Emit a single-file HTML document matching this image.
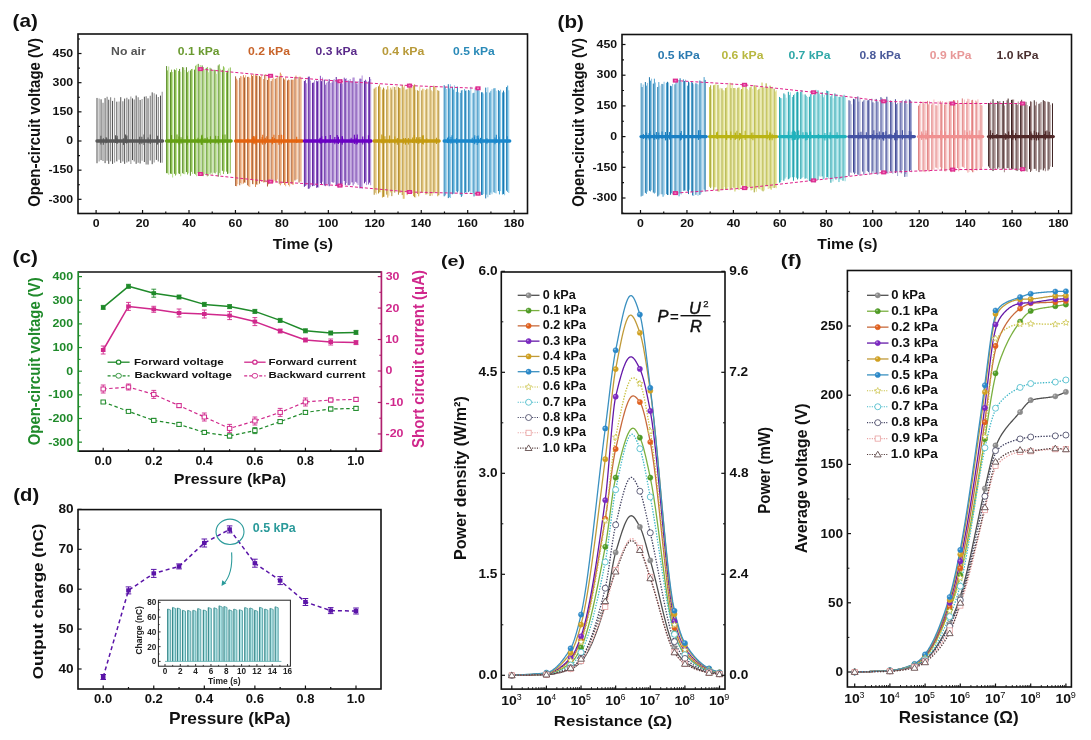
<!DOCTYPE html>
<html><head><meta charset="utf-8"><title>Figure</title>
<style>
html,body{margin:0;padding:0;background:#fff;width:1091px;height:740px;overflow:hidden}
svg{display:block;will-change:transform}
svg text{font-family:"Liberation Sans", Arial, sans-serif}
</style></head><body>
<svg width="1091" height="740" viewBox="0 0 1091 740">
<rect width="1091" height="740" fill="#fff"/>
<line x1="97" y1="97.94" x2="97" y2="163.24" stroke="#505050" stroke-width="1"/>
<line x1="99.13" y1="98.59" x2="99.13" y2="161.51" stroke="#a4a4a4" stroke-width="1.2"/>
<line x1="101.07" y1="99.29" x2="101.07" y2="160.11" stroke="#505050" stroke-width="1"/>
<line x1="103.01" y1="102.7" x2="103.01" y2="161.04" stroke="#8c8c8c" stroke-width="1.2"/>
<line x1="105.09" y1="98.12" x2="105.09" y2="163.13" stroke="#505050" stroke-width="1"/>
<line x1="107.11" y1="96.79" x2="107.11" y2="160.74" stroke="#8c8c8c" stroke-width="1.2"/>
<line x1="108.73" y1="99.72" x2="108.73" y2="163.87" stroke="#505050" stroke-width="1"/>
<line x1="110.59" y1="97.27" x2="110.59" y2="161.32" stroke="#8c8c8c" stroke-width="1.2"/>
<line x1="112.56" y1="100.92" x2="112.56" y2="163.93" stroke="#505050" stroke-width="1"/>
<line x1="114.55" y1="97.81" x2="114.55" y2="162.65" stroke="#a4a4a4" stroke-width="1.2"/>
<line x1="116.82" y1="101.67" x2="116.82" y2="161.38" stroke="#505050" stroke-width="1"/>
<line x1="119.06" y1="101.44" x2="119.06" y2="159.84" stroke="#a4a4a4" stroke-width="1.2"/>
<line x1="120.74" y1="97.16" x2="120.74" y2="162.97" stroke="#505050" stroke-width="1"/>
<line x1="122.84" y1="101.19" x2="122.84" y2="161.5" stroke="#8c8c8c" stroke-width="1.2"/>
<line x1="124.65" y1="98.58" x2="124.65" y2="163.83" stroke="#505050" stroke-width="1"/>
<line x1="126.84" y1="97.81" x2="126.84" y2="162.4" stroke="#8c8c8c" stroke-width="1.2"/>
<line x1="128.78" y1="99.3" x2="128.78" y2="161.51" stroke="#505050" stroke-width="1"/>
<line x1="130.85" y1="96.47" x2="130.85" y2="163.93" stroke="#a4a4a4" stroke-width="1.2"/>
<line x1="132.51" y1="98.4" x2="132.51" y2="160.08" stroke="#505050" stroke-width="1"/>
<line x1="134.22" y1="99.48" x2="134.22" y2="161.42" stroke="#8c8c8c" stroke-width="1.2"/>
<line x1="136.15" y1="95.58" x2="136.15" y2="163.84" stroke="#505050" stroke-width="1"/>
<line x1="138.18" y1="97.28" x2="138.18" y2="162.86" stroke="#8c8c8c" stroke-width="1.2"/>
<line x1="140.13" y1="99.93" x2="140.13" y2="163.51" stroke="#505050" stroke-width="1"/>
<line x1="142.11" y1="98.9" x2="142.11" y2="160.85" stroke="#a4a4a4" stroke-width="1.2"/>
<line x1="144.38" y1="96.71" x2="144.38" y2="162.02" stroke="#505050" stroke-width="1"/>
<line x1="146.16" y1="96.34" x2="146.16" y2="164.54" stroke="#8c8c8c" stroke-width="1.2"/>
<line x1="148.03" y1="98.33" x2="148.03" y2="164.55" stroke="#505050" stroke-width="1"/>
<line x1="150.29" y1="95.71" x2="150.29" y2="160.46" stroke="#8c8c8c" stroke-width="1.2"/>
<line x1="152.19" y1="92.35" x2="152.19" y2="164.19" stroke="#505050" stroke-width="1"/>
<line x1="154.19" y1="93.17" x2="154.19" y2="162.4" stroke="#a4a4a4" stroke-width="1.2"/>
<line x1="156.36" y1="94.47" x2="156.36" y2="159.91" stroke="#505050" stroke-width="1"/>
<line x1="158.33" y1="96.9" x2="158.33" y2="161.59" stroke="#8c8c8c" stroke-width="1.2"/>
<line x1="160.5" y1="95.64" x2="160.5" y2="162.72" stroke="#505050" stroke-width="1"/>
<line x1="162.22" y1="91.68" x2="162.22" y2="162.75" stroke="#a4a4a4" stroke-width="1.2"/>
<line x1="97" y1="141" x2="162.6" y2="141" stroke="#585858" stroke-width="3.4" stroke-linecap="round"/>
<line x1="157.12" y1="138.22" x2="157.12" y2="144.67" stroke="#585858" stroke-width="1.1"/>
<line x1="126.9" y1="135.48" x2="126.9" y2="143.2" stroke="#585858" stroke-width="1.1"/>
<line x1="115.55" y1="135.31" x2="115.55" y2="142.96" stroke="#585858" stroke-width="1.1"/>
<line x1="116.88" y1="137.83" x2="116.88" y2="143.14" stroke="#585858" stroke-width="1.1"/>
<line x1="157.64" y1="135.87" x2="157.64" y2="144.12" stroke="#585858" stroke-width="1.1"/>
<line x1="117.14" y1="135.69" x2="117.14" y2="143.74" stroke="#585858" stroke-width="1.1"/>
<line x1="106.03" y1="137.25" x2="106.03" y2="143.36" stroke="#585858" stroke-width="1.1"/>
<line x1="148.05" y1="137.47" x2="148.05" y2="143.13" stroke="#585858" stroke-width="1.1"/>
<line x1="143.98" y1="134.59" x2="143.98" y2="144.91" stroke="#585858" stroke-width="1.1"/>
<line x1="125.59" y1="134.6" x2="125.59" y2="143.06" stroke="#585858" stroke-width="1.1"/>
<line x1="123.47" y1="138.36" x2="123.47" y2="144.9" stroke="#585858" stroke-width="1.1"/>
<line x1="126.45" y1="136.47" x2="126.45" y2="143.57" stroke="#585858" stroke-width="1.1"/>
<line x1="150.27" y1="134.59" x2="150.27" y2="144.08" stroke="#585858" stroke-width="1.1"/>
<line x1="141.82" y1="136.7" x2="141.82" y2="143.81" stroke="#585858" stroke-width="1.1"/>
<line x1="100.89" y1="135.8" x2="100.89" y2="144.51" stroke="#585858" stroke-width="1.1"/>
<line x1="139.65" y1="136.79" x2="139.65" y2="144.34" stroke="#585858" stroke-width="1.1"/>
<line x1="106.74" y1="137.65" x2="106.74" y2="142.62" stroke="#585858" stroke-width="1.1"/>
<line x1="103.36" y1="138.19" x2="103.36" y2="144.79" stroke="#585858" stroke-width="1.1"/>
<line x1="166.6" y1="66.07" x2="166.6" y2="173.16" stroke="#5a8c28" stroke-width="1"/>
<line x1="167.65" y1="70.39" x2="167.65" y2="173.29" stroke="#88bc4c" stroke-width="1"/>
<line x1="168.7" y1="66.59" x2="168.7" y2="174.69" stroke="#bce294" stroke-width="1.1"/>
<line x1="170.48" y1="72.21" x2="170.48" y2="173.65" stroke="#5a8c28" stroke-width="1"/>
<line x1="171.53" y1="69.67" x2="171.53" y2="173.93" stroke="#88bc4c" stroke-width="1"/>
<line x1="172.58" y1="71.91" x2="172.58" y2="177.51" stroke="#bce294" stroke-width="1.1"/>
<line x1="174.43" y1="69.48" x2="174.43" y2="173.83" stroke="#5a8c28" stroke-width="1"/>
<line x1="175.48" y1="70.13" x2="175.48" y2="175.56" stroke="#88bc4c" stroke-width="1"/>
<line x1="176.53" y1="68.14" x2="176.53" y2="174.46" stroke="#bce294" stroke-width="1.1"/>
<line x1="178.55" y1="70.94" x2="178.55" y2="173.45" stroke="#88bc4c" stroke-width="1"/>
<line x1="179.6" y1="68.95" x2="179.6" y2="173.96" stroke="#5a8c28" stroke-width="1"/>
<line x1="180.65" y1="71.65" x2="180.65" y2="176.37" stroke="#bce294" stroke-width="1.1"/>
<line x1="182.65" y1="67.1" x2="182.65" y2="173.25" stroke="#5a8c28" stroke-width="1"/>
<line x1="183.7" y1="67.5" x2="183.7" y2="173.82" stroke="#88bc4c" stroke-width="1"/>
<line x1="184.75" y1="69.94" x2="184.75" y2="174.28" stroke="#bce294" stroke-width="1.1"/>
<line x1="186.45" y1="67.22" x2="186.45" y2="172.08" stroke="#5a8c28" stroke-width="1"/>
<line x1="187.5" y1="72.2" x2="187.5" y2="174.53" stroke="#88bc4c" stroke-width="1"/>
<line x1="188.55" y1="70.83" x2="188.55" y2="173.22" stroke="#bce294" stroke-width="1.1"/>
<line x1="190.4" y1="70.4" x2="190.4" y2="175.74" stroke="#5a8c28" stroke-width="1"/>
<line x1="191.45" y1="69.01" x2="191.45" y2="171.85" stroke="#88bc4c" stroke-width="1"/>
<line x1="192.5" y1="68.81" x2="192.5" y2="173.93" stroke="#bce294" stroke-width="1.1"/>
<line x1="194.55" y1="69.67" x2="194.55" y2="173.84" stroke="#5a8c28" stroke-width="1"/>
<line x1="195.6" y1="65.73" x2="195.6" y2="174.61" stroke="#88bc4c" stroke-width="1"/>
<line x1="196.65" y1="64.65" x2="196.65" y2="176.24" stroke="#bce294" stroke-width="1.1"/>
<line x1="198.22" y1="63.86" x2="198.22" y2="173.04" stroke="#5a8c28" stroke-width="1"/>
<line x1="199.27" y1="68.73" x2="199.27" y2="174.74" stroke="#88bc4c" stroke-width="1"/>
<line x1="200.32" y1="64.9" x2="200.32" y2="174.72" stroke="#bce294" stroke-width="1.1"/>
<line x1="202.17" y1="65.43" x2="202.17" y2="175.61" stroke="#5a8c28" stroke-width="1"/>
<line x1="203.22" y1="67.08" x2="203.22" y2="176.14" stroke="#88bc4c" stroke-width="1"/>
<line x1="204.27" y1="69.31" x2="204.27" y2="174.25" stroke="#bce294" stroke-width="1.1"/>
<line x1="206.26" y1="68.05" x2="206.26" y2="174.27" stroke="#5a8c28" stroke-width="1"/>
<line x1="207.31" y1="66.96" x2="207.31" y2="176.39" stroke="#88bc4c" stroke-width="1"/>
<line x1="208.36" y1="72.35" x2="208.36" y2="176.12" stroke="#bce294" stroke-width="1.1"/>
<line x1="210.05" y1="67.75" x2="210.05" y2="174.3" stroke="#88bc4c" stroke-width="1"/>
<line x1="211.1" y1="68.58" x2="211.1" y2="172.72" stroke="#5a8c28" stroke-width="1"/>
<line x1="212.15" y1="70.56" x2="212.15" y2="175.09" stroke="#bce294" stroke-width="1.1"/>
<line x1="214.19" y1="69.81" x2="214.19" y2="172.81" stroke="#5a8c28" stroke-width="1"/>
<line x1="215.24" y1="69.9" x2="215.24" y2="173.5" stroke="#88bc4c" stroke-width="1"/>
<line x1="216.29" y1="73.63" x2="216.29" y2="172.28" stroke="#bce294" stroke-width="1.1"/>
<line x1="218.24" y1="65.41" x2="218.24" y2="176.65" stroke="#5a8c28" stroke-width="1"/>
<line x1="219.29" y1="64.29" x2="219.29" y2="173.14" stroke="#88bc4c" stroke-width="1"/>
<line x1="220.34" y1="68.8" x2="220.34" y2="174.9" stroke="#bce294" stroke-width="1.1"/>
<line x1="222.39" y1="69.82" x2="222.39" y2="170.82" stroke="#5a8c28" stroke-width="1"/>
<line x1="223.44" y1="66.3" x2="223.44" y2="174.04" stroke="#88bc4c" stroke-width="1"/>
<line x1="224.49" y1="67.39" x2="224.49" y2="171.61" stroke="#bce294" stroke-width="1.1"/>
<line x1="226.51" y1="72.38" x2="226.51" y2="171.7" stroke="#88bc4c" stroke-width="1"/>
<line x1="227.56" y1="70.69" x2="227.56" y2="173.95" stroke="#5a8c28" stroke-width="1"/>
<line x1="228.61" y1="68.48" x2="228.61" y2="173.59" stroke="#bce294" stroke-width="1.1"/>
<line x1="230.31" y1="67.45" x2="230.31" y2="173.3" stroke="#88bc4c" stroke-width="1"/>
<line x1="166.6" y1="141" x2="231.1" y2="141" stroke="#64a014" stroke-width="3.4" stroke-linecap="round"/>
<line x1="187.09" y1="135.66" x2="187.09" y2="144.59" stroke="#64a014" stroke-width="1.1"/>
<line x1="205.01" y1="137.99" x2="205.01" y2="143.02" stroke="#64a014" stroke-width="1.1"/>
<line x1="201.6" y1="135.61" x2="201.6" y2="144.45" stroke="#64a014" stroke-width="1.1"/>
<line x1="218.27" y1="136.01" x2="218.27" y2="144.18" stroke="#64a014" stroke-width="1.1"/>
<line x1="202.05" y1="134.73" x2="202.05" y2="144.97" stroke="#64a014" stroke-width="1.1"/>
<line x1="181.03" y1="137.3" x2="181.03" y2="143.84" stroke="#64a014" stroke-width="1.1"/>
<line x1="171.54" y1="135.05" x2="171.54" y2="143.12" stroke="#64a014" stroke-width="1.1"/>
<line x1="215.66" y1="135.77" x2="215.66" y2="143.62" stroke="#64a014" stroke-width="1.1"/>
<line x1="194.63" y1="137.5" x2="194.63" y2="143.6" stroke="#64a014" stroke-width="1.1"/>
<line x1="201.15" y1="138.46" x2="201.15" y2="144.59" stroke="#64a014" stroke-width="1.1"/>
<line x1="178.98" y1="136.56" x2="178.98" y2="144.48" stroke="#64a014" stroke-width="1.1"/>
<line x1="225.02" y1="134.59" x2="225.02" y2="142.55" stroke="#64a014" stroke-width="1.1"/>
<line x1="210.45" y1="136.18" x2="210.45" y2="143.98" stroke="#64a014" stroke-width="1.1"/>
<line x1="176.98" y1="134.57" x2="176.98" y2="143.19" stroke="#64a014" stroke-width="1.1"/>
<line x1="202.73" y1="137.81" x2="202.73" y2="142.72" stroke="#64a014" stroke-width="1.1"/>
<line x1="198" y1="137.79" x2="198" y2="143.29" stroke="#64a014" stroke-width="1.1"/>
<line x1="222.63" y1="134.82" x2="222.63" y2="144.83" stroke="#64a014" stroke-width="1.1"/>
<line x1="207.27" y1="137.6" x2="207.27" y2="143.28" stroke="#64a014" stroke-width="1.1"/>
<line x1="235.6" y1="76.33" x2="235.6" y2="186.03" stroke="#a8643a" stroke-width="1"/>
<line x1="236.65" y1="78.68" x2="236.65" y2="186.22" stroke="#e08a50" stroke-width="1"/>
<line x1="237.7" y1="80.14" x2="237.7" y2="184.27" stroke="#f2bc90" stroke-width="1.1"/>
<line x1="239.75" y1="77.91" x2="239.75" y2="185.29" stroke="#a8643a" stroke-width="1"/>
<line x1="240.8" y1="76.07" x2="240.8" y2="183.07" stroke="#e08a50" stroke-width="1"/>
<line x1="241.85" y1="76.64" x2="241.85" y2="184.21" stroke="#f2bc90" stroke-width="1.1"/>
<line x1="243.45" y1="75.15" x2="243.45" y2="183.55" stroke="#e08a50" stroke-width="1"/>
<line x1="244.5" y1="77.49" x2="244.5" y2="182.52" stroke="#a8643a" stroke-width="1"/>
<line x1="245.55" y1="75.34" x2="245.55" y2="182.74" stroke="#f2bc90" stroke-width="1.1"/>
<line x1="247.62" y1="76.9" x2="247.62" y2="185.28" stroke="#a8643a" stroke-width="1"/>
<line x1="248.67" y1="76.84" x2="248.67" y2="186.22" stroke="#e08a50" stroke-width="1"/>
<line x1="249.72" y1="77.8" x2="249.72" y2="186.89" stroke="#f2bc90" stroke-width="1.1"/>
<line x1="251.53" y1="74.55" x2="251.53" y2="180.15" stroke="#e08a50" stroke-width="1"/>
<line x1="252.58" y1="75.98" x2="252.58" y2="184.14" stroke="#a8643a" stroke-width="1"/>
<line x1="253.63" y1="73.83" x2="253.63" y2="184.13" stroke="#f2bc90" stroke-width="1.1"/>
<line x1="255.54" y1="75.18" x2="255.54" y2="186.98" stroke="#e08a50" stroke-width="1"/>
<line x1="256.59" y1="75.49" x2="256.59" y2="184.54" stroke="#a8643a" stroke-width="1"/>
<line x1="257.64" y1="75.53" x2="257.64" y2="184.73" stroke="#f2bc90" stroke-width="1.1"/>
<line x1="259.52" y1="76.12" x2="259.52" y2="183.65" stroke="#a8643a" stroke-width="1"/>
<line x1="260.57" y1="76.88" x2="260.57" y2="180.81" stroke="#e08a50" stroke-width="1"/>
<line x1="261.62" y1="75.19" x2="261.62" y2="182.08" stroke="#f2bc90" stroke-width="1.1"/>
<line x1="263.69" y1="79.04" x2="263.69" y2="182.49" stroke="#e08a50" stroke-width="1"/>
<line x1="264.74" y1="74.76" x2="264.74" y2="182.17" stroke="#a8643a" stroke-width="1"/>
<line x1="265.79" y1="74.09" x2="265.79" y2="182.3" stroke="#f2bc90" stroke-width="1.1"/>
<line x1="267.48" y1="79.97" x2="267.48" y2="186.51" stroke="#a8643a" stroke-width="1"/>
<line x1="268.53" y1="75.81" x2="268.53" y2="184.27" stroke="#e08a50" stroke-width="1"/>
<line x1="269.58" y1="77.32" x2="269.58" y2="183.21" stroke="#f2bc90" stroke-width="1.1"/>
<line x1="271.2" y1="81.08" x2="271.2" y2="179.63" stroke="#a8643a" stroke-width="1"/>
<line x1="272.25" y1="79.07" x2="272.25" y2="179.58" stroke="#e08a50" stroke-width="1"/>
<line x1="273.3" y1="77.43" x2="273.3" y2="182.56" stroke="#f2bc90" stroke-width="1.1"/>
<line x1="275.24" y1="78.88" x2="275.24" y2="180.84" stroke="#a8643a" stroke-width="1"/>
<line x1="276.29" y1="78.11" x2="276.29" y2="182.29" stroke="#e08a50" stroke-width="1"/>
<line x1="277.34" y1="75.99" x2="277.34" y2="179.43" stroke="#f2bc90" stroke-width="1.1"/>
<line x1="279.27" y1="76.34" x2="279.27" y2="183.77" stroke="#a8643a" stroke-width="1"/>
<line x1="280.32" y1="72.63" x2="280.32" y2="185.33" stroke="#e08a50" stroke-width="1"/>
<line x1="281.37" y1="74.25" x2="281.37" y2="183.7" stroke="#f2bc90" stroke-width="1.1"/>
<line x1="283.47" y1="78.32" x2="283.47" y2="183.01" stroke="#a8643a" stroke-width="1"/>
<line x1="284.52" y1="79.49" x2="284.52" y2="184.82" stroke="#e08a50" stroke-width="1"/>
<line x1="285.57" y1="77.05" x2="285.57" y2="186.33" stroke="#f2bc90" stroke-width="1.1"/>
<line x1="287.49" y1="80.43" x2="287.49" y2="182.9" stroke="#a8643a" stroke-width="1"/>
<line x1="288.54" y1="79.57" x2="288.54" y2="185.07" stroke="#e08a50" stroke-width="1"/>
<line x1="289.59" y1="79.89" x2="289.59" y2="186.38" stroke="#f2bc90" stroke-width="1.1"/>
<line x1="291.3" y1="79.66" x2="291.3" y2="183.68" stroke="#a8643a" stroke-width="1"/>
<line x1="292.35" y1="79.78" x2="292.35" y2="184.49" stroke="#e08a50" stroke-width="1"/>
<line x1="293.4" y1="79.65" x2="293.4" y2="184.68" stroke="#f2bc90" stroke-width="1.1"/>
<line x1="294.91" y1="76.93" x2="294.91" y2="180.5" stroke="#a8643a" stroke-width="1"/>
<line x1="295.96" y1="75.62" x2="295.96" y2="179.61" stroke="#e08a50" stroke-width="1"/>
<line x1="297.01" y1="79.21" x2="297.01" y2="179.33" stroke="#f2bc90" stroke-width="1.1"/>
<line x1="299.06" y1="76.91" x2="299.06" y2="182.64" stroke="#a8643a" stroke-width="1"/>
<line x1="300.11" y1="76.64" x2="300.11" y2="181.32" stroke="#e08a50" stroke-width="1"/>
<line x1="301.16" y1="78.15" x2="301.16" y2="181.77" stroke="#f2bc90" stroke-width="1.1"/>
<line x1="235.6" y1="141" x2="302.1" y2="141" stroke="#e46410" stroke-width="3.4" stroke-linecap="round"/>
<line x1="274.51" y1="138.22" x2="274.51" y2="142.67" stroke="#e46410" stroke-width="1.1"/>
<line x1="265.26" y1="137.84" x2="265.26" y2="144.28" stroke="#e46410" stroke-width="1.1"/>
<line x1="247.7" y1="138.13" x2="247.7" y2="144.09" stroke="#e46410" stroke-width="1.1"/>
<line x1="254.84" y1="137.28" x2="254.84" y2="143.82" stroke="#e46410" stroke-width="1.1"/>
<line x1="252.43" y1="137.16" x2="252.43" y2="142.67" stroke="#e46410" stroke-width="1.1"/>
<line x1="281.3" y1="134.86" x2="281.3" y2="144.15" stroke="#e46410" stroke-width="1.1"/>
<line x1="266.85" y1="136.27" x2="266.85" y2="142.62" stroke="#e46410" stroke-width="1.1"/>
<line x1="256.15" y1="135.56" x2="256.15" y2="144.99" stroke="#e46410" stroke-width="1.1"/>
<line x1="272.37" y1="137.08" x2="272.37" y2="144.35" stroke="#e46410" stroke-width="1.1"/>
<line x1="262.13" y1="136.9" x2="262.13" y2="143.71" stroke="#e46410" stroke-width="1.1"/>
<line x1="253.82" y1="136.06" x2="253.82" y2="144.29" stroke="#e46410" stroke-width="1.1"/>
<line x1="253.77" y1="136.06" x2="253.77" y2="143.11" stroke="#e46410" stroke-width="1.1"/>
<line x1="278.9" y1="135.09" x2="278.9" y2="144.67" stroke="#e46410" stroke-width="1.1"/>
<line x1="262.76" y1="134.79" x2="262.76" y2="144.83" stroke="#e46410" stroke-width="1.1"/>
<line x1="253.13" y1="137.42" x2="253.13" y2="142.68" stroke="#e46410" stroke-width="1.1"/>
<line x1="283.37" y1="135.02" x2="283.37" y2="143.95" stroke="#e46410" stroke-width="1.1"/>
<line x1="273.94" y1="134.77" x2="273.94" y2="142.87" stroke="#e46410" stroke-width="1.1"/>
<line x1="296.69" y1="136.66" x2="296.69" y2="142.91" stroke="#e46410" stroke-width="1.1"/>
<line x1="304.4" y1="81.03" x2="304.4" y2="186.77" stroke="#5a1c9c" stroke-width="1"/>
<line x1="305.45" y1="79.87" x2="305.45" y2="185.9" stroke="#8450bc" stroke-width="1"/>
<line x1="306.5" y1="83.26" x2="306.5" y2="185.28" stroke="#b898dc" stroke-width="1.1"/>
<line x1="308.34" y1="76.7" x2="308.34" y2="188.79" stroke="#5a1c9c" stroke-width="1"/>
<line x1="309.39" y1="76.57" x2="309.39" y2="188.53" stroke="#8450bc" stroke-width="1"/>
<line x1="310.44" y1="80.53" x2="310.44" y2="187.37" stroke="#b898dc" stroke-width="1.1"/>
<line x1="312.45" y1="82.82" x2="312.45" y2="186.17" stroke="#5a1c9c" stroke-width="1"/>
<line x1="313.5" y1="82.52" x2="313.5" y2="185.71" stroke="#8450bc" stroke-width="1"/>
<line x1="314.55" y1="80.18" x2="314.55" y2="185.99" stroke="#b898dc" stroke-width="1.1"/>
<line x1="316.52" y1="80.71" x2="316.52" y2="187.83" stroke="#8450bc" stroke-width="1"/>
<line x1="317.57" y1="81.34" x2="317.57" y2="187.4" stroke="#5a1c9c" stroke-width="1"/>
<line x1="318.62" y1="80.55" x2="318.62" y2="187.6" stroke="#b898dc" stroke-width="1.1"/>
<line x1="320.39" y1="75.81" x2="320.39" y2="183.06" stroke="#8450bc" stroke-width="1"/>
<line x1="321.44" y1="81.12" x2="321.44" y2="184.71" stroke="#5a1c9c" stroke-width="1"/>
<line x1="322.49" y1="77.51" x2="322.49" y2="181.78" stroke="#b898dc" stroke-width="1.1"/>
<line x1="324.29" y1="79.63" x2="324.29" y2="185.47" stroke="#5a1c9c" stroke-width="1"/>
<line x1="325.34" y1="84.7" x2="325.34" y2="186.17" stroke="#8450bc" stroke-width="1"/>
<line x1="326.39" y1="82.83" x2="326.39" y2="184.87" stroke="#b898dc" stroke-width="1.1"/>
<line x1="328.13" y1="81.63" x2="328.13" y2="184.38" stroke="#8450bc" stroke-width="1"/>
<line x1="329.18" y1="79.19" x2="329.18" y2="186.22" stroke="#5a1c9c" stroke-width="1"/>
<line x1="330.23" y1="83.1" x2="330.23" y2="183.96" stroke="#b898dc" stroke-width="1.1"/>
<line x1="332.05" y1="82.4" x2="332.05" y2="182.02" stroke="#8450bc" stroke-width="1"/>
<line x1="333.1" y1="80.18" x2="333.1" y2="182.64" stroke="#5a1c9c" stroke-width="1"/>
<line x1="334.15" y1="79.11" x2="334.15" y2="182.32" stroke="#b898dc" stroke-width="1.1"/>
<line x1="336.23" y1="77.02" x2="336.23" y2="185.37" stroke="#5a1c9c" stroke-width="1"/>
<line x1="337.28" y1="80.16" x2="337.28" y2="186.31" stroke="#8450bc" stroke-width="1"/>
<line x1="338.33" y1="81.79" x2="338.33" y2="187.51" stroke="#b898dc" stroke-width="1.1"/>
<line x1="340.36" y1="83.25" x2="340.36" y2="184.37" stroke="#5a1c9c" stroke-width="1"/>
<line x1="341.41" y1="79.33" x2="341.41" y2="186.81" stroke="#8450bc" stroke-width="1"/>
<line x1="342.46" y1="83.56" x2="342.46" y2="184.38" stroke="#b898dc" stroke-width="1.1"/>
<line x1="344.26" y1="77.65" x2="344.26" y2="181" stroke="#8450bc" stroke-width="1"/>
<line x1="345.31" y1="78.9" x2="345.31" y2="184.9" stroke="#5a1c9c" stroke-width="1"/>
<line x1="346.36" y1="78.16" x2="346.36" y2="183.05" stroke="#b898dc" stroke-width="1.1"/>
<line x1="348.12" y1="80.36" x2="348.12" y2="185.16" stroke="#8450bc" stroke-width="1"/>
<line x1="349.17" y1="80.96" x2="349.17" y2="185.18" stroke="#5a1c9c" stroke-width="1"/>
<line x1="350.22" y1="79.05" x2="350.22" y2="184.45" stroke="#b898dc" stroke-width="1.1"/>
<line x1="352.09" y1="81.16" x2="352.09" y2="182.39" stroke="#5a1c9c" stroke-width="1"/>
<line x1="353.14" y1="77.57" x2="353.14" y2="185.44" stroke="#8450bc" stroke-width="1"/>
<line x1="354.19" y1="77.56" x2="354.19" y2="183.84" stroke="#b898dc" stroke-width="1.1"/>
<line x1="355.96" y1="81.58" x2="355.96" y2="181.89" stroke="#5a1c9c" stroke-width="1"/>
<line x1="357.01" y1="84.1" x2="357.01" y2="183.26" stroke="#8450bc" stroke-width="1"/>
<line x1="358.06" y1="80.91" x2="358.06" y2="185" stroke="#b898dc" stroke-width="1.1"/>
<line x1="360.04" y1="78.63" x2="360.04" y2="188.37" stroke="#5a1c9c" stroke-width="1"/>
<line x1="361.09" y1="78.77" x2="361.09" y2="186.91" stroke="#8450bc" stroke-width="1"/>
<line x1="362.14" y1="75.46" x2="362.14" y2="188.98" stroke="#b898dc" stroke-width="1.1"/>
<line x1="364.44" y1="80.9" x2="364.44" y2="183.34" stroke="#5a1c9c" stroke-width="1"/>
<line x1="365.49" y1="79.72" x2="365.49" y2="181.79" stroke="#8450bc" stroke-width="1"/>
<line x1="366.54" y1="80.76" x2="366.54" y2="185.1" stroke="#b898dc" stroke-width="1.1"/>
<line x1="368.56" y1="81.5" x2="368.56" y2="184.43" stroke="#8450bc" stroke-width="1"/>
<line x1="369.61" y1="77.06" x2="369.61" y2="182.64" stroke="#5a1c9c" stroke-width="1"/>
<line x1="370.66" y1="78.91" x2="370.66" y2="185.36" stroke="#b898dc" stroke-width="1.1"/>
<line x1="304.4" y1="141" x2="371" y2="141" stroke="#6a00c4" stroke-width="3.4" stroke-linecap="round"/>
<line x1="342.28" y1="136.69" x2="342.28" y2="143.2" stroke="#6a00c4" stroke-width="1.1"/>
<line x1="334.83" y1="137.04" x2="334.83" y2="144.35" stroke="#6a00c4" stroke-width="1.1"/>
<line x1="330.22" y1="134.94" x2="330.22" y2="142.7" stroke="#6a00c4" stroke-width="1.1"/>
<line x1="342.64" y1="138.28" x2="342.64" y2="142.62" stroke="#6a00c4" stroke-width="1.1"/>
<line x1="337.21" y1="135.09" x2="337.21" y2="143.13" stroke="#6a00c4" stroke-width="1.1"/>
<line x1="321.76" y1="136.2" x2="321.76" y2="143.35" stroke="#6a00c4" stroke-width="1.1"/>
<line x1="368.41" y1="135.31" x2="368.41" y2="143.43" stroke="#6a00c4" stroke-width="1.1"/>
<line x1="325.64" y1="136.11" x2="325.64" y2="143.35" stroke="#6a00c4" stroke-width="1.1"/>
<line x1="338.17" y1="138.38" x2="338.17" y2="143.13" stroke="#6a00c4" stroke-width="1.1"/>
<line x1="320.24" y1="137.97" x2="320.24" y2="142.78" stroke="#6a00c4" stroke-width="1.1"/>
<line x1="354.37" y1="134.74" x2="354.37" y2="144.05" stroke="#6a00c4" stroke-width="1.1"/>
<line x1="357.21" y1="134.59" x2="357.21" y2="144.2" stroke="#6a00c4" stroke-width="1.1"/>
<line x1="351.14" y1="137.68" x2="351.14" y2="142.67" stroke="#6a00c4" stroke-width="1.1"/>
<line x1="342.16" y1="135.94" x2="342.16" y2="144.64" stroke="#6a00c4" stroke-width="1.1"/>
<line x1="356.12" y1="137.63" x2="356.12" y2="144.6" stroke="#6a00c4" stroke-width="1.1"/>
<line x1="338.42" y1="136.77" x2="338.42" y2="143.98" stroke="#6a00c4" stroke-width="1.1"/>
<line x1="362.74" y1="136.55" x2="362.74" y2="144.52" stroke="#6a00c4" stroke-width="1.1"/>
<line x1="320.17" y1="137.7" x2="320.17" y2="143.73" stroke="#6a00c4" stroke-width="1.1"/>
<line x1="374.2" y1="88.7" x2="374.2" y2="194.78" stroke="#b08c30" stroke-width="1"/>
<line x1="375.25" y1="87.63" x2="375.25" y2="192.85" stroke="#d4ac4c" stroke-width="1"/>
<line x1="376.3" y1="86.93" x2="376.3" y2="194.46" stroke="#ecd494" stroke-width="1.1"/>
<line x1="378.49" y1="86.32" x2="378.49" y2="193.48" stroke="#b08c30" stroke-width="1"/>
<line x1="379.54" y1="84.5" x2="379.54" y2="192.31" stroke="#d4ac4c" stroke-width="1"/>
<line x1="380.59" y1="87.1" x2="380.59" y2="192.14" stroke="#ecd494" stroke-width="1.1"/>
<line x1="382.44" y1="89.52" x2="382.44" y2="197.57" stroke="#d4ac4c" stroke-width="1"/>
<line x1="383.49" y1="87.61" x2="383.49" y2="196.87" stroke="#b08c30" stroke-width="1"/>
<line x1="384.54" y1="88.69" x2="384.54" y2="196.75" stroke="#ecd494" stroke-width="1.1"/>
<line x1="386.74" y1="89.54" x2="386.74" y2="194.65" stroke="#b08c30" stroke-width="1"/>
<line x1="387.79" y1="86.05" x2="387.79" y2="197.61" stroke="#d4ac4c" stroke-width="1"/>
<line x1="388.84" y1="89.14" x2="388.84" y2="195.71" stroke="#ecd494" stroke-width="1.1"/>
<line x1="390.8" y1="87.57" x2="390.8" y2="192.39" stroke="#d4ac4c" stroke-width="1"/>
<line x1="391.85" y1="89.54" x2="391.85" y2="196.15" stroke="#b08c30" stroke-width="1"/>
<line x1="392.9" y1="86.42" x2="392.9" y2="191.81" stroke="#ecd494" stroke-width="1.1"/>
<line x1="394.75" y1="87" x2="394.75" y2="192.65" stroke="#b08c30" stroke-width="1"/>
<line x1="395.8" y1="89.81" x2="395.8" y2="189.76" stroke="#d4ac4c" stroke-width="1"/>
<line x1="396.85" y1="85.85" x2="396.85" y2="190.09" stroke="#ecd494" stroke-width="1.1"/>
<line x1="398.46" y1="87.16" x2="398.46" y2="194.69" stroke="#b08c30" stroke-width="1"/>
<line x1="399.51" y1="87.96" x2="399.51" y2="192.61" stroke="#d4ac4c" stroke-width="1"/>
<line x1="400.56" y1="88.17" x2="400.56" y2="193.04" stroke="#ecd494" stroke-width="1.1"/>
<line x1="402.24" y1="84.95" x2="402.24" y2="195.05" stroke="#b08c30" stroke-width="1"/>
<line x1="403.29" y1="87.46" x2="403.29" y2="198.75" stroke="#d4ac4c" stroke-width="1"/>
<line x1="404.34" y1="85.22" x2="404.34" y2="198.7" stroke="#ecd494" stroke-width="1.1"/>
<line x1="406.12" y1="89.59" x2="406.12" y2="191.84" stroke="#b08c30" stroke-width="1"/>
<line x1="407.17" y1="89.08" x2="407.17" y2="195.14" stroke="#d4ac4c" stroke-width="1"/>
<line x1="408.22" y1="86.52" x2="408.22" y2="192.78" stroke="#ecd494" stroke-width="1.1"/>
<line x1="409.85" y1="83.65" x2="409.85" y2="190.95" stroke="#b08c30" stroke-width="1"/>
<line x1="410.9" y1="87.68" x2="410.9" y2="190.69" stroke="#d4ac4c" stroke-width="1"/>
<line x1="411.95" y1="86.93" x2="411.95" y2="191.09" stroke="#ecd494" stroke-width="1.1"/>
<line x1="413.56" y1="85.45" x2="413.56" y2="196.17" stroke="#d4ac4c" stroke-width="1"/>
<line x1="414.61" y1="84.42" x2="414.61" y2="197.21" stroke="#b08c30" stroke-width="1"/>
<line x1="415.66" y1="89.69" x2="415.66" y2="197.58" stroke="#ecd494" stroke-width="1.1"/>
<line x1="417.66" y1="90.28" x2="417.66" y2="194.01" stroke="#b08c30" stroke-width="1"/>
<line x1="418.71" y1="91.01" x2="418.71" y2="196.37" stroke="#d4ac4c" stroke-width="1"/>
<line x1="419.76" y1="86.46" x2="419.76" y2="194.17" stroke="#ecd494" stroke-width="1.1"/>
<line x1="421.75" y1="90.42" x2="421.75" y2="192.36" stroke="#b08c30" stroke-width="1"/>
<line x1="422.8" y1="88.69" x2="422.8" y2="192.85" stroke="#d4ac4c" stroke-width="1"/>
<line x1="423.85" y1="89.21" x2="423.85" y2="190.79" stroke="#ecd494" stroke-width="1.1"/>
<line x1="425.82" y1="89.97" x2="425.82" y2="194.54" stroke="#d4ac4c" stroke-width="1"/>
<line x1="426.87" y1="88.73" x2="426.87" y2="194.25" stroke="#b08c30" stroke-width="1"/>
<line x1="427.92" y1="89.31" x2="427.92" y2="193.98" stroke="#ecd494" stroke-width="1.1"/>
<line x1="430.07" y1="86.56" x2="430.07" y2="196.03" stroke="#b08c30" stroke-width="1"/>
<line x1="431.12" y1="90.32" x2="431.12" y2="194.18" stroke="#d4ac4c" stroke-width="1"/>
<line x1="432.17" y1="91.25" x2="432.17" y2="195.81" stroke="#ecd494" stroke-width="1.1"/>
<line x1="433.8" y1="85.73" x2="433.8" y2="193.29" stroke="#b08c30" stroke-width="1"/>
<line x1="434.85" y1="86.75" x2="434.85" y2="192.11" stroke="#d4ac4c" stroke-width="1"/>
<line x1="435.9" y1="86.02" x2="435.9" y2="192.15" stroke="#ecd494" stroke-width="1.1"/>
<line x1="437.74" y1="90.16" x2="437.74" y2="196.31" stroke="#d4ac4c" stroke-width="1"/>
<line x1="438.79" y1="90.83" x2="438.79" y2="195.23" stroke="#b08c30" stroke-width="1"/>
<line x1="374.2" y1="141" x2="439.1" y2="141" stroke="#c49a10" stroke-width="3.4" stroke-linecap="round"/>
<line x1="394.82" y1="136.53" x2="394.82" y2="143.75" stroke="#c49a10" stroke-width="1.1"/>
<line x1="412.68" y1="137.53" x2="412.68" y2="142.94" stroke="#c49a10" stroke-width="1.1"/>
<line x1="422.42" y1="135.54" x2="422.42" y2="143.95" stroke="#c49a10" stroke-width="1.1"/>
<line x1="403.67" y1="137.9" x2="403.67" y2="143.76" stroke="#c49a10" stroke-width="1.1"/>
<line x1="408.38" y1="137.96" x2="408.38" y2="144.4" stroke="#c49a10" stroke-width="1.1"/>
<line x1="436.42" y1="137.65" x2="436.42" y2="144.06" stroke="#c49a10" stroke-width="1.1"/>
<line x1="405.46" y1="138.03" x2="405.46" y2="144.72" stroke="#c49a10" stroke-width="1.1"/>
<line x1="418.73" y1="137.6" x2="418.73" y2="144.09" stroke="#c49a10" stroke-width="1.1"/>
<line x1="426.69" y1="138.3" x2="426.69" y2="142.93" stroke="#c49a10" stroke-width="1.1"/>
<line x1="383.27" y1="136.25" x2="383.27" y2="143.76" stroke="#c49a10" stroke-width="1.1"/>
<line x1="416.39" y1="137.27" x2="416.39" y2="143.32" stroke="#c49a10" stroke-width="1.1"/>
<line x1="423.32" y1="135.21" x2="423.32" y2="144.56" stroke="#c49a10" stroke-width="1.1"/>
<line x1="389.61" y1="135.53" x2="389.61" y2="143.2" stroke="#c49a10" stroke-width="1.1"/>
<line x1="414.3" y1="135.06" x2="414.3" y2="143.17" stroke="#c49a10" stroke-width="1.1"/>
<line x1="419.97" y1="136.98" x2="419.97" y2="142.8" stroke="#c49a10" stroke-width="1.1"/>
<line x1="397.33" y1="138.05" x2="397.33" y2="144.75" stroke="#c49a10" stroke-width="1.1"/>
<line x1="384.93" y1="136.2" x2="384.93" y2="143.37" stroke="#c49a10" stroke-width="1.1"/>
<line x1="381.79" y1="134.5" x2="381.79" y2="143.25" stroke="#c49a10" stroke-width="1.1"/>
<line x1="444.2" y1="85.21" x2="444.2" y2="196.31" stroke="#1c78b0" stroke-width="1"/>
<line x1="445.25" y1="86.98" x2="445.25" y2="195.39" stroke="#44a4d4" stroke-width="1"/>
<line x1="446.3" y1="88.89" x2="446.3" y2="192.57" stroke="#94cce8" stroke-width="1.1"/>
<line x1="448.3" y1="84.21" x2="448.3" y2="198.1" stroke="#1c78b0" stroke-width="1"/>
<line x1="449.35" y1="88.29" x2="449.35" y2="197.2" stroke="#44a4d4" stroke-width="1"/>
<line x1="450.4" y1="84.3" x2="450.4" y2="198.11" stroke="#94cce8" stroke-width="1.1"/>
<line x1="452.36" y1="86.81" x2="452.36" y2="194.27" stroke="#1c78b0" stroke-width="1"/>
<line x1="453.41" y1="89.56" x2="453.41" y2="193.74" stroke="#44a4d4" stroke-width="1"/>
<line x1="454.46" y1="85.27" x2="454.46" y2="193.75" stroke="#94cce8" stroke-width="1.1"/>
<line x1="456.34" y1="91.88" x2="456.34" y2="191.28" stroke="#44a4d4" stroke-width="1"/>
<line x1="457.39" y1="86.62" x2="457.39" y2="192.47" stroke="#1c78b0" stroke-width="1"/>
<line x1="458.44" y1="92.17" x2="458.44" y2="191.23" stroke="#94cce8" stroke-width="1.1"/>
<line x1="460.32" y1="92.91" x2="460.32" y2="194.86" stroke="#44a4d4" stroke-width="1"/>
<line x1="461.37" y1="90.38" x2="461.37" y2="196.84" stroke="#1c78b0" stroke-width="1"/>
<line x1="462.42" y1="90.09" x2="462.42" y2="195.84" stroke="#94cce8" stroke-width="1.1"/>
<line x1="464.59" y1="89.2" x2="464.59" y2="193.21" stroke="#44a4d4" stroke-width="1"/>
<line x1="465.64" y1="90.69" x2="465.64" y2="192.34" stroke="#1c78b0" stroke-width="1"/>
<line x1="466.69" y1="90.53" x2="466.69" y2="193.61" stroke="#94cce8" stroke-width="1.1"/>
<line x1="468.71" y1="89.96" x2="468.71" y2="192.1" stroke="#1c78b0" stroke-width="1"/>
<line x1="469.76" y1="90.82" x2="469.76" y2="190.93" stroke="#44a4d4" stroke-width="1"/>
<line x1="470.81" y1="86.73" x2="470.81" y2="193.37" stroke="#94cce8" stroke-width="1.1"/>
<line x1="472.99" y1="93.16" x2="472.99" y2="192.78" stroke="#44a4d4" stroke-width="1"/>
<line x1="474.04" y1="92.75" x2="474.04" y2="196.43" stroke="#1c78b0" stroke-width="1"/>
<line x1="475.09" y1="88.87" x2="475.09" y2="192.32" stroke="#94cce8" stroke-width="1.1"/>
<line x1="477.15" y1="89.33" x2="477.15" y2="192.96" stroke="#1c78b0" stroke-width="1"/>
<line x1="478.2" y1="87.49" x2="478.2" y2="194.39" stroke="#44a4d4" stroke-width="1"/>
<line x1="479.25" y1="90.77" x2="479.25" y2="194.02" stroke="#94cce8" stroke-width="1.1"/>
<line x1="481.54" y1="92.24" x2="481.54" y2="194.92" stroke="#1c78b0" stroke-width="1"/>
<line x1="482.59" y1="92.36" x2="482.59" y2="194.99" stroke="#44a4d4" stroke-width="1"/>
<line x1="483.64" y1="93.47" x2="483.64" y2="194.04" stroke="#94cce8" stroke-width="1.1"/>
<line x1="485.72" y1="87.62" x2="485.72" y2="198.42" stroke="#1c78b0" stroke-width="1"/>
<line x1="486.77" y1="92.22" x2="486.77" y2="194.66" stroke="#44a4d4" stroke-width="1"/>
<line x1="487.82" y1="87.23" x2="487.82" y2="197.31" stroke="#94cce8" stroke-width="1.1"/>
<line x1="489.87" y1="92.53" x2="489.87" y2="194.89" stroke="#1c78b0" stroke-width="1"/>
<line x1="490.92" y1="90.84" x2="490.92" y2="192.63" stroke="#44a4d4" stroke-width="1"/>
<line x1="491.97" y1="89.29" x2="491.97" y2="194.16" stroke="#94cce8" stroke-width="1.1"/>
<line x1="493.98" y1="88.36" x2="493.98" y2="192.23" stroke="#1c78b0" stroke-width="1"/>
<line x1="495.03" y1="88.17" x2="495.03" y2="193" stroke="#44a4d4" stroke-width="1"/>
<line x1="496.08" y1="90.75" x2="496.08" y2="193.51" stroke="#94cce8" stroke-width="1.1"/>
<line x1="498.41" y1="90.17" x2="498.41" y2="191.05" stroke="#1c78b0" stroke-width="1"/>
<line x1="499.46" y1="91.08" x2="499.46" y2="194.4" stroke="#44a4d4" stroke-width="1"/>
<line x1="500.51" y1="89.67" x2="500.51" y2="191.13" stroke="#94cce8" stroke-width="1.1"/>
<line x1="502.46" y1="92.44" x2="502.46" y2="194.49" stroke="#44a4d4" stroke-width="1"/>
<line x1="503.51" y1="90.59" x2="503.51" y2="194.08" stroke="#1c78b0" stroke-width="1"/>
<line x1="504.56" y1="92.35" x2="504.56" y2="195.36" stroke="#94cce8" stroke-width="1.1"/>
<line x1="506.62" y1="87.09" x2="506.62" y2="190.67" stroke="#1c78b0" stroke-width="1"/>
<line x1="507.67" y1="85.57" x2="507.67" y2="191.97" stroke="#44a4d4" stroke-width="1"/>
<line x1="508.72" y1="90.29" x2="508.72" y2="193.04" stroke="#94cce8" stroke-width="1.1"/>
<line x1="444.2" y1="141" x2="509.7" y2="141" stroke="#1a88cc" stroke-width="3.4" stroke-linecap="round"/>
<line x1="474.42" y1="136.99" x2="474.42" y2="143.76" stroke="#1a88cc" stroke-width="1.1"/>
<line x1="496.32" y1="134.83" x2="496.32" y2="142.89" stroke="#1a88cc" stroke-width="1.1"/>
<line x1="478.46" y1="138.08" x2="478.46" y2="143.14" stroke="#1a88cc" stroke-width="1.1"/>
<line x1="474.76" y1="135.26" x2="474.76" y2="144.26" stroke="#1a88cc" stroke-width="1.1"/>
<line x1="494.97" y1="137.59" x2="494.97" y2="144.24" stroke="#1a88cc" stroke-width="1.1"/>
<line x1="507.19" y1="136.32" x2="507.19" y2="143.12" stroke="#1a88cc" stroke-width="1.1"/>
<line x1="472.21" y1="137.86" x2="472.21" y2="142.95" stroke="#1a88cc" stroke-width="1.1"/>
<line x1="486.94" y1="138.2" x2="486.94" y2="143.84" stroke="#1a88cc" stroke-width="1.1"/>
<line x1="480.51" y1="137.86" x2="480.51" y2="143.44" stroke="#1a88cc" stroke-width="1.1"/>
<line x1="447.53" y1="137.63" x2="447.53" y2="143.09" stroke="#1a88cc" stroke-width="1.1"/>
<line x1="448.69" y1="136.44" x2="448.69" y2="142.98" stroke="#1a88cc" stroke-width="1.1"/>
<line x1="477.2" y1="136.05" x2="477.2" y2="145" stroke="#1a88cc" stroke-width="1.1"/>
<line x1="450.95" y1="136.91" x2="450.95" y2="143.66" stroke="#1a88cc" stroke-width="1.1"/>
<line x1="481.07" y1="138.31" x2="481.07" y2="142.72" stroke="#1a88cc" stroke-width="1.1"/>
<line x1="452.02" y1="135.24" x2="452.02" y2="142.61" stroke="#1a88cc" stroke-width="1.1"/>
<line x1="478.09" y1="135.39" x2="478.09" y2="142.55" stroke="#1a88cc" stroke-width="1.1"/>
<line x1="499.05" y1="136.63" x2="499.05" y2="144.31" stroke="#1a88cc" stroke-width="1.1"/>
<line x1="456.45" y1="137.97" x2="456.45" y2="143.9" stroke="#1a88cc" stroke-width="1.1"/>
<polyline points="200.5,69.1 270.5,75.8 339.9,81.2 409.5,85.6 478,88.3" fill="none" stroke="#e0208a" stroke-width="1" stroke-dasharray="3,2" stroke-linejoin="round"/>
<polyline points="200.5,174 270.5,181.6 339.9,185.6 409.5,192 478,193.7" fill="none" stroke="#e0208a" stroke-width="1" stroke-dasharray="3,2" stroke-linejoin="round"/>
<rect x="197.9" y="67.1" width="5.2" height="4" fill="#dc2a8e" stroke="none" stroke-width="1"/>
<rect x="199.5" y="68.3" width="2" height="1.6" fill="#f07ac0" stroke="none" stroke-width="1"/>
<rect x="197.9" y="172" width="5.2" height="4" fill="#dc2a8e" stroke="none" stroke-width="1"/>
<rect x="199.5" y="173.2" width="2" height="1.6" fill="#f07ac0" stroke="none" stroke-width="1"/>
<rect x="267.9" y="73.8" width="5.2" height="4" fill="#dc2a8e" stroke="none" stroke-width="1"/>
<rect x="269.5" y="75" width="2" height="1.6" fill="#f07ac0" stroke="none" stroke-width="1"/>
<rect x="267.9" y="179.6" width="5.2" height="4" fill="#dc2a8e" stroke="none" stroke-width="1"/>
<rect x="269.5" y="180.8" width="2" height="1.6" fill="#f07ac0" stroke="none" stroke-width="1"/>
<rect x="337.3" y="79.2" width="5.2" height="4" fill="#dc2a8e" stroke="none" stroke-width="1"/>
<rect x="338.9" y="80.4" width="2" height="1.6" fill="#f07ac0" stroke="none" stroke-width="1"/>
<rect x="337.3" y="183.6" width="5.2" height="4" fill="#dc2a8e" stroke="none" stroke-width="1"/>
<rect x="338.9" y="184.8" width="2" height="1.6" fill="#f07ac0" stroke="none" stroke-width="1"/>
<rect x="406.9" y="83.6" width="5.2" height="4" fill="#dc2a8e" stroke="none" stroke-width="1"/>
<rect x="408.5" y="84.8" width="2" height="1.6" fill="#f07ac0" stroke="none" stroke-width="1"/>
<rect x="406.9" y="190" width="5.2" height="4" fill="#dc2a8e" stroke="none" stroke-width="1"/>
<rect x="408.5" y="191.2" width="2" height="1.6" fill="#f07ac0" stroke="none" stroke-width="1"/>
<rect x="475.4" y="86.3" width="5.2" height="4" fill="#dc2a8e" stroke="none" stroke-width="1"/>
<rect x="477" y="87.5" width="2" height="1.6" fill="#f07ac0" stroke="none" stroke-width="1"/>
<rect x="475.4" y="191.7" width="5.2" height="4" fill="#dc2a8e" stroke="none" stroke-width="1"/>
<rect x="477" y="192.9" width="2" height="1.6" fill="#f07ac0" stroke="none" stroke-width="1"/>
<text x="111.08" y="55.4" font-size="11.78" fill="#555555" text-anchor="start" font-weight="bold" textLength="34.6" lengthAdjust="spacingAndGlyphs">No air</text>
<text x="177.82" y="55.4" font-size="11.78" fill="#6a9a30" text-anchor="start" font-weight="bold" textLength="41.62" lengthAdjust="spacingAndGlyphs">0.1 kPa</text>
<text x="248.01" y="55.4" font-size="11.78" fill="#c8642a" text-anchor="start" font-weight="bold" textLength="42.03" lengthAdjust="spacingAndGlyphs">0.2 kPa</text>
<text x="315.62" y="55.4" font-size="11.78" fill="#5a2a8a" text-anchor="start" font-weight="bold" textLength="41.62" lengthAdjust="spacingAndGlyphs">0.3 kPa</text>
<text x="382.01" y="55.4" font-size="11.78" fill="#b89a3a" text-anchor="start" font-weight="bold" textLength="42.43" lengthAdjust="spacingAndGlyphs">0.4 kPa</text>
<text x="453.12" y="55.4" font-size="11.78" fill="#2a8ab8" text-anchor="start" font-weight="bold" textLength="41.52" lengthAdjust="spacingAndGlyphs">0.5 kPa</text>
<rect x="78" y="34" width="449.5" height="179.5" fill="none" stroke="#111" stroke-width="1.6"/>
<line x1="78" y1="53.52" x2="81.5" y2="53.52" stroke="#111" stroke-width="1.2"/>
<text x="52.57" y="56.78" font-size="11.5" fill="#111" text-anchor="start" font-weight="bold" textLength="20.53" lengthAdjust="spacingAndGlyphs">450</text>
<line x1="78" y1="82.68" x2="81.5" y2="82.68" stroke="#111" stroke-width="1.2"/>
<text x="52.57" y="85.94" font-size="11.5" fill="#111" text-anchor="start" font-weight="bold" textLength="20.53" lengthAdjust="spacingAndGlyphs">300</text>
<line x1="78" y1="111.84" x2="81.5" y2="111.84" stroke="#111" stroke-width="1.2"/>
<text x="52.57" y="115.1" font-size="11.5" fill="#111" text-anchor="start" font-weight="bold" textLength="20.53" lengthAdjust="spacingAndGlyphs">150</text>
<line x1="78" y1="141" x2="81.5" y2="141" stroke="#111" stroke-width="1.2"/>
<text x="66.26" y="144.26" font-size="11.5" fill="#111" text-anchor="start" font-weight="bold" textLength="6.84" lengthAdjust="spacingAndGlyphs">0</text>
<line x1="78" y1="170.16" x2="81.5" y2="170.16" stroke="#111" stroke-width="1.2"/>
<text x="48.48" y="173.42" font-size="11.5" fill="#111" text-anchor="start" font-weight="bold" textLength="24.63" lengthAdjust="spacingAndGlyphs">-150</text>
<line x1="78" y1="199.32" x2="81.5" y2="199.32" stroke="#111" stroke-width="1.2"/>
<text x="48.48" y="202.58" font-size="11.5" fill="#111" text-anchor="start" font-weight="bold" textLength="24.63" lengthAdjust="spacingAndGlyphs">-300</text>
<line x1="78" y1="38.94" x2="80" y2="38.94" stroke="#111" stroke-width="1.1"/>
<line x1="78" y1="68.1" x2="80" y2="68.1" stroke="#111" stroke-width="1.1"/>
<line x1="78" y1="97.26" x2="80" y2="97.26" stroke="#111" stroke-width="1.1"/>
<line x1="78" y1="126.42" x2="80" y2="126.42" stroke="#111" stroke-width="1.1"/>
<line x1="78" y1="155.58" x2="80" y2="155.58" stroke="#111" stroke-width="1.1"/>
<line x1="78" y1="184.74" x2="80" y2="184.74" stroke="#111" stroke-width="1.1"/>
<line x1="96.1" y1="213.5" x2="96.1" y2="210" stroke="#111" stroke-width="1.2"/>
<text x="92.68" y="226.92" font-size="11.4" fill="#111" text-anchor="start" font-weight="bold" textLength="6.85" lengthAdjust="spacingAndGlyphs">0</text>
<line x1="119.32" y1="213.5" x2="119.32" y2="211.5" stroke="#111" stroke-width="1.2"/>
<line x1="142.55" y1="213.5" x2="142.55" y2="210" stroke="#111" stroke-width="1.2"/>
<text x="135.75" y="226.92" font-size="11.4" fill="#111" text-anchor="start" font-weight="bold" textLength="13.7" lengthAdjust="spacingAndGlyphs">20</text>
<line x1="165.77" y1="213.5" x2="165.77" y2="211.5" stroke="#111" stroke-width="1.2"/>
<line x1="189" y1="213.5" x2="189" y2="210" stroke="#111" stroke-width="1.2"/>
<text x="182.32" y="226.92" font-size="11.4" fill="#111" text-anchor="start" font-weight="bold" textLength="13.7" lengthAdjust="spacingAndGlyphs">40</text>
<line x1="212.22" y1="213.5" x2="212.22" y2="211.5" stroke="#111" stroke-width="1.2"/>
<line x1="235.45" y1="213.5" x2="235.45" y2="210" stroke="#111" stroke-width="1.2"/>
<text x="228.63" y="226.92" font-size="11.4" fill="#111" text-anchor="start" font-weight="bold" textLength="13.7" lengthAdjust="spacingAndGlyphs">60</text>
<line x1="258.67" y1="213.5" x2="258.67" y2="211.5" stroke="#111" stroke-width="1.2"/>
<line x1="281.9" y1="213.5" x2="281.9" y2="210" stroke="#111" stroke-width="1.2"/>
<text x="275.11" y="226.92" font-size="11.4" fill="#111" text-anchor="start" font-weight="bold" textLength="13.7" lengthAdjust="spacingAndGlyphs">80</text>
<line x1="305.12" y1="213.5" x2="305.12" y2="211.5" stroke="#111" stroke-width="1.2"/>
<line x1="328.35" y1="213.5" x2="328.35" y2="210" stroke="#111" stroke-width="1.2"/>
<text x="317.95" y="226.92" font-size="11.4" fill="#111" text-anchor="start" font-weight="bold" textLength="20.54" lengthAdjust="spacingAndGlyphs">100</text>
<line x1="351.57" y1="213.5" x2="351.57" y2="211.5" stroke="#111" stroke-width="1.2"/>
<line x1="374.8" y1="213.5" x2="374.8" y2="210" stroke="#111" stroke-width="1.2"/>
<text x="364.4" y="226.92" font-size="11.4" fill="#111" text-anchor="start" font-weight="bold" textLength="20.54" lengthAdjust="spacingAndGlyphs">120</text>
<line x1="398.02" y1="213.5" x2="398.02" y2="211.5" stroke="#111" stroke-width="1.2"/>
<line x1="421.25" y1="213.5" x2="421.25" y2="210" stroke="#111" stroke-width="1.2"/>
<text x="410.85" y="226.92" font-size="11.4" fill="#111" text-anchor="start" font-weight="bold" textLength="20.54" lengthAdjust="spacingAndGlyphs">140</text>
<line x1="444.47" y1="213.5" x2="444.47" y2="211.5" stroke="#111" stroke-width="1.2"/>
<line x1="467.7" y1="213.5" x2="467.7" y2="210" stroke="#111" stroke-width="1.2"/>
<text x="457.3" y="226.92" font-size="11.4" fill="#111" text-anchor="start" font-weight="bold" textLength="20.54" lengthAdjust="spacingAndGlyphs">160</text>
<line x1="490.92" y1="213.5" x2="490.92" y2="211.5" stroke="#111" stroke-width="1.2"/>
<line x1="514.15" y1="213.5" x2="514.15" y2="210" stroke="#111" stroke-width="1.2"/>
<text x="503.75" y="226.92" font-size="11.4" fill="#111" text-anchor="start" font-weight="bold" textLength="20.54" lengthAdjust="spacingAndGlyphs">180</text>
<text x="272.74" y="248.91" font-size="14.91" fill="#111" text-anchor="start" font-weight="bold" textLength="60.26" lengthAdjust="spacingAndGlyphs">Time (s)</text>
<text transform="translate(39.62 206.8) rotate(-90)" x="0" y="0" font-size="15.89" fill="#111" font-weight="bold" textLength="168.74" lengthAdjust="spacingAndGlyphs">Open-circuit voltage (V)</text>
<text x="12.57" y="27.35" font-size="17.59" fill="#111" text-anchor="start" font-weight="bold" textLength="25.26" lengthAdjust="spacingAndGlyphs">(a)</text>
<line x1="641.1" y1="83.16" x2="641.1" y2="196.55" stroke="#489ecc" stroke-width="1"/>
<line x1="642.15" y1="87.06" x2="642.15" y2="195.81" stroke="#1c74a8" stroke-width="1"/>
<line x1="643.2" y1="84.5" x2="643.2" y2="195.52" stroke="#94c8e6" stroke-width="1.1"/>
<line x1="645.36" y1="82.01" x2="645.36" y2="192.89" stroke="#1c74a8" stroke-width="1"/>
<line x1="646.41" y1="85.62" x2="646.41" y2="193.91" stroke="#489ecc" stroke-width="1"/>
<line x1="647.46" y1="82.91" x2="647.46" y2="191.64" stroke="#94c8e6" stroke-width="1.1"/>
<line x1="649.43" y1="77.2" x2="649.43" y2="190.82" stroke="#1c74a8" stroke-width="1"/>
<line x1="650.48" y1="80.64" x2="650.48" y2="191.48" stroke="#489ecc" stroke-width="1"/>
<line x1="651.53" y1="78.65" x2="651.53" y2="190.17" stroke="#94c8e6" stroke-width="1.1"/>
<line x1="653.34" y1="83.59" x2="653.34" y2="192.58" stroke="#1c74a8" stroke-width="1"/>
<line x1="654.39" y1="78.69" x2="654.39" y2="193.57" stroke="#489ecc" stroke-width="1"/>
<line x1="655.44" y1="82.38" x2="655.44" y2="192.85" stroke="#94c8e6" stroke-width="1.1"/>
<line x1="657.78" y1="86.99" x2="657.78" y2="196.49" stroke="#1c74a8" stroke-width="1"/>
<line x1="658.83" y1="82.07" x2="658.83" y2="195.55" stroke="#489ecc" stroke-width="1"/>
<line x1="659.88" y1="85.39" x2="659.88" y2="194.24" stroke="#94c8e6" stroke-width="1.1"/>
<line x1="662" y1="83.91" x2="662" y2="194.29" stroke="#1c74a8" stroke-width="1"/>
<line x1="663.05" y1="84.22" x2="663.05" y2="196.75" stroke="#489ecc" stroke-width="1"/>
<line x1="664.1" y1="81.69" x2="664.1" y2="195.25" stroke="#94c8e6" stroke-width="1.1"/>
<line x1="666.45" y1="82.74" x2="666.45" y2="194.09" stroke="#489ecc" stroke-width="1"/>
<line x1="667.5" y1="81.79" x2="667.5" y2="195.03" stroke="#1c74a8" stroke-width="1"/>
<line x1="668.55" y1="82.4" x2="668.55" y2="195.05" stroke="#94c8e6" stroke-width="1.1"/>
<line x1="670.54" y1="85.77" x2="670.54" y2="194.76" stroke="#1c74a8" stroke-width="1"/>
<line x1="671.59" y1="86.19" x2="671.59" y2="193.23" stroke="#489ecc" stroke-width="1"/>
<line x1="672.64" y1="83.91" x2="672.64" y2="194.13" stroke="#94c8e6" stroke-width="1.1"/>
<line x1="675" y1="84.34" x2="675" y2="193.39" stroke="#1c74a8" stroke-width="1"/>
<line x1="676.05" y1="81.13" x2="676.05" y2="192.65" stroke="#489ecc" stroke-width="1"/>
<line x1="677.1" y1="80.34" x2="677.1" y2="192.24" stroke="#94c8e6" stroke-width="1.1"/>
<line x1="679.06" y1="79.95" x2="679.06" y2="196.34" stroke="#489ecc" stroke-width="1"/>
<line x1="680.11" y1="78.28" x2="680.11" y2="193.45" stroke="#1c74a8" stroke-width="1"/>
<line x1="681.16" y1="82.1" x2="681.16" y2="194.41" stroke="#94c8e6" stroke-width="1.1"/>
<line x1="683.39" y1="79.29" x2="683.39" y2="190.82" stroke="#489ecc" stroke-width="1"/>
<line x1="684.44" y1="80.98" x2="684.44" y2="190.56" stroke="#1c74a8" stroke-width="1"/>
<line x1="685.49" y1="79.63" x2="685.49" y2="190.54" stroke="#94c8e6" stroke-width="1.1"/>
<line x1="687.45" y1="85.66" x2="687.45" y2="191.36" stroke="#489ecc" stroke-width="1"/>
<line x1="688.5" y1="81.77" x2="688.5" y2="194.08" stroke="#1c74a8" stroke-width="1"/>
<line x1="689.55" y1="82.42" x2="689.55" y2="189.79" stroke="#94c8e6" stroke-width="1.1"/>
<line x1="691.55" y1="81.95" x2="691.55" y2="192.11" stroke="#489ecc" stroke-width="1"/>
<line x1="692.6" y1="82.61" x2="692.6" y2="195.42" stroke="#1c74a8" stroke-width="1"/>
<line x1="693.65" y1="84.36" x2="693.65" y2="196.03" stroke="#94c8e6" stroke-width="1.1"/>
<line x1="695.91" y1="83.25" x2="695.91" y2="194.8" stroke="#1c74a8" stroke-width="1"/>
<line x1="696.96" y1="83.8" x2="696.96" y2="192.28" stroke="#489ecc" stroke-width="1"/>
<line x1="698.01" y1="84.59" x2="698.01" y2="195.76" stroke="#94c8e6" stroke-width="1.1"/>
<line x1="699.88" y1="80.54" x2="699.88" y2="194.89" stroke="#1c74a8" stroke-width="1"/>
<line x1="700.93" y1="81.23" x2="700.93" y2="193.3" stroke="#489ecc" stroke-width="1"/>
<line x1="701.98" y1="82.2" x2="701.98" y2="190.65" stroke="#94c8e6" stroke-width="1.1"/>
<line x1="704.12" y1="77.09" x2="704.12" y2="189.66" stroke="#489ecc" stroke-width="1"/>
<line x1="705.17" y1="79.94" x2="705.17" y2="191.51" stroke="#1c74a8" stroke-width="1"/>
<line x1="641.1" y1="136.6" x2="706.2" y2="136.6" stroke="#1a80c4" stroke-width="3.4" stroke-linecap="round"/>
<line x1="700.18" y1="130.12" x2="700.18" y2="138.68" stroke="#1a80c4" stroke-width="1.1"/>
<line x1="670.27" y1="133.1" x2="670.27" y2="139.58" stroke="#1a80c4" stroke-width="1.1"/>
<line x1="681.24" y1="130.9" x2="681.24" y2="139.87" stroke="#1a80c4" stroke-width="1.1"/>
<line x1="658.78" y1="132.41" x2="658.78" y2="139.42" stroke="#1a80c4" stroke-width="1.1"/>
<line x1="643.39" y1="133.96" x2="643.39" y2="139.12" stroke="#1a80c4" stroke-width="1.1"/>
<line x1="649.89" y1="131.2" x2="649.89" y2="138.7" stroke="#1a80c4" stroke-width="1.1"/>
<line x1="649.2" y1="133.37" x2="649.2" y2="138.68" stroke="#1a80c4" stroke-width="1.1"/>
<line x1="656.38" y1="132.02" x2="656.38" y2="139.26" stroke="#1a80c4" stroke-width="1.1"/>
<line x1="662.02" y1="131.53" x2="662.02" y2="138.63" stroke="#1a80c4" stroke-width="1.1"/>
<line x1="698.49" y1="130.25" x2="698.49" y2="139.92" stroke="#1a80c4" stroke-width="1.1"/>
<line x1="669.6" y1="132.05" x2="669.6" y2="139.55" stroke="#1a80c4" stroke-width="1.1"/>
<line x1="646.23" y1="132.43" x2="646.23" y2="139.41" stroke="#1a80c4" stroke-width="1.1"/>
<line x1="654.17" y1="133.72" x2="654.17" y2="140.11" stroke="#1a80c4" stroke-width="1.1"/>
<line x1="665.47" y1="132.02" x2="665.47" y2="140.4" stroke="#1a80c4" stroke-width="1.1"/>
<line x1="680.4" y1="132.94" x2="680.4" y2="140.56" stroke="#1a80c4" stroke-width="1.1"/>
<line x1="665.84" y1="134.02" x2="665.84" y2="139.81" stroke="#1a80c4" stroke-width="1.1"/>
<line x1="649.28" y1="132.88" x2="649.28" y2="140.2" stroke="#1a80c4" stroke-width="1.1"/>
<line x1="684.19" y1="134.04" x2="684.19" y2="139.23" stroke="#1a80c4" stroke-width="1.1"/>
<line x1="709.6" y1="87.09" x2="709.6" y2="186.78" stroke="#c8c84c" stroke-width="1"/>
<line x1="710.65" y1="85.26" x2="710.65" y2="188.12" stroke="#a4a428" stroke-width="1"/>
<line x1="711.7" y1="89.16" x2="711.7" y2="186.79" stroke="#e4e494" stroke-width="1.1"/>
<line x1="713.75" y1="85.24" x2="713.75" y2="190.18" stroke="#a4a428" stroke-width="1"/>
<line x1="714.8" y1="84.83" x2="714.8" y2="187.33" stroke="#c8c84c" stroke-width="1"/>
<line x1="715.85" y1="83.19" x2="715.85" y2="187.15" stroke="#e4e494" stroke-width="1.1"/>
<line x1="717.96" y1="84.85" x2="717.96" y2="191.3" stroke="#a4a428" stroke-width="1"/>
<line x1="719.01" y1="89.37" x2="719.01" y2="191.59" stroke="#c8c84c" stroke-width="1"/>
<line x1="720.06" y1="87.69" x2="720.06" y2="189.95" stroke="#e4e494" stroke-width="1.1"/>
<line x1="721.94" y1="88.36" x2="721.94" y2="189.87" stroke="#a4a428" stroke-width="1"/>
<line x1="722.99" y1="90.32" x2="722.99" y2="189.77" stroke="#c8c84c" stroke-width="1"/>
<line x1="724.04" y1="90.51" x2="724.04" y2="186.91" stroke="#e4e494" stroke-width="1.1"/>
<line x1="725.78" y1="88.02" x2="725.78" y2="189.67" stroke="#a4a428" stroke-width="1"/>
<line x1="726.83" y1="87.46" x2="726.83" y2="189.22" stroke="#c8c84c" stroke-width="1"/>
<line x1="727.88" y1="84.52" x2="727.88" y2="187.14" stroke="#e4e494" stroke-width="1.1"/>
<line x1="730.07" y1="82.75" x2="730.07" y2="190.2" stroke="#c8c84c" stroke-width="1"/>
<line x1="731.12" y1="88.16" x2="731.12" y2="189.08" stroke="#a4a428" stroke-width="1"/>
<line x1="732.17" y1="83" x2="732.17" y2="187.5" stroke="#e4e494" stroke-width="1.1"/>
<line x1="733.91" y1="88" x2="733.91" y2="187.73" stroke="#a4a428" stroke-width="1"/>
<line x1="734.96" y1="88.1" x2="734.96" y2="191.5" stroke="#c8c84c" stroke-width="1"/>
<line x1="736.01" y1="89.39" x2="736.01" y2="187.66" stroke="#e4e494" stroke-width="1.1"/>
<line x1="737.92" y1="87.84" x2="737.92" y2="188.69" stroke="#a4a428" stroke-width="1"/>
<line x1="738.97" y1="87.5" x2="738.97" y2="190.01" stroke="#c8c84c" stroke-width="1"/>
<line x1="740.02" y1="89.77" x2="740.02" y2="188.11" stroke="#e4e494" stroke-width="1.1"/>
<line x1="741.71" y1="89" x2="741.71" y2="185.43" stroke="#a4a428" stroke-width="1"/>
<line x1="742.76" y1="86.77" x2="742.76" y2="186.79" stroke="#c8c84c" stroke-width="1"/>
<line x1="743.81" y1="86.14" x2="743.81" y2="187.81" stroke="#e4e494" stroke-width="1.1"/>
<line x1="745.97" y1="87.01" x2="745.97" y2="189.75" stroke="#a4a428" stroke-width="1"/>
<line x1="747.02" y1="88.98" x2="747.02" y2="189.82" stroke="#c8c84c" stroke-width="1"/>
<line x1="748.07" y1="90.14" x2="748.07" y2="187.4" stroke="#e4e494" stroke-width="1.1"/>
<line x1="750.05" y1="87.32" x2="750.05" y2="187.22" stroke="#a4a428" stroke-width="1"/>
<line x1="751.1" y1="86.3" x2="751.1" y2="190.37" stroke="#c8c84c" stroke-width="1"/>
<line x1="752.15" y1="88.81" x2="752.15" y2="190.09" stroke="#e4e494" stroke-width="1.1"/>
<line x1="754.24" y1="85.22" x2="754.24" y2="192.35" stroke="#a4a428" stroke-width="1"/>
<line x1="755.29" y1="86.89" x2="755.29" y2="188.72" stroke="#c8c84c" stroke-width="1"/>
<line x1="756.34" y1="86.48" x2="756.34" y2="191.72" stroke="#e4e494" stroke-width="1.1"/>
<line x1="758.05" y1="90.05" x2="758.05" y2="187.47" stroke="#c8c84c" stroke-width="1"/>
<line x1="759.1" y1="88.9" x2="759.1" y2="188.8" stroke="#a4a428" stroke-width="1"/>
<line x1="760.15" y1="86.74" x2="760.15" y2="189.39" stroke="#e4e494" stroke-width="1.1"/>
<line x1="762.04" y1="82.54" x2="762.04" y2="190.55" stroke="#c8c84c" stroke-width="1"/>
<line x1="763.09" y1="87.55" x2="763.09" y2="191.33" stroke="#a4a428" stroke-width="1"/>
<line x1="764.14" y1="87.05" x2="764.14" y2="190.55" stroke="#e4e494" stroke-width="1.1"/>
<line x1="766.14" y1="83.34" x2="766.14" y2="185.93" stroke="#a4a428" stroke-width="1"/>
<line x1="767.19" y1="87.7" x2="767.19" y2="186.35" stroke="#c8c84c" stroke-width="1"/>
<line x1="768.24" y1="87.68" x2="768.24" y2="189.1" stroke="#e4e494" stroke-width="1.1"/>
<line x1="770.08" y1="85.68" x2="770.08" y2="188.38" stroke="#a4a428" stroke-width="1"/>
<line x1="771.13" y1="87.16" x2="771.13" y2="189.74" stroke="#c8c84c" stroke-width="1"/>
<line x1="772.18" y1="86.64" x2="772.18" y2="187.7" stroke="#e4e494" stroke-width="1.1"/>
<line x1="774.12" y1="88.63" x2="774.12" y2="187.96" stroke="#a4a428" stroke-width="1"/>
<line x1="775.17" y1="91.56" x2="775.17" y2="187.35" stroke="#c8c84c" stroke-width="1"/>
<line x1="776.22" y1="90.23" x2="776.22" y2="188.14" stroke="#e4e494" stroke-width="1.1"/>
<line x1="709.6" y1="136.6" x2="776.8" y2="136.6" stroke="#bab414" stroke-width="3.4" stroke-linecap="round"/>
<line x1="769.41" y1="133.79" x2="769.41" y2="140.16" stroke="#bab414" stroke-width="1.1"/>
<line x1="730.82" y1="131.51" x2="730.82" y2="140.09" stroke="#bab414" stroke-width="1.1"/>
<line x1="752.9" y1="132.53" x2="752.9" y2="140.2" stroke="#bab414" stroke-width="1.1"/>
<line x1="717.47" y1="131.57" x2="717.47" y2="139.08" stroke="#bab414" stroke-width="1.1"/>
<line x1="745.13" y1="130.7" x2="745.13" y2="140.09" stroke="#bab414" stroke-width="1.1"/>
<line x1="751.34" y1="132.87" x2="751.34" y2="138.68" stroke="#bab414" stroke-width="1.1"/>
<line x1="740.52" y1="133.17" x2="740.52" y2="138.79" stroke="#bab414" stroke-width="1.1"/>
<line x1="772.13" y1="133.65" x2="772.13" y2="140.15" stroke="#bab414" stroke-width="1.1"/>
<line x1="735.57" y1="132.64" x2="735.57" y2="138.9" stroke="#bab414" stroke-width="1.1"/>
<line x1="716.49" y1="132.27" x2="716.49" y2="138.52" stroke="#bab414" stroke-width="1.1"/>
<line x1="739.53" y1="132.93" x2="739.53" y2="140.34" stroke="#bab414" stroke-width="1.1"/>
<line x1="769.85" y1="132.33" x2="769.85" y2="139.7" stroke="#bab414" stroke-width="1.1"/>
<line x1="770.35" y1="132.8" x2="770.35" y2="138.35" stroke="#bab414" stroke-width="1.1"/>
<line x1="726.63" y1="133.34" x2="726.63" y2="139.8" stroke="#bab414" stroke-width="1.1"/>
<line x1="735.22" y1="132.68" x2="735.22" y2="140.09" stroke="#bab414" stroke-width="1.1"/>
<line x1="726.34" y1="130.87" x2="726.34" y2="139.68" stroke="#bab414" stroke-width="1.1"/>
<line x1="736.9" y1="130.81" x2="736.9" y2="138.96" stroke="#bab414" stroke-width="1.1"/>
<line x1="767.13" y1="130.4" x2="767.13" y2="139.36" stroke="#bab414" stroke-width="1.1"/>
<line x1="779.6" y1="96.96" x2="779.6" y2="182.71" stroke="#1a9ca4" stroke-width="1"/>
<line x1="780.65" y1="98.06" x2="780.65" y2="182.19" stroke="#4cbec8" stroke-width="1"/>
<line x1="781.7" y1="98.32" x2="781.7" y2="180.11" stroke="#94dce0" stroke-width="1.1"/>
<line x1="783.87" y1="93.4" x2="783.87" y2="180.78" stroke="#1a9ca4" stroke-width="1"/>
<line x1="784.92" y1="94.48" x2="784.92" y2="178.61" stroke="#4cbec8" stroke-width="1"/>
<line x1="785.97" y1="97.71" x2="785.97" y2="177.31" stroke="#94dce0" stroke-width="1.1"/>
<line x1="788.35" y1="91.79" x2="788.35" y2="179.24" stroke="#1a9ca4" stroke-width="1"/>
<line x1="789.4" y1="94.93" x2="789.4" y2="178.54" stroke="#4cbec8" stroke-width="1"/>
<line x1="790.45" y1="92.25" x2="790.45" y2="177.55" stroke="#94dce0" stroke-width="1.1"/>
<line x1="792.39" y1="96.99" x2="792.39" y2="177.24" stroke="#4cbec8" stroke-width="1"/>
<line x1="793.44" y1="95.07" x2="793.44" y2="180.73" stroke="#1a9ca4" stroke-width="1"/>
<line x1="794.49" y1="93.74" x2="794.49" y2="177.2" stroke="#94dce0" stroke-width="1.1"/>
<line x1="796.41" y1="92.31" x2="796.41" y2="177.79" stroke="#4cbec8" stroke-width="1"/>
<line x1="797.46" y1="91.7" x2="797.46" y2="179.43" stroke="#1a9ca4" stroke-width="1"/>
<line x1="798.51" y1="92.27" x2="798.51" y2="178.36" stroke="#94dce0" stroke-width="1.1"/>
<line x1="800.78" y1="91.89" x2="800.78" y2="179.08" stroke="#1a9ca4" stroke-width="1"/>
<line x1="801.83" y1="90.11" x2="801.83" y2="177.93" stroke="#4cbec8" stroke-width="1"/>
<line x1="802.88" y1="94.38" x2="802.88" y2="177.1" stroke="#94dce0" stroke-width="1.1"/>
<line x1="805.14" y1="94.41" x2="805.14" y2="178.71" stroke="#1a9ca4" stroke-width="1"/>
<line x1="806.19" y1="95.77" x2="806.19" y2="178" stroke="#4cbec8" stroke-width="1"/>
<line x1="807.24" y1="97.08" x2="807.24" y2="179.27" stroke="#94dce0" stroke-width="1.1"/>
<line x1="809.39" y1="96.74" x2="809.39" y2="180.99" stroke="#1a9ca4" stroke-width="1"/>
<line x1="810.44" y1="94.16" x2="810.44" y2="181.3" stroke="#4cbec8" stroke-width="1"/>
<line x1="811.49" y1="91.97" x2="811.49" y2="179.43" stroke="#94dce0" stroke-width="1.1"/>
<line x1="813.89" y1="95.13" x2="813.89" y2="179.1" stroke="#1a9ca4" stroke-width="1"/>
<line x1="814.94" y1="91.48" x2="814.94" y2="182.34" stroke="#4cbec8" stroke-width="1"/>
<line x1="815.99" y1="89.69" x2="815.99" y2="179.23" stroke="#94dce0" stroke-width="1.1"/>
<line x1="818" y1="90.42" x2="818" y2="179.96" stroke="#1a9ca4" stroke-width="1"/>
<line x1="819.05" y1="93.76" x2="819.05" y2="175.81" stroke="#4cbec8" stroke-width="1"/>
<line x1="820.1" y1="95.26" x2="820.1" y2="176.67" stroke="#94dce0" stroke-width="1.1"/>
<line x1="822.19" y1="92.16" x2="822.19" y2="176.45" stroke="#1a9ca4" stroke-width="1"/>
<line x1="823.24" y1="97.31" x2="823.24" y2="179.25" stroke="#4cbec8" stroke-width="1"/>
<line x1="824.29" y1="94.93" x2="824.29" y2="178.62" stroke="#94dce0" stroke-width="1.1"/>
<line x1="826.61" y1="90.4" x2="826.61" y2="177.46" stroke="#4cbec8" stroke-width="1"/>
<line x1="827.66" y1="90.97" x2="827.66" y2="177.21" stroke="#1a9ca4" stroke-width="1"/>
<line x1="828.71" y1="90.99" x2="828.71" y2="178.67" stroke="#94dce0" stroke-width="1.1"/>
<line x1="830.88" y1="96.34" x2="830.88" y2="182.74" stroke="#1a9ca4" stroke-width="1"/>
<line x1="831.93" y1="94.27" x2="831.93" y2="179.09" stroke="#4cbec8" stroke-width="1"/>
<line x1="832.98" y1="98.2" x2="832.98" y2="181.44" stroke="#94dce0" stroke-width="1.1"/>
<line x1="834.91" y1="93.45" x2="834.91" y2="177.98" stroke="#1a9ca4" stroke-width="1"/>
<line x1="835.96" y1="95.67" x2="835.96" y2="179.84" stroke="#4cbec8" stroke-width="1"/>
<line x1="837.01" y1="94.26" x2="837.01" y2="178.32" stroke="#94dce0" stroke-width="1.1"/>
<line x1="838.98" y1="97.05" x2="838.98" y2="182.09" stroke="#4cbec8" stroke-width="1"/>
<line x1="840.03" y1="96.78" x2="840.03" y2="179.09" stroke="#1a9ca4" stroke-width="1"/>
<line x1="841.08" y1="96.14" x2="841.08" y2="179.86" stroke="#94dce0" stroke-width="1.1"/>
<line x1="843" y1="96.35" x2="843" y2="180.74" stroke="#1a9ca4" stroke-width="1"/>
<line x1="844.05" y1="94.75" x2="844.05" y2="177.8" stroke="#4cbec8" stroke-width="1"/>
<line x1="845.1" y1="96.53" x2="845.1" y2="181.28" stroke="#94dce0" stroke-width="1.1"/>
<line x1="779.6" y1="136.6" x2="845.3" y2="136.6" stroke="#20b2bc" stroke-width="3.4" stroke-linecap="round"/>
<line x1="818.5" y1="133.95" x2="818.5" y2="138.59" stroke="#20b2bc" stroke-width="1.1"/>
<line x1="788.28" y1="131.56" x2="788.28" y2="139.46" stroke="#20b2bc" stroke-width="1.1"/>
<line x1="793.11" y1="130.28" x2="793.11" y2="140.54" stroke="#20b2bc" stroke-width="1.1"/>
<line x1="837.09" y1="132.24" x2="837.09" y2="138.83" stroke="#20b2bc" stroke-width="1.1"/>
<line x1="794.49" y1="130.8" x2="794.49" y2="139.85" stroke="#20b2bc" stroke-width="1.1"/>
<line x1="798.71" y1="130.49" x2="798.71" y2="139.52" stroke="#20b2bc" stroke-width="1.1"/>
<line x1="807.06" y1="132.44" x2="807.06" y2="139.9" stroke="#20b2bc" stroke-width="1.1"/>
<line x1="809.7" y1="131.46" x2="809.7" y2="138.41" stroke="#20b2bc" stroke-width="1.1"/>
<line x1="824.93" y1="133.01" x2="824.93" y2="140.38" stroke="#20b2bc" stroke-width="1.1"/>
<line x1="794.83" y1="132.77" x2="794.83" y2="139.45" stroke="#20b2bc" stroke-width="1.1"/>
<line x1="805.81" y1="132" x2="805.81" y2="140.41" stroke="#20b2bc" stroke-width="1.1"/>
<line x1="794.01" y1="131.01" x2="794.01" y2="139.83" stroke="#20b2bc" stroke-width="1.1"/>
<line x1="830.11" y1="132.31" x2="830.11" y2="139.24" stroke="#20b2bc" stroke-width="1.1"/>
<line x1="802.94" y1="132.21" x2="802.94" y2="138.74" stroke="#20b2bc" stroke-width="1.1"/>
<line x1="793.38" y1="132.2" x2="793.38" y2="138.58" stroke="#20b2bc" stroke-width="1.1"/>
<line x1="810.56" y1="131.81" x2="810.56" y2="138.87" stroke="#20b2bc" stroke-width="1.1"/>
<line x1="792.12" y1="131.68" x2="792.12" y2="140.25" stroke="#20b2bc" stroke-width="1.1"/>
<line x1="795.31" y1="131.64" x2="795.31" y2="139.75" stroke="#20b2bc" stroke-width="1.1"/>
<line x1="849" y1="100.28" x2="849" y2="175.99" stroke="#3c4490" stroke-width="1"/>
<line x1="850.05" y1="100.83" x2="850.05" y2="172.29" stroke="#6c74b4" stroke-width="1"/>
<line x1="851.1" y1="104.26" x2="851.1" y2="173.12" stroke="#aab0d6" stroke-width="1.1"/>
<line x1="853.49" y1="98.83" x2="853.49" y2="172.51" stroke="#3c4490" stroke-width="1"/>
<line x1="854.54" y1="99.29" x2="854.54" y2="174.27" stroke="#6c74b4" stroke-width="1"/>
<line x1="855.59" y1="96.89" x2="855.59" y2="173.13" stroke="#aab0d6" stroke-width="1.1"/>
<line x1="857.87" y1="96.49" x2="857.87" y2="174.57" stroke="#3c4490" stroke-width="1"/>
<line x1="858.92" y1="101.59" x2="858.92" y2="174.83" stroke="#6c74b4" stroke-width="1"/>
<line x1="859.97" y1="99.08" x2="859.97" y2="175.53" stroke="#aab0d6" stroke-width="1.1"/>
<line x1="862.72" y1="101.66" x2="862.72" y2="171.61" stroke="#3c4490" stroke-width="1"/>
<line x1="863.77" y1="100.33" x2="863.77" y2="174.63" stroke="#6c74b4" stroke-width="1"/>
<line x1="864.82" y1="99.65" x2="864.82" y2="173.86" stroke="#aab0d6" stroke-width="1.1"/>
<line x1="867.33" y1="100.43" x2="867.33" y2="170.97" stroke="#6c74b4" stroke-width="1"/>
<line x1="868.38" y1="100.17" x2="868.38" y2="172.11" stroke="#3c4490" stroke-width="1"/>
<line x1="869.43" y1="99.06" x2="869.43" y2="174.72" stroke="#aab0d6" stroke-width="1.1"/>
<line x1="871.87" y1="98.74" x2="871.87" y2="173.42" stroke="#6c74b4" stroke-width="1"/>
<line x1="872.92" y1="102.3" x2="872.92" y2="171.43" stroke="#3c4490" stroke-width="1"/>
<line x1="873.97" y1="103.07" x2="873.97" y2="174.06" stroke="#aab0d6" stroke-width="1.1"/>
<line x1="876.2" y1="98.93" x2="876.2" y2="173.4" stroke="#3c4490" stroke-width="1"/>
<line x1="877.25" y1="101.45" x2="877.25" y2="174.63" stroke="#6c74b4" stroke-width="1"/>
<line x1="878.3" y1="101.81" x2="878.3" y2="174.28" stroke="#aab0d6" stroke-width="1.1"/>
<line x1="880.94" y1="97.16" x2="880.94" y2="170.24" stroke="#3c4490" stroke-width="1"/>
<line x1="881.99" y1="98.31" x2="881.99" y2="172.02" stroke="#6c74b4" stroke-width="1"/>
<line x1="883.04" y1="100.08" x2="883.04" y2="172.51" stroke="#aab0d6" stroke-width="1.1"/>
<line x1="885.8" y1="99.93" x2="885.8" y2="173.7" stroke="#6c74b4" stroke-width="1"/>
<line x1="886.85" y1="96.75" x2="886.85" y2="173.13" stroke="#3c4490" stroke-width="1"/>
<line x1="887.9" y1="99.87" x2="887.9" y2="173.86" stroke="#aab0d6" stroke-width="1.1"/>
<line x1="890.67" y1="100.56" x2="890.67" y2="171.34" stroke="#3c4490" stroke-width="1"/>
<line x1="891.72" y1="101.63" x2="891.72" y2="172.5" stroke="#6c74b4" stroke-width="1"/>
<line x1="892.77" y1="102.61" x2="892.77" y2="173.72" stroke="#aab0d6" stroke-width="1.1"/>
<line x1="895.45" y1="99.24" x2="895.45" y2="173.07" stroke="#3c4490" stroke-width="1"/>
<line x1="896.5" y1="104.11" x2="896.5" y2="171.57" stroke="#6c74b4" stroke-width="1"/>
<line x1="897.55" y1="103.12" x2="897.55" y2="176.03" stroke="#aab0d6" stroke-width="1.1"/>
<line x1="900.18" y1="102.61" x2="900.18" y2="171.77" stroke="#3c4490" stroke-width="1"/>
<line x1="901.23" y1="101.47" x2="901.23" y2="173.36" stroke="#6c74b4" stroke-width="1"/>
<line x1="902.28" y1="99.92" x2="902.28" y2="170.01" stroke="#aab0d6" stroke-width="1.1"/>
<line x1="904.84" y1="101.13" x2="904.84" y2="176.88" stroke="#3c4490" stroke-width="1"/>
<line x1="905.89" y1="99.61" x2="905.89" y2="173.92" stroke="#6c74b4" stroke-width="1"/>
<line x1="906.94" y1="104.09" x2="906.94" y2="176.83" stroke="#aab0d6" stroke-width="1.1"/>
<line x1="909.38" y1="99.54" x2="909.38" y2="170.99" stroke="#3c4490" stroke-width="1"/>
<line x1="910.43" y1="100.28" x2="910.43" y2="169.97" stroke="#6c74b4" stroke-width="1"/>
<line x1="911.48" y1="101.57" x2="911.48" y2="172.19" stroke="#aab0d6" stroke-width="1.1"/>
<line x1="849" y1="136.6" x2="914.3" y2="136.6" stroke="#4452a4" stroke-width="3.4" stroke-linecap="round"/>
<line x1="890.95" y1="133.89" x2="890.95" y2="139.39" stroke="#4452a4" stroke-width="1.1"/>
<line x1="883.35" y1="132.49" x2="883.35" y2="140.39" stroke="#4452a4" stroke-width="1.1"/>
<line x1="858.76" y1="132.39" x2="858.76" y2="139.25" stroke="#4452a4" stroke-width="1.1"/>
<line x1="873.85" y1="130.21" x2="873.85" y2="139.53" stroke="#4452a4" stroke-width="1.1"/>
<line x1="882.66" y1="132.34" x2="882.66" y2="139.19" stroke="#4452a4" stroke-width="1.1"/>
<line x1="909.3" y1="130.9" x2="909.3" y2="139.72" stroke="#4452a4" stroke-width="1.1"/>
<line x1="860.95" y1="131.72" x2="860.95" y2="138.42" stroke="#4452a4" stroke-width="1.1"/>
<line x1="872.51" y1="134.01" x2="872.51" y2="139.86" stroke="#4452a4" stroke-width="1.1"/>
<line x1="910.92" y1="131.55" x2="910.92" y2="139.52" stroke="#4452a4" stroke-width="1.1"/>
<line x1="866.35" y1="132.33" x2="866.35" y2="139.26" stroke="#4452a4" stroke-width="1.1"/>
<line x1="876.93" y1="133.02" x2="876.93" y2="138.65" stroke="#4452a4" stroke-width="1.1"/>
<line x1="897.02" y1="130.29" x2="897.02" y2="140.15" stroke="#4452a4" stroke-width="1.1"/>
<line x1="889.1" y1="133.99" x2="889.1" y2="138.86" stroke="#4452a4" stroke-width="1.1"/>
<line x1="902.49" y1="130.21" x2="902.49" y2="139.47" stroke="#4452a4" stroke-width="1.1"/>
<line x1="885.87" y1="131.35" x2="885.87" y2="138.72" stroke="#4452a4" stroke-width="1.1"/>
<line x1="894.65" y1="132.64" x2="894.65" y2="140.22" stroke="#4452a4" stroke-width="1.1"/>
<line x1="879.3" y1="131.45" x2="879.3" y2="139.49" stroke="#4452a4" stroke-width="1.1"/>
<line x1="883.78" y1="132.26" x2="883.78" y2="140.48" stroke="#4452a4" stroke-width="1.1"/>
<line x1="918.6" y1="105.65" x2="918.6" y2="170.32" stroke="#dc7878" stroke-width="1"/>
<line x1="919.65" y1="104.18" x2="919.65" y2="171.27" stroke="#f09c9c" stroke-width="1"/>
<line x1="920.7" y1="100.97" x2="920.7" y2="169.65" stroke="#f8c6c6" stroke-width="1.1"/>
<line x1="923.07" y1="101.71" x2="923.07" y2="171.36" stroke="#dc7878" stroke-width="1"/>
<line x1="924.12" y1="103.96" x2="924.12" y2="171.72" stroke="#f09c9c" stroke-width="1"/>
<line x1="925.17" y1="101.54" x2="925.17" y2="172.18" stroke="#f8c6c6" stroke-width="1.1"/>
<line x1="927.38" y1="100.89" x2="927.38" y2="169.94" stroke="#dc7878" stroke-width="1"/>
<line x1="928.43" y1="104.37" x2="928.43" y2="171.33" stroke="#f09c9c" stroke-width="1"/>
<line x1="929.48" y1="100.88" x2="929.48" y2="171.8" stroke="#f8c6c6" stroke-width="1.1"/>
<line x1="931.83" y1="104.59" x2="931.83" y2="170.66" stroke="#dc7878" stroke-width="1"/>
<line x1="932.88" y1="103.22" x2="932.88" y2="169.44" stroke="#f09c9c" stroke-width="1"/>
<line x1="933.93" y1="99.46" x2="933.93" y2="169.69" stroke="#f8c6c6" stroke-width="1.1"/>
<line x1="935.99" y1="105.23" x2="935.99" y2="167.59" stroke="#dc7878" stroke-width="1"/>
<line x1="937.04" y1="105.83" x2="937.04" y2="168.25" stroke="#f09c9c" stroke-width="1"/>
<line x1="938.09" y1="101.31" x2="938.09" y2="169.49" stroke="#f8c6c6" stroke-width="1.1"/>
<line x1="940.34" y1="100.87" x2="940.34" y2="167.17" stroke="#f09c9c" stroke-width="1"/>
<line x1="941.39" y1="103.72" x2="941.39" y2="170.25" stroke="#dc7878" stroke-width="1"/>
<line x1="942.44" y1="101.06" x2="942.44" y2="168.52" stroke="#f8c6c6" stroke-width="1.1"/>
<line x1="944.72" y1="104.53" x2="944.72" y2="171.2" stroke="#dc7878" stroke-width="1"/>
<line x1="945.77" y1="102.03" x2="945.77" y2="171.37" stroke="#f09c9c" stroke-width="1"/>
<line x1="946.82" y1="101.69" x2="946.82" y2="169.98" stroke="#f8c6c6" stroke-width="1.1"/>
<line x1="949.32" y1="101.38" x2="949.32" y2="170.15" stroke="#dc7878" stroke-width="1"/>
<line x1="950.37" y1="103.14" x2="950.37" y2="168.97" stroke="#f09c9c" stroke-width="1"/>
<line x1="951.42" y1="104.78" x2="951.42" y2="172.29" stroke="#f8c6c6" stroke-width="1.1"/>
<line x1="953.53" y1="100.08" x2="953.53" y2="170.77" stroke="#dc7878" stroke-width="1"/>
<line x1="954.58" y1="100.16" x2="954.58" y2="172.02" stroke="#f09c9c" stroke-width="1"/>
<line x1="955.63" y1="102.25" x2="955.63" y2="170.43" stroke="#f8c6c6" stroke-width="1.1"/>
<line x1="957.73" y1="100.3" x2="957.73" y2="168.01" stroke="#dc7878" stroke-width="1"/>
<line x1="958.78" y1="103.42" x2="958.78" y2="171.28" stroke="#f09c9c" stroke-width="1"/>
<line x1="959.83" y1="104.28" x2="959.83" y2="169.89" stroke="#f8c6c6" stroke-width="1.1"/>
<line x1="962.3" y1="98.41" x2="962.3" y2="166.71" stroke="#dc7878" stroke-width="1"/>
<line x1="963.35" y1="103.07" x2="963.35" y2="167.22" stroke="#f09c9c" stroke-width="1"/>
<line x1="964.4" y1="99.51" x2="964.4" y2="168.11" stroke="#f8c6c6" stroke-width="1.1"/>
<line x1="966.9" y1="101.46" x2="966.9" y2="170.46" stroke="#dc7878" stroke-width="1"/>
<line x1="967.95" y1="98.76" x2="967.95" y2="172.64" stroke="#f09c9c" stroke-width="1"/>
<line x1="969" y1="99.09" x2="969" y2="171.95" stroke="#f8c6c6" stroke-width="1.1"/>
<line x1="971.53" y1="100.25" x2="971.53" y2="170.76" stroke="#f09c9c" stroke-width="1"/>
<line x1="972.58" y1="99.81" x2="972.58" y2="172.22" stroke="#dc7878" stroke-width="1"/>
<line x1="973.63" y1="102.52" x2="973.63" y2="172.18" stroke="#f8c6c6" stroke-width="1.1"/>
<line x1="975.8" y1="100.58" x2="975.8" y2="168.94" stroke="#f09c9c" stroke-width="1"/>
<line x1="976.85" y1="101.6" x2="976.85" y2="170.46" stroke="#dc7878" stroke-width="1"/>
<line x1="977.9" y1="99.27" x2="977.9" y2="168.55" stroke="#f8c6c6" stroke-width="1.1"/>
<line x1="980.11" y1="104.06" x2="980.11" y2="169.02" stroke="#f09c9c" stroke-width="1"/>
<line x1="981.16" y1="105.18" x2="981.16" y2="169.06" stroke="#dc7878" stroke-width="1"/>
<line x1="982.21" y1="105.45" x2="982.21" y2="166.86" stroke="#f8c6c6" stroke-width="1.1"/>
<line x1="918.6" y1="136.6" x2="982.6" y2="136.6" stroke="#f09090" stroke-width="3.4" stroke-linecap="round"/>
<line x1="922.33" y1="133.62" x2="922.33" y2="138.36" stroke="#f09090" stroke-width="1.1"/>
<line x1="967.1" y1="132.08" x2="967.1" y2="140.4" stroke="#f09090" stroke-width="1.1"/>
<line x1="979.09" y1="130.29" x2="979.09" y2="139.64" stroke="#f09090" stroke-width="1.1"/>
<line x1="941.68" y1="130.27" x2="941.68" y2="139.93" stroke="#f09090" stroke-width="1.1"/>
<line x1="932.36" y1="131.89" x2="932.36" y2="138.15" stroke="#f09090" stroke-width="1.1"/>
<line x1="921.65" y1="131.54" x2="921.65" y2="139.9" stroke="#f09090" stroke-width="1.1"/>
<line x1="972.27" y1="131.09" x2="972.27" y2="138.44" stroke="#f09090" stroke-width="1.1"/>
<line x1="964.88" y1="130.18" x2="964.88" y2="139.79" stroke="#f09090" stroke-width="1.1"/>
<line x1="949.44" y1="132.92" x2="949.44" y2="138.26" stroke="#f09090" stroke-width="1.1"/>
<line x1="958.12" y1="130.25" x2="958.12" y2="138.39" stroke="#f09090" stroke-width="1.1"/>
<line x1="969.85" y1="130.51" x2="969.85" y2="138.98" stroke="#f09090" stroke-width="1.1"/>
<line x1="971.35" y1="133.48" x2="971.35" y2="138.85" stroke="#f09090" stroke-width="1.1"/>
<line x1="954.59" y1="130.58" x2="954.59" y2="139.44" stroke="#f09090" stroke-width="1.1"/>
<line x1="925.96" y1="130.38" x2="925.96" y2="139.53" stroke="#f09090" stroke-width="1.1"/>
<line x1="967.33" y1="133.18" x2="967.33" y2="138.94" stroke="#f09090" stroke-width="1.1"/>
<line x1="926.01" y1="133.35" x2="926.01" y2="139.19" stroke="#f09090" stroke-width="1.1"/>
<line x1="945.26" y1="131.47" x2="945.26" y2="140.18" stroke="#f09090" stroke-width="1.1"/>
<line x1="940.65" y1="130.4" x2="940.65" y2="139.73" stroke="#f09090" stroke-width="1.1"/>
<line x1="988.6" y1="102.98" x2="988.6" y2="166.45" stroke="#3c2020" stroke-width="1"/>
<line x1="989.65" y1="103.14" x2="989.65" y2="167.96" stroke="#705050" stroke-width="1"/>
<line x1="990.7" y1="101.56" x2="990.7" y2="169.7" stroke="#a88e8e" stroke-width="1.1"/>
<line x1="993.03" y1="99.32" x2="993.03" y2="171.07" stroke="#3c2020" stroke-width="1"/>
<line x1="994.08" y1="103.13" x2="994.08" y2="168.12" stroke="#705050" stroke-width="1"/>
<line x1="995.13" y1="102.78" x2="995.13" y2="170.12" stroke="#a88e8e" stroke-width="1.1"/>
<line x1="997.76" y1="101.04" x2="997.76" y2="168.69" stroke="#3c2020" stroke-width="1"/>
<line x1="998.81" y1="102.05" x2="998.81" y2="167.12" stroke="#705050" stroke-width="1"/>
<line x1="999.86" y1="101" x2="999.86" y2="168.19" stroke="#a88e8e" stroke-width="1.1"/>
<line x1="1002.3" y1="103.02" x2="1002.3" y2="169.46" stroke="#705050" stroke-width="1"/>
<line x1="1003.35" y1="101.05" x2="1003.35" y2="168.57" stroke="#3c2020" stroke-width="1"/>
<line x1="1004.4" y1="105.45" x2="1004.4" y2="172.14" stroke="#a88e8e" stroke-width="1.1"/>
<line x1="1007.09" y1="100.32" x2="1007.09" y2="168.07" stroke="#705050" stroke-width="1"/>
<line x1="1008.14" y1="98.56" x2="1008.14" y2="168.05" stroke="#3c2020" stroke-width="1"/>
<line x1="1009.19" y1="102.65" x2="1009.19" y2="169.91" stroke="#a88e8e" stroke-width="1.1"/>
<line x1="1011.51" y1="99.89" x2="1011.51" y2="168.78" stroke="#3c2020" stroke-width="1"/>
<line x1="1012.56" y1="99.62" x2="1012.56" y2="169.28" stroke="#705050" stroke-width="1"/>
<line x1="1013.61" y1="99.55" x2="1013.61" y2="169.13" stroke="#a88e8e" stroke-width="1.1"/>
<line x1="1016.12" y1="103.34" x2="1016.12" y2="170.42" stroke="#3c2020" stroke-width="1"/>
<line x1="1017.17" y1="105.04" x2="1017.17" y2="171.06" stroke="#705050" stroke-width="1"/>
<line x1="1018.22" y1="101.48" x2="1018.22" y2="170.25" stroke="#a88e8e" stroke-width="1.1"/>
<line x1="1020.6" y1="101.66" x2="1020.6" y2="167.61" stroke="#3c2020" stroke-width="1"/>
<line x1="1021.65" y1="99.78" x2="1021.65" y2="171.45" stroke="#705050" stroke-width="1"/>
<line x1="1022.7" y1="105.05" x2="1022.7" y2="169.35" stroke="#a88e8e" stroke-width="1.1"/>
<line x1="1024.95" y1="104.35" x2="1024.95" y2="167.91" stroke="#3c2020" stroke-width="1"/>
<line x1="1026" y1="101.83" x2="1026" y2="170.87" stroke="#705050" stroke-width="1"/>
<line x1="1027.05" y1="104.92" x2="1027.05" y2="171.63" stroke="#a88e8e" stroke-width="1.1"/>
<line x1="1029.51" y1="106.27" x2="1029.51" y2="169.1" stroke="#3c2020" stroke-width="1"/>
<line x1="1030.56" y1="101.34" x2="1030.56" y2="172.03" stroke="#705050" stroke-width="1"/>
<line x1="1031.61" y1="101.76" x2="1031.61" y2="170.69" stroke="#a88e8e" stroke-width="1.1"/>
<line x1="1034.25" y1="100.29" x2="1034.25" y2="168.89" stroke="#3c2020" stroke-width="1"/>
<line x1="1035.3" y1="105.42" x2="1035.3" y2="168.82" stroke="#705050" stroke-width="1"/>
<line x1="1036.35" y1="101.85" x2="1036.35" y2="170.85" stroke="#a88e8e" stroke-width="1.1"/>
<line x1="1038.99" y1="103.82" x2="1038.99" y2="172.1" stroke="#3c2020" stroke-width="1"/>
<line x1="1040.04" y1="103.39" x2="1040.04" y2="169.54" stroke="#705050" stroke-width="1"/>
<line x1="1041.09" y1="102.04" x2="1041.09" y2="169.57" stroke="#a88e8e" stroke-width="1.1"/>
<line x1="1043.3" y1="100.17" x2="1043.3" y2="170.42" stroke="#3c2020" stroke-width="1"/>
<line x1="1044.35" y1="101.03" x2="1044.35" y2="168.36" stroke="#705050" stroke-width="1"/>
<line x1="1045.4" y1="101.62" x2="1045.4" y2="171.21" stroke="#a88e8e" stroke-width="1.1"/>
<line x1="1047.99" y1="101.61" x2="1047.99" y2="170.64" stroke="#705050" stroke-width="1"/>
<line x1="1049.04" y1="102.07" x2="1049.04" y2="169.29" stroke="#3c2020" stroke-width="1"/>
<line x1="1050.09" y1="104.68" x2="1050.09" y2="166.47" stroke="#a88e8e" stroke-width="1.1"/>
<line x1="1052.48" y1="103.34" x2="1052.48" y2="166.98" stroke="#3c2020" stroke-width="1"/>
<line x1="988.6" y1="136.6" x2="1053.2" y2="136.6" stroke="#502828" stroke-width="3.4" stroke-linecap="round"/>
<line x1="1008.57" y1="131.47" x2="1008.57" y2="138.53" stroke="#502828" stroke-width="1.1"/>
<line x1="1038.43" y1="132.42" x2="1038.43" y2="140.18" stroke="#502828" stroke-width="1.1"/>
<line x1="1049.23" y1="131.77" x2="1049.23" y2="138.15" stroke="#502828" stroke-width="1.1"/>
<line x1="1012.79" y1="130.2" x2="1012.79" y2="139.73" stroke="#502828" stroke-width="1.1"/>
<line x1="1036.57" y1="132.2" x2="1036.57" y2="140.45" stroke="#502828" stroke-width="1.1"/>
<line x1="1045.56" y1="131.65" x2="1045.56" y2="139.57" stroke="#502828" stroke-width="1.1"/>
<line x1="996.85" y1="134.07" x2="996.85" y2="138.61" stroke="#502828" stroke-width="1.1"/>
<line x1="1034.28" y1="130.71" x2="1034.28" y2="140.02" stroke="#502828" stroke-width="1.1"/>
<line x1="1044.35" y1="133.98" x2="1044.35" y2="138.17" stroke="#502828" stroke-width="1.1"/>
<line x1="1006.07" y1="134.03" x2="1006.07" y2="139.56" stroke="#502828" stroke-width="1.1"/>
<line x1="1046.94" y1="130.5" x2="1046.94" y2="138.37" stroke="#502828" stroke-width="1.1"/>
<line x1="1030.85" y1="131.42" x2="1030.85" y2="139.74" stroke="#502828" stroke-width="1.1"/>
<line x1="1015.54" y1="133.15" x2="1015.54" y2="140.32" stroke="#502828" stroke-width="1.1"/>
<line x1="1045.36" y1="131.23" x2="1045.36" y2="139.46" stroke="#502828" stroke-width="1.1"/>
<line x1="992.6" y1="132.99" x2="992.6" y2="138.7" stroke="#502828" stroke-width="1.1"/>
<line x1="1005.31" y1="133.24" x2="1005.31" y2="139.77" stroke="#502828" stroke-width="1.1"/>
<line x1="1031.8" y1="133.4" x2="1031.8" y2="140.35" stroke="#502828" stroke-width="1.1"/>
<line x1="990.63" y1="130.28" x2="990.63" y2="139.56" stroke="#502828" stroke-width="1.1"/>
<polyline points="675.4,80.6 744.5,84.8 813.5,92.3 883.7,101.3 952.6,103.5 1022.6,103.5" fill="none" stroke="#e0208a" stroke-width="1" stroke-dasharray="3,2" stroke-linejoin="round"/>
<polyline points="675.4,193.1 744.5,188.1 813.5,180.4 883.7,172.4 952.6,169.6 1022.6,169.2" fill="none" stroke="#e0208a" stroke-width="1" stroke-dasharray="3,2" stroke-linejoin="round"/>
<rect x="672.8" y="78.6" width="5.2" height="4" fill="#dc2a8e" stroke="none" stroke-width="1"/>
<rect x="674.4" y="79.8" width="2" height="1.6" fill="#f07ac0" stroke="none" stroke-width="1"/>
<rect x="672.8" y="191.1" width="5.2" height="4" fill="#dc2a8e" stroke="none" stroke-width="1"/>
<rect x="674.4" y="192.3" width="2" height="1.6" fill="#f07ac0" stroke="none" stroke-width="1"/>
<rect x="741.9" y="82.8" width="5.2" height="4" fill="#dc2a8e" stroke="none" stroke-width="1"/>
<rect x="743.5" y="84" width="2" height="1.6" fill="#f07ac0" stroke="none" stroke-width="1"/>
<rect x="741.9" y="186.1" width="5.2" height="4" fill="#dc2a8e" stroke="none" stroke-width="1"/>
<rect x="743.5" y="187.3" width="2" height="1.6" fill="#f07ac0" stroke="none" stroke-width="1"/>
<rect x="810.9" y="90.3" width="5.2" height="4" fill="#dc2a8e" stroke="none" stroke-width="1"/>
<rect x="812.5" y="91.5" width="2" height="1.6" fill="#f07ac0" stroke="none" stroke-width="1"/>
<rect x="810.9" y="178.4" width="5.2" height="4" fill="#dc2a8e" stroke="none" stroke-width="1"/>
<rect x="812.5" y="179.6" width="2" height="1.6" fill="#f07ac0" stroke="none" stroke-width="1"/>
<rect x="881.1" y="99.3" width="5.2" height="4" fill="#dc2a8e" stroke="none" stroke-width="1"/>
<rect x="882.7" y="100.5" width="2" height="1.6" fill="#f07ac0" stroke="none" stroke-width="1"/>
<rect x="881.1" y="170.4" width="5.2" height="4" fill="#dc2a8e" stroke="none" stroke-width="1"/>
<rect x="882.7" y="171.6" width="2" height="1.6" fill="#f07ac0" stroke="none" stroke-width="1"/>
<rect x="950" y="101.5" width="5.2" height="4" fill="#dc2a8e" stroke="none" stroke-width="1"/>
<rect x="951.6" y="102.7" width="2" height="1.6" fill="#f07ac0" stroke="none" stroke-width="1"/>
<rect x="950" y="167.6" width="5.2" height="4" fill="#dc2a8e" stroke="none" stroke-width="1"/>
<rect x="951.6" y="168.8" width="2" height="1.6" fill="#f07ac0" stroke="none" stroke-width="1"/>
<rect x="1020" y="101.5" width="5.2" height="4" fill="#dc2a8e" stroke="none" stroke-width="1"/>
<rect x="1021.6" y="102.7" width="2" height="1.6" fill="#f07ac0" stroke="none" stroke-width="1"/>
<rect x="1020" y="167.2" width="5.2" height="4" fill="#dc2a8e" stroke="none" stroke-width="1"/>
<rect x="1021.6" y="168.4" width="2" height="1.6" fill="#f07ac0" stroke="none" stroke-width="1"/>
<text x="657.71" y="59.4" font-size="11.2" fill="#2a7ab0" text-anchor="start" font-weight="bold" textLength="42.03" lengthAdjust="spacingAndGlyphs">0.5 kPa</text>
<text x="721.41" y="59.4" font-size="11.2" fill="#b8b840" text-anchor="start" font-weight="bold" textLength="42.03" lengthAdjust="spacingAndGlyphs">0.6 kPa</text>
<text x="788.41" y="59.4" font-size="11.2" fill="#30a8a8" text-anchor="start" font-weight="bold" textLength="42.03" lengthAdjust="spacingAndGlyphs">0.7 kPa</text>
<text x="859.42" y="59.4" font-size="11.2" fill="#4a5a9a" text-anchor="start" font-weight="bold" textLength="41.32" lengthAdjust="spacingAndGlyphs">0.8 kPa</text>
<text x="929.82" y="59.4" font-size="11.2" fill="#e89898" text-anchor="start" font-weight="bold" textLength="41.62" lengthAdjust="spacingAndGlyphs">0.9 kPa</text>
<text x="996.54" y="59.4" font-size="11.2" fill="#4a3030" text-anchor="start" font-weight="bold" textLength="41.9" lengthAdjust="spacingAndGlyphs">1.0 kPa</text>
<rect x="622" y="34.5" width="449.5" height="179" fill="none" stroke="#111" stroke-width="1.6"/>
<line x1="622" y1="44.5" x2="625.5" y2="44.5" stroke="#111" stroke-width="1.2"/>
<text x="596.57" y="47.76" font-size="11.5" fill="#111" text-anchor="start" font-weight="bold" textLength="20.53" lengthAdjust="spacingAndGlyphs">450</text>
<line x1="622" y1="75.2" x2="625.5" y2="75.2" stroke="#111" stroke-width="1.2"/>
<text x="596.57" y="78.46" font-size="11.5" fill="#111" text-anchor="start" font-weight="bold" textLength="20.53" lengthAdjust="spacingAndGlyphs">300</text>
<line x1="622" y1="105.9" x2="625.5" y2="105.9" stroke="#111" stroke-width="1.2"/>
<text x="596.57" y="109.16" font-size="11.5" fill="#111" text-anchor="start" font-weight="bold" textLength="20.53" lengthAdjust="spacingAndGlyphs">150</text>
<line x1="622" y1="136.6" x2="625.5" y2="136.6" stroke="#111" stroke-width="1.2"/>
<text x="610.26" y="139.86" font-size="11.5" fill="#111" text-anchor="start" font-weight="bold" textLength="6.84" lengthAdjust="spacingAndGlyphs">0</text>
<line x1="622" y1="167.3" x2="625.5" y2="167.3" stroke="#111" stroke-width="1.2"/>
<text x="592.48" y="170.56" font-size="11.5" fill="#111" text-anchor="start" font-weight="bold" textLength="24.63" lengthAdjust="spacingAndGlyphs">-150</text>
<line x1="622" y1="198" x2="625.5" y2="198" stroke="#111" stroke-width="1.2"/>
<text x="592.48" y="201.26" font-size="11.5" fill="#111" text-anchor="start" font-weight="bold" textLength="24.63" lengthAdjust="spacingAndGlyphs">-300</text>
<line x1="622" y1="59.85" x2="624" y2="59.85" stroke="#111" stroke-width="1.1"/>
<line x1="622" y1="90.55" x2="624" y2="90.55" stroke="#111" stroke-width="1.1"/>
<line x1="622" y1="121.25" x2="624" y2="121.25" stroke="#111" stroke-width="1.1"/>
<line x1="622" y1="151.95" x2="624" y2="151.95" stroke="#111" stroke-width="1.1"/>
<line x1="622" y1="182.65" x2="624" y2="182.65" stroke="#111" stroke-width="1.1"/>
<line x1="622" y1="213.35" x2="624" y2="213.35" stroke="#111" stroke-width="1.1"/>
<line x1="640.5" y1="213.5" x2="640.5" y2="210" stroke="#111" stroke-width="1.2"/>
<text x="637.08" y="226.92" font-size="11.4" fill="#111" text-anchor="start" font-weight="bold" textLength="6.85" lengthAdjust="spacingAndGlyphs">0</text>
<line x1="663.73" y1="213.5" x2="663.73" y2="211.5" stroke="#111" stroke-width="1.2"/>
<line x1="686.95" y1="213.5" x2="686.95" y2="210" stroke="#111" stroke-width="1.2"/>
<text x="680.15" y="226.92" font-size="11.4" fill="#111" text-anchor="start" font-weight="bold" textLength="13.7" lengthAdjust="spacingAndGlyphs">20</text>
<line x1="710.17" y1="213.5" x2="710.17" y2="211.5" stroke="#111" stroke-width="1.2"/>
<line x1="733.4" y1="213.5" x2="733.4" y2="210" stroke="#111" stroke-width="1.2"/>
<text x="726.72" y="226.92" font-size="11.4" fill="#111" text-anchor="start" font-weight="bold" textLength="13.7" lengthAdjust="spacingAndGlyphs">40</text>
<line x1="756.62" y1="213.5" x2="756.62" y2="211.5" stroke="#111" stroke-width="1.2"/>
<line x1="779.85" y1="213.5" x2="779.85" y2="210" stroke="#111" stroke-width="1.2"/>
<text x="773.03" y="226.92" font-size="11.4" fill="#111" text-anchor="start" font-weight="bold" textLength="13.7" lengthAdjust="spacingAndGlyphs">60</text>
<line x1="803.08" y1="213.5" x2="803.08" y2="211.5" stroke="#111" stroke-width="1.2"/>
<line x1="826.3" y1="213.5" x2="826.3" y2="210" stroke="#111" stroke-width="1.2"/>
<text x="819.51" y="226.92" font-size="11.4" fill="#111" text-anchor="start" font-weight="bold" textLength="13.7" lengthAdjust="spacingAndGlyphs">80</text>
<line x1="849.52" y1="213.5" x2="849.52" y2="211.5" stroke="#111" stroke-width="1.2"/>
<line x1="872.75" y1="213.5" x2="872.75" y2="210" stroke="#111" stroke-width="1.2"/>
<text x="862.35" y="226.92" font-size="11.4" fill="#111" text-anchor="start" font-weight="bold" textLength="20.54" lengthAdjust="spacingAndGlyphs">100</text>
<line x1="895.97" y1="213.5" x2="895.97" y2="211.5" stroke="#111" stroke-width="1.2"/>
<line x1="919.2" y1="213.5" x2="919.2" y2="210" stroke="#111" stroke-width="1.2"/>
<text x="908.8" y="226.92" font-size="11.4" fill="#111" text-anchor="start" font-weight="bold" textLength="20.54" lengthAdjust="spacingAndGlyphs">120</text>
<line x1="942.42" y1="213.5" x2="942.42" y2="211.5" stroke="#111" stroke-width="1.2"/>
<line x1="965.65" y1="213.5" x2="965.65" y2="210" stroke="#111" stroke-width="1.2"/>
<text x="955.25" y="226.92" font-size="11.4" fill="#111" text-anchor="start" font-weight="bold" textLength="20.54" lengthAdjust="spacingAndGlyphs">140</text>
<line x1="988.88" y1="213.5" x2="988.88" y2="211.5" stroke="#111" stroke-width="1.2"/>
<line x1="1012.1" y1="213.5" x2="1012.1" y2="210" stroke="#111" stroke-width="1.2"/>
<text x="1001.7" y="226.92" font-size="11.4" fill="#111" text-anchor="start" font-weight="bold" textLength="20.54" lengthAdjust="spacingAndGlyphs">160</text>
<line x1="1035.33" y1="213.5" x2="1035.33" y2="211.5" stroke="#111" stroke-width="1.2"/>
<line x1="1058.55" y1="213.5" x2="1058.55" y2="210" stroke="#111" stroke-width="1.2"/>
<text x="1048.15" y="226.92" font-size="11.4" fill="#111" text-anchor="start" font-weight="bold" textLength="20.54" lengthAdjust="spacingAndGlyphs">180</text>
<text x="817.34" y="248.91" font-size="14.91" fill="#111" text-anchor="start" font-weight="bold" textLength="60.16" lengthAdjust="spacingAndGlyphs">Time (s)</text>
<text transform="translate(584.2 206.8) rotate(-90)" x="0" y="0" font-size="16" fill="#111" font-weight="bold" textLength="168.74" lengthAdjust="spacingAndGlyphs">Open-circuit voltage (V)</text>
<text x="557.57" y="27.97" font-size="18.45" fill="#111" text-anchor="start" font-weight="bold" textLength="26.24" lengthAdjust="spacingAndGlyphs">(b)</text>
<!--C-->
<polyline points="103.2,307.4 128.48,286.3 153.76,293.2 179.04,297 204.32,304.4 229.6,306.6 254.88,311.4 280.16,320.4 305.44,330.8 330.72,333 356,332.4" fill="none" stroke="#1f8a2a" stroke-width="1.5" stroke-linejoin="round"/>
<line x1="103.2" y1="305.4" x2="103.2" y2="309.4" stroke="#1f8a2a" stroke-width="0.9"/>
<line x1="100.8" y1="305.4" x2="105.6" y2="305.4" stroke="#1f8a2a" stroke-width="0.9"/>
<line x1="100.8" y1="309.4" x2="105.6" y2="309.4" stroke="#1f8a2a" stroke-width="0.9"/>
<rect x="100.9" y="305.4" width="4.6" height="4" fill="#1f8a2a" stroke="none" stroke-width="1"/>
<line x1="128.48" y1="284.3" x2="128.48" y2="288.3" stroke="#1f8a2a" stroke-width="0.9"/>
<line x1="126.08" y1="284.3" x2="130.88" y2="284.3" stroke="#1f8a2a" stroke-width="0.9"/>
<line x1="126.08" y1="288.3" x2="130.88" y2="288.3" stroke="#1f8a2a" stroke-width="0.9"/>
<rect x="126.18" y="284.3" width="4.6" height="4" fill="#1f8a2a" stroke="none" stroke-width="1"/>
<line x1="153.76" y1="289.2" x2="153.76" y2="297.2" stroke="#1f8a2a" stroke-width="0.9"/>
<line x1="151.36" y1="289.2" x2="156.16" y2="289.2" stroke="#1f8a2a" stroke-width="0.9"/>
<line x1="151.36" y1="297.2" x2="156.16" y2="297.2" stroke="#1f8a2a" stroke-width="0.9"/>
<rect x="151.46" y="291.2" width="4.6" height="4" fill="#1f8a2a" stroke="none" stroke-width="1"/>
<line x1="179.04" y1="295" x2="179.04" y2="299" stroke="#1f8a2a" stroke-width="0.9"/>
<line x1="176.64" y1="295" x2="181.44" y2="295" stroke="#1f8a2a" stroke-width="0.9"/>
<line x1="176.64" y1="299" x2="181.44" y2="299" stroke="#1f8a2a" stroke-width="0.9"/>
<rect x="176.74" y="295" width="4.6" height="4" fill="#1f8a2a" stroke="none" stroke-width="1"/>
<line x1="204.32" y1="302.4" x2="204.32" y2="306.4" stroke="#1f8a2a" stroke-width="0.9"/>
<line x1="201.92" y1="302.4" x2="206.72" y2="302.4" stroke="#1f8a2a" stroke-width="0.9"/>
<line x1="201.92" y1="306.4" x2="206.72" y2="306.4" stroke="#1f8a2a" stroke-width="0.9"/>
<rect x="202.02" y="302.4" width="4.6" height="4" fill="#1f8a2a" stroke="none" stroke-width="1"/>
<line x1="229.6" y1="304.6" x2="229.6" y2="308.6" stroke="#1f8a2a" stroke-width="0.9"/>
<line x1="227.2" y1="304.6" x2="232" y2="304.6" stroke="#1f8a2a" stroke-width="0.9"/>
<line x1="227.2" y1="308.6" x2="232" y2="308.6" stroke="#1f8a2a" stroke-width="0.9"/>
<rect x="227.3" y="304.6" width="4.6" height="4" fill="#1f8a2a" stroke="none" stroke-width="1"/>
<line x1="254.88" y1="309.4" x2="254.88" y2="313.4" stroke="#1f8a2a" stroke-width="0.9"/>
<line x1="252.48" y1="309.4" x2="257.28" y2="309.4" stroke="#1f8a2a" stroke-width="0.9"/>
<line x1="252.48" y1="313.4" x2="257.28" y2="313.4" stroke="#1f8a2a" stroke-width="0.9"/>
<rect x="252.58" y="309.4" width="4.6" height="4" fill="#1f8a2a" stroke="none" stroke-width="1"/>
<line x1="280.16" y1="318.4" x2="280.16" y2="322.4" stroke="#1f8a2a" stroke-width="0.9"/>
<line x1="277.76" y1="318.4" x2="282.56" y2="318.4" stroke="#1f8a2a" stroke-width="0.9"/>
<line x1="277.76" y1="322.4" x2="282.56" y2="322.4" stroke="#1f8a2a" stroke-width="0.9"/>
<rect x="277.86" y="318.4" width="4.6" height="4" fill="#1f8a2a" stroke="none" stroke-width="1"/>
<line x1="305.44" y1="328.8" x2="305.44" y2="332.8" stroke="#1f8a2a" stroke-width="0.9"/>
<line x1="303.04" y1="328.8" x2="307.84" y2="328.8" stroke="#1f8a2a" stroke-width="0.9"/>
<line x1="303.04" y1="332.8" x2="307.84" y2="332.8" stroke="#1f8a2a" stroke-width="0.9"/>
<rect x="303.14" y="328.8" width="4.6" height="4" fill="#1f8a2a" stroke="none" stroke-width="1"/>
<line x1="330.72" y1="331" x2="330.72" y2="335" stroke="#1f8a2a" stroke-width="0.9"/>
<line x1="328.32" y1="331" x2="333.12" y2="331" stroke="#1f8a2a" stroke-width="0.9"/>
<line x1="328.32" y1="335" x2="333.12" y2="335" stroke="#1f8a2a" stroke-width="0.9"/>
<rect x="328.42" y="331" width="4.6" height="4" fill="#1f8a2a" stroke="none" stroke-width="1"/>
<line x1="356" y1="330.4" x2="356" y2="334.4" stroke="#1f8a2a" stroke-width="0.9"/>
<line x1="353.6" y1="330.4" x2="358.4" y2="330.4" stroke="#1f8a2a" stroke-width="0.9"/>
<line x1="353.6" y1="334.4" x2="358.4" y2="334.4" stroke="#1f8a2a" stroke-width="0.9"/>
<rect x="353.7" y="330.4" width="4.6" height="4" fill="#1f8a2a" stroke="none" stroke-width="1"/>
<polyline points="103.2,350 128.48,306.4 153.76,309.3 179.04,313 204.32,314 229.6,315.6 254.88,321.6 280.16,331 305.44,340 330.72,342 356,342.6" fill="none" stroke="#d0288c" stroke-width="1.5" stroke-linejoin="round"/>
<line x1="103.2" y1="346" x2="103.2" y2="354" stroke="#d0288c" stroke-width="0.9"/>
<line x1="100.8" y1="346" x2="105.6" y2="346" stroke="#d0288c" stroke-width="0.9"/>
<line x1="100.8" y1="354" x2="105.6" y2="354" stroke="#d0288c" stroke-width="0.9"/>
<rect x="100.9" y="348" width="4.6" height="4" fill="#d0288c" stroke="none" stroke-width="1"/>
<line x1="128.48" y1="302.4" x2="128.48" y2="310.4" stroke="#d0288c" stroke-width="0.9"/>
<line x1="126.08" y1="302.4" x2="130.88" y2="302.4" stroke="#d0288c" stroke-width="0.9"/>
<line x1="126.08" y1="310.4" x2="130.88" y2="310.4" stroke="#d0288c" stroke-width="0.9"/>
<rect x="126.18" y="304.4" width="4.6" height="4" fill="#d0288c" stroke="none" stroke-width="1"/>
<line x1="153.76" y1="306.3" x2="153.76" y2="312.3" stroke="#d0288c" stroke-width="0.9"/>
<line x1="151.36" y1="306.3" x2="156.16" y2="306.3" stroke="#d0288c" stroke-width="0.9"/>
<line x1="151.36" y1="312.3" x2="156.16" y2="312.3" stroke="#d0288c" stroke-width="0.9"/>
<rect x="151.46" y="307.3" width="4.6" height="4" fill="#d0288c" stroke="none" stroke-width="1"/>
<line x1="179.04" y1="309" x2="179.04" y2="317" stroke="#d0288c" stroke-width="0.9"/>
<line x1="176.64" y1="309" x2="181.44" y2="309" stroke="#d0288c" stroke-width="0.9"/>
<line x1="176.64" y1="317" x2="181.44" y2="317" stroke="#d0288c" stroke-width="0.9"/>
<rect x="176.74" y="311" width="4.6" height="4" fill="#d0288c" stroke="none" stroke-width="1"/>
<line x1="204.32" y1="310" x2="204.32" y2="318" stroke="#d0288c" stroke-width="0.9"/>
<line x1="201.92" y1="310" x2="206.72" y2="310" stroke="#d0288c" stroke-width="0.9"/>
<line x1="201.92" y1="318" x2="206.72" y2="318" stroke="#d0288c" stroke-width="0.9"/>
<rect x="202.02" y="312" width="4.6" height="4" fill="#d0288c" stroke="none" stroke-width="1"/>
<line x1="229.6" y1="311.6" x2="229.6" y2="319.6" stroke="#d0288c" stroke-width="0.9"/>
<line x1="227.2" y1="311.6" x2="232" y2="311.6" stroke="#d0288c" stroke-width="0.9"/>
<line x1="227.2" y1="319.6" x2="232" y2="319.6" stroke="#d0288c" stroke-width="0.9"/>
<rect x="227.3" y="313.6" width="4.6" height="4" fill="#d0288c" stroke="none" stroke-width="1"/>
<line x1="254.88" y1="317.6" x2="254.88" y2="325.6" stroke="#d0288c" stroke-width="0.9"/>
<line x1="252.48" y1="317.6" x2="257.28" y2="317.6" stroke="#d0288c" stroke-width="0.9"/>
<line x1="252.48" y1="325.6" x2="257.28" y2="325.6" stroke="#d0288c" stroke-width="0.9"/>
<rect x="252.58" y="319.6" width="4.6" height="4" fill="#d0288c" stroke="none" stroke-width="1"/>
<line x1="280.16" y1="329" x2="280.16" y2="333" stroke="#d0288c" stroke-width="0.9"/>
<line x1="277.76" y1="329" x2="282.56" y2="329" stroke="#d0288c" stroke-width="0.9"/>
<line x1="277.76" y1="333" x2="282.56" y2="333" stroke="#d0288c" stroke-width="0.9"/>
<rect x="277.86" y="329" width="4.6" height="4" fill="#d0288c" stroke="none" stroke-width="1"/>
<line x1="305.44" y1="338" x2="305.44" y2="342" stroke="#d0288c" stroke-width="0.9"/>
<line x1="303.04" y1="338" x2="307.84" y2="338" stroke="#d0288c" stroke-width="0.9"/>
<line x1="303.04" y1="342" x2="307.84" y2="342" stroke="#d0288c" stroke-width="0.9"/>
<rect x="303.14" y="338" width="4.6" height="4" fill="#d0288c" stroke="none" stroke-width="1"/>
<line x1="330.72" y1="339" x2="330.72" y2="345" stroke="#d0288c" stroke-width="0.9"/>
<line x1="328.32" y1="339" x2="333.12" y2="339" stroke="#d0288c" stroke-width="0.9"/>
<line x1="328.32" y1="345" x2="333.12" y2="345" stroke="#d0288c" stroke-width="0.9"/>
<rect x="328.42" y="340" width="4.6" height="4" fill="#d0288c" stroke="none" stroke-width="1"/>
<line x1="356" y1="340.6" x2="356" y2="344.6" stroke="#d0288c" stroke-width="0.9"/>
<line x1="353.6" y1="340.6" x2="358.4" y2="340.6" stroke="#d0288c" stroke-width="0.9"/>
<line x1="353.6" y1="344.6" x2="358.4" y2="344.6" stroke="#d0288c" stroke-width="0.9"/>
<rect x="353.7" y="340.6" width="4.6" height="4" fill="#d0288c" stroke="none" stroke-width="1"/>
<polyline points="103.2,389 128.48,387 153.76,394.4 179.04,405.6 204.32,417 229.6,428.4 254.88,421 280.16,412.4 305.44,402 330.72,400 356,399.4" fill="none" stroke="#d0288c" stroke-width="1.2" stroke-dasharray="3.5,2.5" stroke-linejoin="round"/>
<line x1="103.2" y1="385" x2="103.2" y2="393" stroke="#d0288c" stroke-width="0.9"/>
<line x1="100.8" y1="385" x2="105.6" y2="385" stroke="#d0288c" stroke-width="0.9"/>
<line x1="100.8" y1="393" x2="105.6" y2="393" stroke="#d0288c" stroke-width="0.9"/>
<rect x="101" y="387" width="4.4" height="4" fill="#fff" stroke="#d0288c" stroke-width="1"/>
<line x1="128.48" y1="384" x2="128.48" y2="390" stroke="#d0288c" stroke-width="0.9"/>
<line x1="126.08" y1="384" x2="130.88" y2="384" stroke="#d0288c" stroke-width="0.9"/>
<line x1="126.08" y1="390" x2="130.88" y2="390" stroke="#d0288c" stroke-width="0.9"/>
<rect x="126.28" y="385" width="4.4" height="4" fill="#fff" stroke="#d0288c" stroke-width="1"/>
<line x1="153.76" y1="390.4" x2="153.76" y2="398.4" stroke="#d0288c" stroke-width="0.9"/>
<line x1="151.36" y1="390.4" x2="156.16" y2="390.4" stroke="#d0288c" stroke-width="0.9"/>
<line x1="151.36" y1="398.4" x2="156.16" y2="398.4" stroke="#d0288c" stroke-width="0.9"/>
<rect x="151.56" y="392.4" width="4.4" height="4" fill="#fff" stroke="#d0288c" stroke-width="1"/>
<line x1="179.04" y1="403.6" x2="179.04" y2="407.6" stroke="#d0288c" stroke-width="0.9"/>
<line x1="176.64" y1="403.6" x2="181.44" y2="403.6" stroke="#d0288c" stroke-width="0.9"/>
<line x1="176.64" y1="407.6" x2="181.44" y2="407.6" stroke="#d0288c" stroke-width="0.9"/>
<rect x="176.84" y="403.6" width="4.4" height="4" fill="#fff" stroke="#d0288c" stroke-width="1"/>
<line x1="204.32" y1="413" x2="204.32" y2="421" stroke="#d0288c" stroke-width="0.9"/>
<line x1="201.92" y1="413" x2="206.72" y2="413" stroke="#d0288c" stroke-width="0.9"/>
<line x1="201.92" y1="421" x2="206.72" y2="421" stroke="#d0288c" stroke-width="0.9"/>
<rect x="202.12" y="415" width="4.4" height="4" fill="#fff" stroke="#d0288c" stroke-width="1"/>
<line x1="229.6" y1="424.4" x2="229.6" y2="432.4" stroke="#d0288c" stroke-width="0.9"/>
<line x1="227.2" y1="424.4" x2="232" y2="424.4" stroke="#d0288c" stroke-width="0.9"/>
<line x1="227.2" y1="432.4" x2="232" y2="432.4" stroke="#d0288c" stroke-width="0.9"/>
<rect x="227.4" y="426.4" width="4.4" height="4" fill="#fff" stroke="#d0288c" stroke-width="1"/>
<line x1="254.88" y1="417" x2="254.88" y2="425" stroke="#d0288c" stroke-width="0.9"/>
<line x1="252.48" y1="417" x2="257.28" y2="417" stroke="#d0288c" stroke-width="0.9"/>
<line x1="252.48" y1="425" x2="257.28" y2="425" stroke="#d0288c" stroke-width="0.9"/>
<rect x="252.68" y="419" width="4.4" height="4" fill="#fff" stroke="#d0288c" stroke-width="1"/>
<line x1="280.16" y1="408.4" x2="280.16" y2="416.4" stroke="#d0288c" stroke-width="0.9"/>
<line x1="277.76" y1="408.4" x2="282.56" y2="408.4" stroke="#d0288c" stroke-width="0.9"/>
<line x1="277.76" y1="416.4" x2="282.56" y2="416.4" stroke="#d0288c" stroke-width="0.9"/>
<rect x="277.96" y="410.4" width="4.4" height="4" fill="#fff" stroke="#d0288c" stroke-width="1"/>
<line x1="305.44" y1="398" x2="305.44" y2="406" stroke="#d0288c" stroke-width="0.9"/>
<line x1="303.04" y1="398" x2="307.84" y2="398" stroke="#d0288c" stroke-width="0.9"/>
<line x1="303.04" y1="406" x2="307.84" y2="406" stroke="#d0288c" stroke-width="0.9"/>
<rect x="303.24" y="400" width="4.4" height="4" fill="#fff" stroke="#d0288c" stroke-width="1"/>
<line x1="330.72" y1="398" x2="330.72" y2="402" stroke="#d0288c" stroke-width="0.9"/>
<line x1="328.32" y1="398" x2="333.12" y2="398" stroke="#d0288c" stroke-width="0.9"/>
<line x1="328.32" y1="402" x2="333.12" y2="402" stroke="#d0288c" stroke-width="0.9"/>
<rect x="328.52" y="398" width="4.4" height="4" fill="#fff" stroke="#d0288c" stroke-width="1"/>
<line x1="356" y1="397.4" x2="356" y2="401.4" stroke="#d0288c" stroke-width="0.9"/>
<line x1="353.6" y1="397.4" x2="358.4" y2="397.4" stroke="#d0288c" stroke-width="0.9"/>
<line x1="353.6" y1="401.4" x2="358.4" y2="401.4" stroke="#d0288c" stroke-width="0.9"/>
<rect x="353.8" y="397.4" width="4.4" height="4" fill="#fff" stroke="#d0288c" stroke-width="1"/>
<polyline points="103.2,402 128.48,411.4 153.76,420.4 179.04,424.4 204.32,432.4 229.6,436 254.88,430.6 280.16,421.6 305.44,412.4 330.72,409 356,408.4" fill="none" stroke="#1f8a2a" stroke-width="1.2" stroke-dasharray="3.5,2.5" stroke-linejoin="round"/>
<line x1="103.2" y1="401" x2="103.2" y2="403" stroke="#1f8a2a" stroke-width="0.9"/>
<line x1="100.8" y1="401" x2="105.6" y2="401" stroke="#1f8a2a" stroke-width="0.9"/>
<line x1="100.8" y1="403" x2="105.6" y2="403" stroke="#1f8a2a" stroke-width="0.9"/>
<rect x="101" y="400" width="4.4" height="4" fill="#fff" stroke="#1f8a2a" stroke-width="1"/>
<line x1="128.48" y1="410.4" x2="128.48" y2="412.4" stroke="#1f8a2a" stroke-width="0.9"/>
<line x1="126.08" y1="410.4" x2="130.88" y2="410.4" stroke="#1f8a2a" stroke-width="0.9"/>
<line x1="126.08" y1="412.4" x2="130.88" y2="412.4" stroke="#1f8a2a" stroke-width="0.9"/>
<rect x="126.28" y="409.4" width="4.4" height="4" fill="#fff" stroke="#1f8a2a" stroke-width="1"/>
<line x1="153.76" y1="418.4" x2="153.76" y2="422.4" stroke="#1f8a2a" stroke-width="0.9"/>
<line x1="151.36" y1="418.4" x2="156.16" y2="418.4" stroke="#1f8a2a" stroke-width="0.9"/>
<line x1="151.36" y1="422.4" x2="156.16" y2="422.4" stroke="#1f8a2a" stroke-width="0.9"/>
<rect x="151.56" y="418.4" width="4.4" height="4" fill="#fff" stroke="#1f8a2a" stroke-width="1"/>
<line x1="179.04" y1="422.4" x2="179.04" y2="426.4" stroke="#1f8a2a" stroke-width="0.9"/>
<line x1="176.64" y1="422.4" x2="181.44" y2="422.4" stroke="#1f8a2a" stroke-width="0.9"/>
<line x1="176.64" y1="426.4" x2="181.44" y2="426.4" stroke="#1f8a2a" stroke-width="0.9"/>
<rect x="176.84" y="422.4" width="4.4" height="4" fill="#fff" stroke="#1f8a2a" stroke-width="1"/>
<line x1="204.32" y1="430.4" x2="204.32" y2="434.4" stroke="#1f8a2a" stroke-width="0.9"/>
<line x1="201.92" y1="430.4" x2="206.72" y2="430.4" stroke="#1f8a2a" stroke-width="0.9"/>
<line x1="201.92" y1="434.4" x2="206.72" y2="434.4" stroke="#1f8a2a" stroke-width="0.9"/>
<rect x="202.12" y="430.4" width="4.4" height="4" fill="#fff" stroke="#1f8a2a" stroke-width="1"/>
<line x1="229.6" y1="434" x2="229.6" y2="438" stroke="#1f8a2a" stroke-width="0.9"/>
<line x1="227.2" y1="434" x2="232" y2="434" stroke="#1f8a2a" stroke-width="0.9"/>
<line x1="227.2" y1="438" x2="232" y2="438" stroke="#1f8a2a" stroke-width="0.9"/>
<rect x="227.4" y="434" width="4.4" height="4" fill="#fff" stroke="#1f8a2a" stroke-width="1"/>
<line x1="254.88" y1="427.6" x2="254.88" y2="433.6" stroke="#1f8a2a" stroke-width="0.9"/>
<line x1="252.48" y1="427.6" x2="257.28" y2="427.6" stroke="#1f8a2a" stroke-width="0.9"/>
<line x1="252.48" y1="433.6" x2="257.28" y2="433.6" stroke="#1f8a2a" stroke-width="0.9"/>
<rect x="252.68" y="428.6" width="4.4" height="4" fill="#fff" stroke="#1f8a2a" stroke-width="1"/>
<line x1="280.16" y1="419.6" x2="280.16" y2="423.6" stroke="#1f8a2a" stroke-width="0.9"/>
<line x1="277.76" y1="419.6" x2="282.56" y2="419.6" stroke="#1f8a2a" stroke-width="0.9"/>
<line x1="277.76" y1="423.6" x2="282.56" y2="423.6" stroke="#1f8a2a" stroke-width="0.9"/>
<rect x="277.96" y="419.6" width="4.4" height="4" fill="#fff" stroke="#1f8a2a" stroke-width="1"/>
<line x1="305.44" y1="410.4" x2="305.44" y2="414.4" stroke="#1f8a2a" stroke-width="0.9"/>
<line x1="303.04" y1="410.4" x2="307.84" y2="410.4" stroke="#1f8a2a" stroke-width="0.9"/>
<line x1="303.04" y1="414.4" x2="307.84" y2="414.4" stroke="#1f8a2a" stroke-width="0.9"/>
<rect x="303.24" y="410.4" width="4.4" height="4" fill="#fff" stroke="#1f8a2a" stroke-width="1"/>
<line x1="330.72" y1="407" x2="330.72" y2="411" stroke="#1f8a2a" stroke-width="0.9"/>
<line x1="328.32" y1="407" x2="333.12" y2="407" stroke="#1f8a2a" stroke-width="0.9"/>
<line x1="328.32" y1="411" x2="333.12" y2="411" stroke="#1f8a2a" stroke-width="0.9"/>
<rect x="328.52" y="407" width="4.4" height="4" fill="#fff" stroke="#1f8a2a" stroke-width="1"/>
<line x1="356" y1="406.4" x2="356" y2="410.4" stroke="#1f8a2a" stroke-width="0.9"/>
<line x1="353.6" y1="406.4" x2="358.4" y2="406.4" stroke="#1f8a2a" stroke-width="0.9"/>
<line x1="353.6" y1="410.4" x2="358.4" y2="410.4" stroke="#1f8a2a" stroke-width="0.9"/>
<rect x="353.8" y="406.4" width="4.4" height="4" fill="#fff" stroke="#1f8a2a" stroke-width="1"/>
<line x1="107.6" y1="362.2" x2="129.6" y2="362.2" stroke="#1f8a2a" stroke-width="1.3"/>
<ellipse cx="118.6" cy="362.2" rx="2.2" ry="2" fill="#fff" stroke="#1f8a2a" stroke-width="1.2"/>
<text x="134.02" y="364.8" font-size="9.45" fill="#111" text-anchor="start" font-weight="bold" textLength="89.68" lengthAdjust="spacingAndGlyphs">Forward voltage</text>
<line x1="107.6" y1="375.8" x2="129.6" y2="375.8" stroke="#1f8a2a" stroke-width="1.3" stroke-dasharray="3,2"/>
<ellipse cx="118.6" cy="375.8" rx="2.8" ry="2.4" fill="#fff" stroke="#1f8a2a" stroke-width="0.9"/>
<text x="134.43" y="378.4" font-size="9.45" fill="#111" text-anchor="start" font-weight="bold" textLength="97.46" lengthAdjust="spacingAndGlyphs">Backward voltage</text>
<line x1="244.2" y1="362.2" x2="265.6" y2="362.2" stroke="#d0288c" stroke-width="1.3"/>
<ellipse cx="254.9" cy="362.2" rx="2.2" ry="2" fill="#fff" stroke="#d0288c" stroke-width="1.2"/>
<text x="268.42" y="364.8" font-size="9.45" fill="#111" text-anchor="start" font-weight="bold" textLength="88.23" lengthAdjust="spacingAndGlyphs">Forward current</text>
<line x1="244.2" y1="375.8" x2="265.6" y2="375.8" stroke="#d0288c" stroke-width="1.3" stroke-dasharray="3,2"/>
<ellipse cx="254.9" cy="375.8" rx="2.8" ry="2.4" fill="#fff" stroke="#d0288c" stroke-width="0.9"/>
<text x="268.42" y="378.4" font-size="9.45" fill="#111" text-anchor="start" font-weight="bold" textLength="97.23" lengthAdjust="spacingAndGlyphs">Backward current</text>
<line x1="78" y1="272" x2="381.5" y2="272" stroke="#111" stroke-width="1.7"/>
<line x1="78" y1="451.2" x2="381.5" y2="451.2" stroke="#111" stroke-width="1.7"/>
<line x1="78.2" y1="271.2" x2="78.2" y2="452" stroke="#1f8a2a" stroke-width="1.7"/>
<line x1="381.4" y1="271.2" x2="381.4" y2="452" stroke="#b0206e" stroke-width="1.7"/>
<line x1="78.2" y1="442.15" x2="82" y2="442.15" stroke="#1f8a2a" stroke-width="1.2"/>
<text x="48.27" y="445.64" font-size="11.6" fill="#1f8a2a" text-anchor="start" font-weight="bold" textLength="24.84" lengthAdjust="spacingAndGlyphs">-300</text>
<line x1="78.2" y1="418.5" x2="82" y2="418.5" stroke="#1f8a2a" stroke-width="1.2"/>
<text x="48.27" y="421.99" font-size="11.6" fill="#1f8a2a" text-anchor="start" font-weight="bold" textLength="24.84" lengthAdjust="spacingAndGlyphs">-200</text>
<line x1="78.2" y1="394.85" x2="82" y2="394.85" stroke="#1f8a2a" stroke-width="1.2"/>
<text x="48.27" y="398.34" font-size="11.6" fill="#1f8a2a" text-anchor="start" font-weight="bold" textLength="24.84" lengthAdjust="spacingAndGlyphs">-100</text>
<line x1="78.2" y1="371.2" x2="82" y2="371.2" stroke="#1f8a2a" stroke-width="1.2"/>
<text x="66.21" y="374.69" font-size="11.6" fill="#1f8a2a" text-anchor="start" font-weight="bold" textLength="6.9" lengthAdjust="spacingAndGlyphs">0</text>
<line x1="78.2" y1="347.55" x2="82" y2="347.55" stroke="#1f8a2a" stroke-width="1.2"/>
<text x="52.4" y="351.04" font-size="11.6" fill="#1f8a2a" text-anchor="start" font-weight="bold" textLength="20.71" lengthAdjust="spacingAndGlyphs">100</text>
<line x1="78.2" y1="323.9" x2="82" y2="323.9" stroke="#1f8a2a" stroke-width="1.2"/>
<text x="52.4" y="327.39" font-size="11.6" fill="#1f8a2a" text-anchor="start" font-weight="bold" textLength="20.71" lengthAdjust="spacingAndGlyphs">200</text>
<line x1="78.2" y1="300.25" x2="82" y2="300.25" stroke="#1f8a2a" stroke-width="1.2"/>
<text x="52.4" y="303.74" font-size="11.6" fill="#1f8a2a" text-anchor="start" font-weight="bold" textLength="20.71" lengthAdjust="spacingAndGlyphs">300</text>
<line x1="78.2" y1="276.6" x2="82" y2="276.6" stroke="#1f8a2a" stroke-width="1.2"/>
<text x="52.4" y="280.09" font-size="11.6" fill="#1f8a2a" text-anchor="start" font-weight="bold" textLength="20.71" lengthAdjust="spacingAndGlyphs">400</text>
<line x1="78.2" y1="430.32" x2="80.5" y2="430.32" stroke="#1f8a2a" stroke-width="1.1"/>
<line x1="78.2" y1="406.68" x2="80.5" y2="406.68" stroke="#1f8a2a" stroke-width="1.1"/>
<line x1="78.2" y1="383.02" x2="80.5" y2="383.02" stroke="#1f8a2a" stroke-width="1.1"/>
<line x1="78.2" y1="359.38" x2="80.5" y2="359.38" stroke="#1f8a2a" stroke-width="1.1"/>
<line x1="78.2" y1="335.72" x2="80.5" y2="335.72" stroke="#1f8a2a" stroke-width="1.1"/>
<line x1="78.2" y1="312.07" x2="80.5" y2="312.07" stroke="#1f8a2a" stroke-width="1.1"/>
<line x1="78.2" y1="288.43" x2="80.5" y2="288.43" stroke="#1f8a2a" stroke-width="1.1"/>
<line x1="381.4" y1="276.59" x2="377.8" y2="276.59" stroke="#b0206e" stroke-width="1.2"/>
<text x="385.72" y="280.08" font-size="11.6" fill="#d0288c" text-anchor="start" font-weight="bold" textLength="13.81" lengthAdjust="spacingAndGlyphs">30</text>
<line x1="381.4" y1="308.06" x2="377.8" y2="308.06" stroke="#b0206e" stroke-width="1.2"/>
<text x="385.57" y="311.55" font-size="11.6" fill="#d0288c" text-anchor="start" font-weight="bold" textLength="13.81" lengthAdjust="spacingAndGlyphs">20</text>
<line x1="381.4" y1="339.53" x2="377.8" y2="339.53" stroke="#b0206e" stroke-width="1.2"/>
<text x="385.22" y="343.02" font-size="11.6" fill="#d0288c" text-anchor="start" font-weight="bold" textLength="13.81" lengthAdjust="spacingAndGlyphs">10</text>
<line x1="381.4" y1="371" x2="377.8" y2="371" stroke="#b0206e" stroke-width="1.2"/>
<text x="385.5" y="374.49" font-size="11.6" fill="#d0288c" text-anchor="start" font-weight="bold" textLength="6.9" lengthAdjust="spacingAndGlyphs">0</text>
<line x1="381.4" y1="402.47" x2="377.8" y2="402.47" stroke="#b0206e" stroke-width="1.2"/>
<text x="385.5" y="405.96" font-size="11.6" fill="#d0288c" text-anchor="start" font-weight="bold" textLength="17.94" lengthAdjust="spacingAndGlyphs">-10</text>
<line x1="381.4" y1="433.94" x2="377.8" y2="433.94" stroke="#b0206e" stroke-width="1.2"/>
<text x="385.5" y="437.43" font-size="11.6" fill="#d0288c" text-anchor="start" font-weight="bold" textLength="17.94" lengthAdjust="spacingAndGlyphs">-20</text>
<line x1="381.4" y1="292.32" x2="379.3" y2="292.32" stroke="#b0206e" stroke-width="1.1"/>
<line x1="381.4" y1="323.8" x2="379.3" y2="323.8" stroke="#b0206e" stroke-width="1.1"/>
<line x1="381.4" y1="355.26" x2="379.3" y2="355.26" stroke="#b0206e" stroke-width="1.1"/>
<line x1="381.4" y1="386.74" x2="379.3" y2="386.74" stroke="#b0206e" stroke-width="1.1"/>
<line x1="381.4" y1="418.2" x2="379.3" y2="418.2" stroke="#b0206e" stroke-width="1.1"/>
<line x1="381.4" y1="449.68" x2="379.3" y2="449.68" stroke="#b0206e" stroke-width="1.1"/>
<line x1="103.2" y1="451.2" x2="103.2" y2="447.7" stroke="#111" stroke-width="1.2"/>
<text x="94.56" y="464.54" font-size="11.9" fill="#111" text-anchor="start" font-weight="bold" textLength="17.29" lengthAdjust="spacingAndGlyphs">0.0</text>
<line x1="128.48" y1="451.2" x2="128.48" y2="449.2" stroke="#111" stroke-width="1.2"/>
<line x1="153.76" y1="451.2" x2="153.76" y2="447.7" stroke="#111" stroke-width="1.2"/>
<text x="145.12" y="464.54" font-size="11.9" fill="#111" text-anchor="start" font-weight="bold" textLength="17.29" lengthAdjust="spacingAndGlyphs">0.2</text>
<line x1="179.04" y1="451.2" x2="179.04" y2="449.2" stroke="#111" stroke-width="1.2"/>
<line x1="204.32" y1="451.2" x2="204.32" y2="447.7" stroke="#111" stroke-width="1.2"/>
<text x="195.46" y="464.54" font-size="11.9" fill="#111" text-anchor="start" font-weight="bold" textLength="17.29" lengthAdjust="spacingAndGlyphs">0.4</text>
<line x1="229.6" y1="451.2" x2="229.6" y2="449.2" stroke="#111" stroke-width="1.2"/>
<line x1="254.88" y1="451.2" x2="254.88" y2="447.7" stroke="#111" stroke-width="1.2"/>
<text x="246.21" y="464.54" font-size="11.9" fill="#111" text-anchor="start" font-weight="bold" textLength="17.29" lengthAdjust="spacingAndGlyphs">0.6</text>
<line x1="280.16" y1="451.2" x2="280.16" y2="449.2" stroke="#111" stroke-width="1.2"/>
<line x1="305.44" y1="451.2" x2="305.44" y2="447.7" stroke="#111" stroke-width="1.2"/>
<text x="296.74" y="464.54" font-size="11.9" fill="#111" text-anchor="start" font-weight="bold" textLength="17.29" lengthAdjust="spacingAndGlyphs">0.8</text>
<line x1="330.72" y1="451.2" x2="330.72" y2="449.2" stroke="#111" stroke-width="1.2"/>
<line x1="356" y1="451.2" x2="356" y2="447.7" stroke="#111" stroke-width="1.2"/>
<text x="347.22" y="464.54" font-size="11.9" fill="#111" text-anchor="start" font-weight="bold" textLength="17.29" lengthAdjust="spacingAndGlyphs">1.0</text>
<text x="173.72" y="483.71" font-size="14.91" fill="#111" text-anchor="start" font-weight="bold" textLength="112.51" lengthAdjust="spacingAndGlyphs">Pressure (kPa)</text>
<text transform="translate(39.5 445.2) rotate(-90)" x="0" y="0" font-size="16" fill="#1f8a2a" font-weight="bold" textLength="167.83" lengthAdjust="spacingAndGlyphs">Open-circuit voltage (V)</text>
<text transform="translate(423.56 447.95) rotate(-90)" x="0" y="0" font-size="16.09" fill="#d0288c" font-weight="bold" textLength="178.01" lengthAdjust="spacingAndGlyphs">Short circuit current (μA)</text>
<text x="12.57" y="262.66" font-size="18.02" fill="#111" text-anchor="start" font-weight="bold" textLength="25.26" lengthAdjust="spacingAndGlyphs">(c)</text>
<polyline points="103.2,677 128.48,590.4 153.76,573.4 179.04,566.4 204.32,543 229.6,529.4 254.88,563.2 280.16,580.6 305.44,602 330.72,610.6 356,611" fill="none" stroke="#5a14a8" stroke-width="1.5" stroke-dasharray="4,3" stroke-linejoin="round"/>
<line x1="103.2" y1="674.5" x2="103.2" y2="679.5" stroke="#5a14a8" stroke-width="1"/>
<line x1="100.4" y1="674.5" x2="106" y2="674.5" stroke="#5a14a8" stroke-width="1"/>
<line x1="100.4" y1="679.5" x2="106" y2="679.5" stroke="#5a14a8" stroke-width="1"/>
<rect x="100.9" y="674.9" width="4.6" height="4.2" fill="#5a14a8" stroke="none" stroke-width="1"/>
<line x1="128.48" y1="586.9" x2="128.48" y2="593.9" stroke="#5a14a8" stroke-width="1"/>
<line x1="125.68" y1="586.9" x2="131.28" y2="586.9" stroke="#5a14a8" stroke-width="1"/>
<line x1="125.68" y1="593.9" x2="131.28" y2="593.9" stroke="#5a14a8" stroke-width="1"/>
<rect x="126.18" y="588.3" width="4.6" height="4.2" fill="#5a14a8" stroke="none" stroke-width="1"/>
<line x1="153.76" y1="569.4" x2="153.76" y2="577.4" stroke="#5a14a8" stroke-width="1"/>
<line x1="150.96" y1="569.4" x2="156.56" y2="569.4" stroke="#5a14a8" stroke-width="1"/>
<line x1="150.96" y1="577.4" x2="156.56" y2="577.4" stroke="#5a14a8" stroke-width="1"/>
<rect x="151.46" y="571.3" width="4.6" height="4.2" fill="#5a14a8" stroke="none" stroke-width="1"/>
<line x1="179.04" y1="563.9" x2="179.04" y2="568.9" stroke="#5a14a8" stroke-width="1"/>
<line x1="176.24" y1="563.9" x2="181.84" y2="563.9" stroke="#5a14a8" stroke-width="1"/>
<line x1="176.24" y1="568.9" x2="181.84" y2="568.9" stroke="#5a14a8" stroke-width="1"/>
<rect x="176.74" y="564.3" width="4.6" height="4.2" fill="#5a14a8" stroke="none" stroke-width="1"/>
<line x1="204.32" y1="539" x2="204.32" y2="547" stroke="#5a14a8" stroke-width="1"/>
<line x1="201.52" y1="539" x2="207.12" y2="539" stroke="#5a14a8" stroke-width="1"/>
<line x1="201.52" y1="547" x2="207.12" y2="547" stroke="#5a14a8" stroke-width="1"/>
<rect x="202.02" y="540.9" width="4.6" height="4.2" fill="#5a14a8" stroke="none" stroke-width="1"/>
<line x1="229.6" y1="525.9" x2="229.6" y2="532.9" stroke="#5a14a8" stroke-width="1"/>
<line x1="226.8" y1="525.9" x2="232.4" y2="525.9" stroke="#5a14a8" stroke-width="1"/>
<line x1="226.8" y1="532.9" x2="232.4" y2="532.9" stroke="#5a14a8" stroke-width="1"/>
<rect x="227.3" y="527.3" width="4.6" height="4.2" fill="#5a14a8" stroke="none" stroke-width="1"/>
<line x1="254.88" y1="559.2" x2="254.88" y2="567.2" stroke="#5a14a8" stroke-width="1"/>
<line x1="252.08" y1="559.2" x2="257.68" y2="559.2" stroke="#5a14a8" stroke-width="1"/>
<line x1="252.08" y1="567.2" x2="257.68" y2="567.2" stroke="#5a14a8" stroke-width="1"/>
<rect x="252.58" y="561.1" width="4.6" height="4.2" fill="#5a14a8" stroke="none" stroke-width="1"/>
<line x1="280.16" y1="576.6" x2="280.16" y2="584.6" stroke="#5a14a8" stroke-width="1"/>
<line x1="277.36" y1="576.6" x2="282.96" y2="576.6" stroke="#5a14a8" stroke-width="1"/>
<line x1="277.36" y1="584.6" x2="282.96" y2="584.6" stroke="#5a14a8" stroke-width="1"/>
<rect x="277.86" y="578.5" width="4.6" height="4.2" fill="#5a14a8" stroke="none" stroke-width="1"/>
<line x1="305.44" y1="598.5" x2="305.44" y2="605.5" stroke="#5a14a8" stroke-width="1"/>
<line x1="302.64" y1="598.5" x2="308.24" y2="598.5" stroke="#5a14a8" stroke-width="1"/>
<line x1="302.64" y1="605.5" x2="308.24" y2="605.5" stroke="#5a14a8" stroke-width="1"/>
<rect x="303.14" y="599.9" width="4.6" height="4.2" fill="#5a14a8" stroke="none" stroke-width="1"/>
<line x1="330.72" y1="607.6" x2="330.72" y2="613.6" stroke="#5a14a8" stroke-width="1"/>
<line x1="327.92" y1="607.6" x2="333.52" y2="607.6" stroke="#5a14a8" stroke-width="1"/>
<line x1="327.92" y1="613.6" x2="333.52" y2="613.6" stroke="#5a14a8" stroke-width="1"/>
<rect x="328.42" y="608.5" width="4.6" height="4.2" fill="#5a14a8" stroke="none" stroke-width="1"/>
<line x1="356" y1="608" x2="356" y2="614" stroke="#5a14a8" stroke-width="1"/>
<line x1="353.2" y1="608" x2="358.8" y2="608" stroke="#5a14a8" stroke-width="1"/>
<line x1="353.2" y1="614" x2="358.8" y2="614" stroke="#5a14a8" stroke-width="1"/>
<rect x="353.7" y="608.9" width="4.6" height="4.2" fill="#5a14a8" stroke="none" stroke-width="1"/>
<rect x="78" y="509.6" width="303" height="179.4" fill="none" stroke="#111" stroke-width="1.6"/>
<line x1="78" y1="509.4" x2="81.6" y2="509.4" stroke="#111" stroke-width="1.2"/>
<text x="58.45" y="513.38" font-size="13.6" fill="#111" text-anchor="start" font-weight="bold" textLength="15.13" lengthAdjust="spacingAndGlyphs">80</text>
<line x1="78" y1="549.3" x2="81.6" y2="549.3" stroke="#111" stroke-width="1.2"/>
<text x="58.45" y="553.28" font-size="13.6" fill="#111" text-anchor="start" font-weight="bold" textLength="15.13" lengthAdjust="spacingAndGlyphs">70</text>
<line x1="78" y1="589.2" x2="81.6" y2="589.2" stroke="#111" stroke-width="1.2"/>
<text x="58.45" y="593.18" font-size="13.6" fill="#111" text-anchor="start" font-weight="bold" textLength="15.13" lengthAdjust="spacingAndGlyphs">60</text>
<line x1="78" y1="629.1" x2="81.6" y2="629.1" stroke="#111" stroke-width="1.2"/>
<text x="58.45" y="633.08" font-size="13.6" fill="#111" text-anchor="start" font-weight="bold" textLength="15.13" lengthAdjust="spacingAndGlyphs">50</text>
<line x1="78" y1="669" x2="81.6" y2="669" stroke="#111" stroke-width="1.2"/>
<text x="58.45" y="672.98" font-size="13.6" fill="#111" text-anchor="start" font-weight="bold" textLength="15.13" lengthAdjust="spacingAndGlyphs">40</text>
<line x1="78" y1="529.35" x2="80.2" y2="529.35" stroke="#111" stroke-width="1.1"/>
<line x1="78" y1="569.25" x2="80.2" y2="569.25" stroke="#111" stroke-width="1.1"/>
<line x1="78" y1="609.15" x2="80.2" y2="609.15" stroke="#111" stroke-width="1.1"/>
<line x1="78" y1="649.05" x2="80.2" y2="649.05" stroke="#111" stroke-width="1.1"/>
<line x1="103.2" y1="689" x2="103.2" y2="685.5" stroke="#111" stroke-width="1.2"/>
<text x="94.09" y="703.33" font-size="12.6" fill="#111" text-anchor="start" font-weight="bold" textLength="18.22" lengthAdjust="spacingAndGlyphs">0.0</text>
<line x1="128.48" y1="689" x2="128.48" y2="687" stroke="#111" stroke-width="1.2"/>
<line x1="153.76" y1="689" x2="153.76" y2="685.5" stroke="#111" stroke-width="1.2"/>
<text x="144.65" y="703.33" font-size="12.6" fill="#111" text-anchor="start" font-weight="bold" textLength="18.22" lengthAdjust="spacingAndGlyphs">0.2</text>
<line x1="179.04" y1="689" x2="179.04" y2="687" stroke="#111" stroke-width="1.2"/>
<line x1="204.32" y1="689" x2="204.32" y2="685.5" stroke="#111" stroke-width="1.2"/>
<text x="194.98" y="703.33" font-size="12.6" fill="#111" text-anchor="start" font-weight="bold" textLength="18.22" lengthAdjust="spacingAndGlyphs">0.4</text>
<line x1="229.6" y1="689" x2="229.6" y2="687" stroke="#111" stroke-width="1.2"/>
<line x1="254.88" y1="689" x2="254.88" y2="685.5" stroke="#111" stroke-width="1.2"/>
<text x="245.74" y="703.33" font-size="12.6" fill="#111" text-anchor="start" font-weight="bold" textLength="18.22" lengthAdjust="spacingAndGlyphs">0.6</text>
<line x1="280.16" y1="689" x2="280.16" y2="687" stroke="#111" stroke-width="1.2"/>
<line x1="305.44" y1="689" x2="305.44" y2="685.5" stroke="#111" stroke-width="1.2"/>
<text x="296.27" y="703.33" font-size="12.6" fill="#111" text-anchor="start" font-weight="bold" textLength="18.22" lengthAdjust="spacingAndGlyphs">0.8</text>
<line x1="330.72" y1="689" x2="330.72" y2="687" stroke="#111" stroke-width="1.2"/>
<line x1="356" y1="689" x2="356" y2="685.5" stroke="#111" stroke-width="1.2"/>
<text x="346.75" y="703.33" font-size="12.6" fill="#111" text-anchor="start" font-weight="bold" textLength="18.22" lengthAdjust="spacingAndGlyphs">1.0</text>
<text x="169.03" y="724.06" font-size="16.09" fill="#111" text-anchor="start" font-weight="bold" textLength="121.57" lengthAdjust="spacingAndGlyphs">Pressure (kPa)</text>
<text transform="translate(43.49 679.22) rotate(-90)" x="0" y="0" font-size="14.61" fill="#111" font-weight="bold" textLength="155.75" lengthAdjust="spacingAndGlyphs">Output charge (nC)</text>
<text x="13.39" y="500.93" font-size="17.69" fill="#111" text-anchor="start" font-weight="bold" textLength="25.81" lengthAdjust="spacingAndGlyphs">(d)</text>
<ellipse cx="230" cy="531.8" rx="14" ry="12.7" fill="none" stroke="#2a9a9a" stroke-width="1.1"/>
<text x="252.8" y="531.9" font-size="12.07" fill="#2a9a9a" text-anchor="start" font-weight="bold" textLength="42.93" lengthAdjust="spacingAndGlyphs">0.5 kPa</text>
<path d="M231.6,552.4 C232.5,565 230,577 223.5,584" fill="none" stroke="#2a9a9a" stroke-width="1.1"/>
<path d="M221.5,586 L222.2,580.2 L226.4,583.2 Z" fill="#2a9a9a"/>
<rect x="158.4" y="600.2" width="132" height="66" fill="#fff" stroke="none" stroke-width="1"/>
<path d="M167.68,661.4 L167.68,608.96 L170.68,610.07 L170.68,661.4 Z" fill="#b0e2e4" stroke="none"/>
<line x1="167.68" y1="661.4" x2="167.68" y2="608.96" stroke="#3a8a8c" stroke-width="1.2"/>
<line x1="170.68" y1="610.07" x2="170.68" y2="661.4" stroke="#5aa6aa" stroke-width="1"/>
<line x1="167.68" y1="608.96" x2="170.68" y2="610.07" stroke="#4a9a9c" stroke-width="0.8"/>
<path d="M172.58,661.4 L172.58,607.39 L175.58,608.5 L175.58,661.4 Z" fill="#b0e2e4" stroke="none"/>
<line x1="172.58" y1="661.4" x2="172.58" y2="607.39" stroke="#3a8a8c" stroke-width="1.2"/>
<line x1="175.58" y1="608.5" x2="175.58" y2="661.4" stroke="#5aa6aa" stroke-width="1"/>
<line x1="172.58" y1="607.39" x2="175.58" y2="608.5" stroke="#4a9a9c" stroke-width="0.8"/>
<path d="M177.4,661.4 L177.4,607.94 L180.4,609.05 L180.4,661.4 Z" fill="#b0e2e4" stroke="none"/>
<line x1="177.4" y1="661.4" x2="177.4" y2="607.94" stroke="#3a8a8c" stroke-width="1.2"/>
<line x1="180.4" y1="609.05" x2="180.4" y2="661.4" stroke="#5aa6aa" stroke-width="1"/>
<line x1="177.4" y1="607.94" x2="180.4" y2="609.05" stroke="#4a9a9c" stroke-width="0.8"/>
<path d="M182.52,661.4 L182.52,610.23 L185.52,611.34 L185.52,661.4 Z" fill="#b0e2e4" stroke="none"/>
<line x1="182.52" y1="661.4" x2="182.52" y2="610.23" stroke="#3a8a8c" stroke-width="1.2"/>
<line x1="185.52" y1="611.34" x2="185.52" y2="661.4" stroke="#5aa6aa" stroke-width="1"/>
<line x1="182.52" y1="610.23" x2="185.52" y2="611.34" stroke="#4a9a9c" stroke-width="0.8"/>
<path d="M187.77,661.4 L187.77,610.33 L190.77,611.44 L190.77,661.4 Z" fill="#b0e2e4" stroke="none"/>
<line x1="187.77" y1="661.4" x2="187.77" y2="610.33" stroke="#3a8a8c" stroke-width="1.2"/>
<line x1="190.77" y1="611.44" x2="190.77" y2="661.4" stroke="#5aa6aa" stroke-width="1"/>
<line x1="187.77" y1="610.33" x2="190.77" y2="611.44" stroke="#4a9a9c" stroke-width="0.8"/>
<path d="M192.95,661.4 L192.95,610.18 L195.95,611.28 L195.95,661.4 Z" fill="#b0e2e4" stroke="none"/>
<line x1="192.95" y1="661.4" x2="192.95" y2="610.18" stroke="#3a8a8c" stroke-width="1.2"/>
<line x1="195.95" y1="611.28" x2="195.95" y2="661.4" stroke="#5aa6aa" stroke-width="1"/>
<line x1="192.95" y1="610.18" x2="195.95" y2="611.28" stroke="#4a9a9c" stroke-width="0.8"/>
<path d="M197.79,661.4 L197.79,608.48 L200.79,609.58 L200.79,661.4 Z" fill="#b0e2e4" stroke="none"/>
<line x1="197.79" y1="661.4" x2="197.79" y2="608.48" stroke="#3a8a8c" stroke-width="1.2"/>
<line x1="200.79" y1="609.58" x2="200.79" y2="661.4" stroke="#5aa6aa" stroke-width="1"/>
<line x1="197.79" y1="608.48" x2="200.79" y2="609.58" stroke="#4a9a9c" stroke-width="0.8"/>
<path d="M203.36,661.4 L203.36,609.92 L206.36,611.03 L206.36,661.4 Z" fill="#b0e2e4" stroke="none"/>
<line x1="203.36" y1="661.4" x2="203.36" y2="609.92" stroke="#3a8a8c" stroke-width="1.2"/>
<line x1="206.36" y1="611.03" x2="206.36" y2="661.4" stroke="#5aa6aa" stroke-width="1"/>
<line x1="203.36" y1="609.92" x2="206.36" y2="611.03" stroke="#4a9a9c" stroke-width="0.8"/>
<path d="M208.33,661.4 L208.33,607.5 L211.33,608.61 L211.33,661.4 Z" fill="#b0e2e4" stroke="none"/>
<line x1="208.33" y1="661.4" x2="208.33" y2="607.5" stroke="#3a8a8c" stroke-width="1.2"/>
<line x1="211.33" y1="608.61" x2="211.33" y2="661.4" stroke="#5aa6aa" stroke-width="1"/>
<line x1="208.33" y1="607.5" x2="211.33" y2="608.61" stroke="#4a9a9c" stroke-width="0.8"/>
<path d="M214.03,661.4 L214.03,607.75 L217.03,608.85 L217.03,661.4 Z" fill="#b0e2e4" stroke="none"/>
<line x1="214.03" y1="661.4" x2="214.03" y2="607.75" stroke="#3a8a8c" stroke-width="1.2"/>
<line x1="217.03" y1="608.85" x2="217.03" y2="661.4" stroke="#5aa6aa" stroke-width="1"/>
<line x1="214.03" y1="607.75" x2="217.03" y2="608.85" stroke="#4a9a9c" stroke-width="0.8"/>
<path d="M219.17,661.4 L219.17,605.83 L222.17,606.94 L222.17,661.4 Z" fill="#b0e2e4" stroke="none"/>
<line x1="219.17" y1="661.4" x2="219.17" y2="605.83" stroke="#3a8a8c" stroke-width="1.2"/>
<line x1="222.17" y1="606.94" x2="222.17" y2="661.4" stroke="#5aa6aa" stroke-width="1"/>
<line x1="219.17" y1="605.83" x2="222.17" y2="606.94" stroke="#4a9a9c" stroke-width="0.8"/>
<path d="M223.97,661.4 L223.97,606.4 L226.97,607.5 L226.97,661.4 Z" fill="#b0e2e4" stroke="none"/>
<line x1="223.97" y1="661.4" x2="223.97" y2="606.4" stroke="#3a8a8c" stroke-width="1.2"/>
<line x1="226.97" y1="607.5" x2="226.97" y2="661.4" stroke="#5aa6aa" stroke-width="1"/>
<line x1="223.97" y1="606.4" x2="226.97" y2="607.5" stroke="#4a9a9c" stroke-width="0.8"/>
<path d="M229,661.4 L229,609.82 L232,610.93 L232,661.4 Z" fill="#b0e2e4" stroke="none"/>
<line x1="229" y1="661.4" x2="229" y2="609.82" stroke="#3a8a8c" stroke-width="1.2"/>
<line x1="232" y1="610.93" x2="232" y2="661.4" stroke="#5aa6aa" stroke-width="1"/>
<line x1="229" y1="609.82" x2="232" y2="610.93" stroke="#4a9a9c" stroke-width="0.8"/>
<path d="M233.87,661.4 L233.87,609.03 L236.87,610.14 L236.87,661.4 Z" fill="#b0e2e4" stroke="none"/>
<line x1="233.87" y1="661.4" x2="233.87" y2="609.03" stroke="#3a8a8c" stroke-width="1.2"/>
<line x1="236.87" y1="610.14" x2="236.87" y2="661.4" stroke="#5aa6aa" stroke-width="1"/>
<line x1="233.87" y1="609.03" x2="236.87" y2="610.14" stroke="#4a9a9c" stroke-width="0.8"/>
<path d="M239.43,661.4 L239.43,609.65 L242.43,610.75 L242.43,661.4 Z" fill="#b0e2e4" stroke="none"/>
<line x1="239.43" y1="661.4" x2="239.43" y2="609.65" stroke="#3a8a8c" stroke-width="1.2"/>
<line x1="242.43" y1="610.75" x2="242.43" y2="661.4" stroke="#5aa6aa" stroke-width="1"/>
<line x1="239.43" y1="609.65" x2="242.43" y2="610.75" stroke="#4a9a9c" stroke-width="0.8"/>
<path d="M244.76,661.4 L244.76,607.45 L247.76,608.56 L247.76,661.4 Z" fill="#b0e2e4" stroke="none"/>
<line x1="244.76" y1="661.4" x2="244.76" y2="607.45" stroke="#3a8a8c" stroke-width="1.2"/>
<line x1="247.76" y1="608.56" x2="247.76" y2="661.4" stroke="#5aa6aa" stroke-width="1"/>
<line x1="244.76" y1="607.45" x2="247.76" y2="608.56" stroke="#4a9a9c" stroke-width="0.8"/>
<path d="M249.88,661.4 L249.88,607.89 L252.88,608.99 L252.88,661.4 Z" fill="#b0e2e4" stroke="none"/>
<line x1="249.88" y1="661.4" x2="249.88" y2="607.89" stroke="#3a8a8c" stroke-width="1.2"/>
<line x1="252.88" y1="608.99" x2="252.88" y2="661.4" stroke="#5aa6aa" stroke-width="1"/>
<line x1="249.88" y1="607.89" x2="252.88" y2="608.99" stroke="#4a9a9c" stroke-width="0.8"/>
<path d="M254.69,661.4 L254.69,610.23 L257.69,611.33 L257.69,661.4 Z" fill="#b0e2e4" stroke="none"/>
<line x1="254.69" y1="661.4" x2="254.69" y2="610.23" stroke="#3a8a8c" stroke-width="1.2"/>
<line x1="257.69" y1="611.33" x2="257.69" y2="661.4" stroke="#5aa6aa" stroke-width="1"/>
<line x1="254.69" y1="610.23" x2="257.69" y2="611.33" stroke="#4a9a9c" stroke-width="0.8"/>
<path d="M259.65,661.4 L259.65,607.25 L262.65,608.36 L262.65,661.4 Z" fill="#b0e2e4" stroke="none"/>
<line x1="259.65" y1="661.4" x2="259.65" y2="607.25" stroke="#3a8a8c" stroke-width="1.2"/>
<line x1="262.65" y1="608.36" x2="262.65" y2="661.4" stroke="#5aa6aa" stroke-width="1"/>
<line x1="259.65" y1="607.25" x2="262.65" y2="608.36" stroke="#4a9a9c" stroke-width="0.8"/>
<path d="M264.82,661.4 L264.82,609.01 L267.82,610.11 L267.82,661.4 Z" fill="#b0e2e4" stroke="none"/>
<line x1="264.82" y1="661.4" x2="264.82" y2="609.01" stroke="#3a8a8c" stroke-width="1.2"/>
<line x1="267.82" y1="610.11" x2="267.82" y2="661.4" stroke="#5aa6aa" stroke-width="1"/>
<line x1="264.82" y1="609.01" x2="267.82" y2="610.11" stroke="#4a9a9c" stroke-width="0.8"/>
<path d="M270.15,661.4 L270.15,608.34 L273.15,609.45 L273.15,661.4 Z" fill="#b0e2e4" stroke="none"/>
<line x1="270.15" y1="661.4" x2="270.15" y2="608.34" stroke="#3a8a8c" stroke-width="1.2"/>
<line x1="273.15" y1="609.45" x2="273.15" y2="661.4" stroke="#5aa6aa" stroke-width="1"/>
<line x1="270.15" y1="608.34" x2="273.15" y2="609.45" stroke="#4a9a9c" stroke-width="0.8"/>
<path d="M275.2,661.4 L275.2,606.7 L278.2,607.81 L278.2,661.4 Z" fill="#b0e2e4" stroke="none"/>
<line x1="275.2" y1="661.4" x2="275.2" y2="606.7" stroke="#3a8a8c" stroke-width="1.2"/>
<line x1="278.2" y1="607.81" x2="278.2" y2="661.4" stroke="#5aa6aa" stroke-width="1"/>
<line x1="275.2" y1="606.7" x2="278.2" y2="607.81" stroke="#4a9a9c" stroke-width="0.8"/>
<line x1="165" y1="661.4" x2="281.43" y2="661.4" stroke="#6ab4b4" stroke-width="0.9"/>
<rect x="158.4" y="600.2" width="132" height="66" fill="none" stroke="#222" stroke-width="1"/>
<line x1="158.4" y1="661.4" x2="160.6" y2="661.4" stroke="#222" stroke-width="0.9"/>
<text x="156.4" y="664.3" font-size="8.2" fill="#222" text-anchor="end" font-weight="bold">0</text>
<line x1="158.4" y1="646.65" x2="160.6" y2="646.65" stroke="#222" stroke-width="0.9"/>
<text x="156.4" y="649.55" font-size="8.2" fill="#222" text-anchor="end" font-weight="bold">20</text>
<line x1="158.4" y1="631.9" x2="160.6" y2="631.9" stroke="#222" stroke-width="0.9"/>
<text x="156.4" y="634.8" font-size="8.2" fill="#222" text-anchor="end" font-weight="bold">40</text>
<line x1="158.4" y1="617.15" x2="160.6" y2="617.15" stroke="#222" stroke-width="0.9"/>
<text x="156.4" y="620.05" font-size="8.2" fill="#222" text-anchor="end" font-weight="bold">60</text>
<line x1="158.4" y1="602.4" x2="160.6" y2="602.4" stroke="#222" stroke-width="0.9"/>
<text x="156.4" y="605.3" font-size="8.2" fill="#222" text-anchor="end" font-weight="bold">80</text>
<line x1="158.4" y1="654.02" x2="159.7" y2="654.02" stroke="#222" stroke-width="0.8"/>
<line x1="158.4" y1="639.27" x2="159.7" y2="639.27" stroke="#222" stroke-width="0.8"/>
<line x1="158.4" y1="624.52" x2="159.7" y2="624.52" stroke="#222" stroke-width="0.8"/>
<line x1="158.4" y1="609.77" x2="159.7" y2="609.77" stroke="#222" stroke-width="0.8"/>
<line x1="165" y1="666.2" x2="165" y2="664" stroke="#222" stroke-width="0.9"/>
<text x="165" y="674" font-size="8.2" fill="#222" text-anchor="middle" font-weight="bold">0</text>
<line x1="172.66" y1="666.2" x2="172.66" y2="664.9" stroke="#222" stroke-width="0.9"/>
<line x1="180.32" y1="666.2" x2="180.32" y2="664" stroke="#222" stroke-width="0.9"/>
<text x="180.32" y="674" font-size="8.2" fill="#222" text-anchor="middle" font-weight="bold">2</text>
<line x1="187.98" y1="666.2" x2="187.98" y2="664.9" stroke="#222" stroke-width="0.9"/>
<line x1="195.64" y1="666.2" x2="195.64" y2="664" stroke="#222" stroke-width="0.9"/>
<text x="195.64" y="674" font-size="8.2" fill="#222" text-anchor="middle" font-weight="bold">4</text>
<line x1="203.3" y1="666.2" x2="203.3" y2="664.9" stroke="#222" stroke-width="0.9"/>
<line x1="210.96" y1="666.2" x2="210.96" y2="664" stroke="#222" stroke-width="0.9"/>
<text x="210.96" y="674" font-size="8.2" fill="#222" text-anchor="middle" font-weight="bold">6</text>
<line x1="218.62" y1="666.2" x2="218.62" y2="664.9" stroke="#222" stroke-width="0.9"/>
<line x1="226.28" y1="666.2" x2="226.28" y2="664" stroke="#222" stroke-width="0.9"/>
<text x="226.28" y="674" font-size="8.2" fill="#222" text-anchor="middle" font-weight="bold">8</text>
<line x1="233.94" y1="666.2" x2="233.94" y2="664.9" stroke="#222" stroke-width="0.9"/>
<line x1="241.6" y1="666.2" x2="241.6" y2="664" stroke="#222" stroke-width="0.9"/>
<text x="241.6" y="674" font-size="8.2" fill="#222" text-anchor="middle" font-weight="bold">10</text>
<line x1="249.26" y1="666.2" x2="249.26" y2="664.9" stroke="#222" stroke-width="0.9"/>
<line x1="256.92" y1="666.2" x2="256.92" y2="664" stroke="#222" stroke-width="0.9"/>
<text x="256.92" y="674" font-size="8.2" fill="#222" text-anchor="middle" font-weight="bold">12</text>
<line x1="264.58" y1="666.2" x2="264.58" y2="664.9" stroke="#222" stroke-width="0.9"/>
<line x1="272.24" y1="666.2" x2="272.24" y2="664" stroke="#222" stroke-width="0.9"/>
<text x="272.24" y="674" font-size="8.2" fill="#222" text-anchor="middle" font-weight="bold">14</text>
<line x1="279.9" y1="666.2" x2="279.9" y2="664.9" stroke="#222" stroke-width="0.9"/>
<line x1="287.56" y1="666.2" x2="287.56" y2="664" stroke="#222" stroke-width="0.9"/>
<text x="287.56" y="674" font-size="8.2" fill="#222" text-anchor="middle" font-weight="bold">16</text>
<text x="224.3" y="683.6" font-size="8.6" fill="#222" text-anchor="middle" font-weight="bold" textLength="32.5" lengthAdjust="spacingAndGlyphs">Time (s)</text>
<text transform="translate(142.3 630.4) rotate(-90)" x="0" y="0" font-size="8.8" fill="#222" text-anchor="middle" font-weight="bold" textLength="48.4" lengthAdjust="spacingAndGlyphs">Charge (nC)</text>
<polyline points="511.8,675.3 514.27,675.26 516.75,675.22 519.22,675.19 521.69,675.16 524.16,675.13 526.64,675.1 529.11,675.07 531.58,675.04 534.06,675 536.53,674.96 539,674.91 541.47,674.85 543.95,674.78 546.42,674.7 548.15,674.61 549.88,674.47 551.61,674.27 553.33,674.02 555.06,673.72 556.79,673.38 558.52,672.99 560.25,672.56 561.98,672.08 563.7,671.58 565.43,671.04 567.16,670.46 568.89,669.86 570.62,669.23 571.36,668.93 572.11,668.59 572.85,668.21 573.6,667.79 574.34,667.33 575.08,666.83 575.83,666.3 576.57,665.73 577.32,665.12 578.06,664.49 578.81,663.82 579.55,663.12 580.3,662.38 581.04,661.62 582.77,659.64 584.5,657.27 586.23,654.55 587.95,651.49 589.68,648.09 591.41,644.38 593.14,640.37 594.87,636.07 596.6,631.5 598.32,626.68 600.05,621.61 601.78,616.31 603.51,610.8 605.24,605.09 605.98,602.33 606.73,599.1 607.47,595.48 608.22,591.55 608.96,587.38 609.7,583.07 610.45,578.67 611.19,574.28 611.94,569.98 612.68,565.83 613.43,561.92 614.17,558.34 614.92,555.14 615.66,552.43 616.77,548.74 617.89,545.01 619,541.31 620.11,537.68 621.22,534.16 622.34,530.81 623.45,527.67 624.56,524.79 625.68,522.22 626.79,520.01 627.9,518.21 629.01,516.86 630.13,516.02 631.24,515.73 631.85,515.82 632.47,516.07 633.09,516.48 633.7,517.03 634.32,517.7 634.93,518.48 635.55,519.35 636.16,520.3 636.78,521.32 637.4,522.39 638.01,523.5 638.63,524.63 639.24,525.77 639.86,526.9 640.6,528.39 641.35,530.13 642.09,532.1 642.84,534.26 643.58,536.58 644.32,539.05 645.07,541.62 645.81,544.28 646.56,546.99 647.3,549.73 648.05,552.47 648.79,555.19 649.54,557.84 650.28,560.41 652.01,566.52 653.74,573.1 655.47,580.02 657.19,587.19 658.92,594.5 660.65,601.82 662.38,609.07 664.11,616.11 665.84,622.86 667.56,629.19 669.29,634.99 671.02,640.16 672.75,644.59 674.48,648.17 675.22,649.49 675.97,650.77 676.71,651.99 677.46,653.17 678.2,654.3 678.94,655.37 679.69,656.38 680.43,657.34 681.18,658.24 681.92,659.07 682.67,659.84 683.41,660.54 684.16,661.17 684.9,661.74 686.63,662.92 688.36,664.03 690.09,665.07 691.81,666.04 693.54,666.95 695.27,667.79 697,668.57 698.73,669.29 700.46,669.95 702.18,670.55 703.91,671.1 705.64,671.59 707.37,672.03 709.1,672.43 709.84,672.58 710.59,672.72 711.33,672.85 712.08,672.98 712.82,673.09 713.56,673.2 714.31,673.3 715.05,673.41 715.8,673.51 716.54,673.6 717.29,673.7 718.03,673.81 718.78,673.91 719.52,674.02" fill="none" stroke="#505050" stroke-width="1.3" stroke-linejoin="round"/>
<polyline points="511.8,675.3 514.27,675.22 516.75,675.15 519.22,675.08 521.69,675.02 524.16,674.96 526.64,674.9 529.11,674.84 531.58,674.77 534.06,674.69 536.53,674.6 539,674.5 541.47,674.38 543.95,674.25 546.42,674.09 548.15,673.91 549.88,673.62 551.61,673.22 553.33,672.71 555.06,672.11 556.79,671.41 558.52,670.62 560.25,669.75 561.98,668.8 563.7,667.77 565.43,666.67 567.16,665.51 568.89,664.3 570.62,663.02 571.36,662.42 572.11,661.72 572.85,660.94 573.6,660.08 574.34,659.13 575.08,658.11 575.83,657.02 576.57,655.86 577.32,654.63 578.06,653.34 578.81,652 579.55,650.59 580.3,649.14 581.04,647.63 582.77,643.71 584.5,639.08 586.23,633.77 587.95,627.86 589.68,621.39 591.41,614.42 593.14,606.99 594.87,599.16 596.6,590.99 598.32,582.53 600.05,573.83 601.78,564.94 603.51,555.91 605.24,546.81 605.98,542.61 606.73,537.95 607.47,532.91 608.22,527.58 608.96,522.04 609.7,516.39 610.45,510.71 611.19,505.1 611.94,499.63 612.68,494.4 613.43,489.5 614.17,485.01 614.92,481.02 615.66,477.62 616.9,472.5 618.13,467.38 619.37,462.33 620.61,457.4 621.84,452.66 623.08,448.17 624.32,443.97 625.55,440.15 626.79,436.75 628.02,433.83 629.26,431.46 630.5,429.69 631.73,428.58 632.97,428.2 633.46,428.27 633.95,428.48 634.45,428.82 634.94,429.28 635.43,429.84 635.92,430.49 636.41,431.22 636.91,432.01 637.4,432.87 637.89,433.77 638.38,434.7 638.87,435.66 639.37,436.62 639.86,437.59 640.6,439.19 641.35,441.09 642.09,443.25 642.84,445.66 643.58,448.28 644.32,451.1 645.07,454.08 645.81,457.21 646.56,460.45 647.3,463.8 648.05,467.21 648.79,470.67 649.54,474.14 650.28,477.62 652.01,486.5 653.74,496.85 655.47,508.39 657.19,520.85 658.92,533.93 660.65,547.36 662.38,560.85 664.11,574.12 665.84,586.89 667.56,598.87 669.29,609.79 671.02,619.35 672.75,627.28 674.48,633.29 675.22,635.39 675.97,637.4 676.71,639.32 677.46,641.15 678.2,642.9 678.94,644.55 679.69,646.11 680.43,647.57 681.18,648.94 681.92,650.22 682.67,651.39 683.41,652.46 684.16,653.43 684.9,654.3 686.63,656.13 688.36,657.85 690.09,659.46 691.81,660.97 693.54,662.37 695.27,663.67 697,664.88 698.73,665.99 700.46,667.01 702.18,667.95 703.91,668.79 705.64,669.56 707.37,670.24 709.1,670.85 709.84,671.09 710.59,671.31 711.33,671.51 712.08,671.7 712.82,671.88 713.56,672.05 714.31,672.21 715.05,672.37 715.8,672.52 716.54,672.67 717.29,672.83 718.03,672.99 718.78,673.15 719.52,673.32" fill="none" stroke="#7ab040" stroke-width="1.3" stroke-linejoin="round"/>
<polyline points="511.8,675.3 514.27,675.2 516.75,675.11 519.22,675.02 521.69,674.95 524.16,674.87 526.64,674.79 529.11,674.71 531.58,674.63 534.06,674.53 536.53,674.41 539,674.28 541.47,674.13 543.95,673.96 546.42,673.76 548.15,673.53 549.88,673.16 551.61,672.65 553.33,672.01 555.06,671.24 556.79,670.35 558.52,669.34 560.25,668.23 561.98,667.02 563.7,665.71 565.43,664.32 567.16,662.84 568.89,661.29 570.62,659.67 571.36,658.9 572.11,658.01 572.85,657.01 573.6,655.9 574.34,654.69 575.08,653.39 575.83,651.99 576.57,650.5 577.32,648.94 578.06,647.3 578.81,645.59 579.55,643.81 580.3,641.97 581.04,640.08 582.77,635.14 584.5,629.29 586.23,622.61 587.95,615.19 589.68,607.12 591.41,598.47 593.14,589.34 594.87,579.8 596.6,569.94 598.32,559.85 600.05,549.61 601.78,539.3 603.51,529.01 605.24,518.83 605.98,514.27 606.73,509.35 607.47,504.15 608.22,498.73 608.96,493.18 609.7,487.55 610.45,481.94 611.19,476.4 611.94,471.02 612.68,465.86 613.43,461.01 614.17,456.52 614.92,452.49 615.66,448.97 616.9,443.57 618.13,438.14 619.37,432.76 620.61,427.49 621.84,422.4 623.08,417.56 624.32,413.03 625.55,408.89 626.79,405.2 628.02,402.02 629.26,399.44 630.5,397.51 631.73,396.3 632.97,395.88 633.46,395.92 633.95,396.05 634.45,396.26 634.94,396.54 635.43,396.89 635.92,397.3 636.41,397.76 636.91,398.27 637.4,398.82 637.89,399.41 638.38,400.04 638.87,400.68 639.37,401.35 639.86,402.03 640.6,403.26 641.35,404.87 642.09,406.82 642.84,409.08 643.58,411.63 644.32,414.42 645.07,417.44 645.81,420.63 646.56,423.99 647.3,427.47 648.05,431.04 648.79,434.67 649.54,438.33 650.28,441.98 652.01,451.62 653.74,463.33 655.47,476.74 657.19,491.47 658.92,507.14 660.65,523.38 662.38,539.79 664.11,556 665.84,571.63 667.56,586.3 669.29,599.64 671.02,611.25 672.75,620.76 674.48,627.8 675.22,630.19 675.97,632.48 676.71,634.66 677.46,636.74 678.2,638.71 678.94,640.58 679.69,642.34 680.43,643.99 681.18,645.53 681.92,646.96 682.67,648.27 683.41,649.48 684.16,650.57 684.9,651.55 686.63,653.62 688.36,655.57 690.09,657.39 691.81,659.09 693.54,660.68 695.27,662.15 697,663.52 698.73,664.77 700.46,665.93 702.18,666.98 703.91,667.94 705.64,668.81 707.37,669.58 709.1,670.27 709.84,670.54 710.59,670.79 711.33,671.02 712.08,671.23 712.82,671.43 713.56,671.62 714.31,671.81 715.05,671.98 715.8,672.16 716.54,672.33 717.29,672.51 718.03,672.68 718.78,672.87 719.52,673.06" fill="none" stroke="#c86a3c" stroke-width="1.3" stroke-linejoin="round"/>
<polyline points="511.8,675.3 514.27,675.19 516.75,675.08 519.22,674.99 521.69,674.91 524.16,674.82 526.64,674.74 529.11,674.65 531.58,674.55 534.06,674.44 536.53,674.32 539,674.18 541.47,674.01 543.95,673.82 546.42,673.59 548.15,673.34 549.88,672.93 551.61,672.37 553.33,671.65 555.06,670.8 556.79,669.81 558.52,668.7 560.25,667.47 561.98,666.13 563.7,664.68 565.43,663.14 567.16,661.5 568.89,659.79 570.62,657.99 571.36,657.14 572.11,656.15 572.85,655.05 573.6,653.82 574.34,652.49 575.08,651.04 575.83,649.5 576.57,647.85 577.32,646.12 578.06,644.31 578.81,642.41 579.55,640.44 580.3,638.4 581.04,636.3 582.77,630.9 584.5,624.64 586.23,617.56 587.95,609.72 589.68,601.17 591.41,591.95 593.14,582.11 594.87,571.71 596.6,560.79 598.32,549.4 600.05,537.59 601.78,525.41 603.51,512.91 605.24,500.14 605.98,494.06 606.73,487.03 607.47,479.25 608.22,470.9 608.96,462.16 609.7,453.23 610.45,444.27 611.19,435.48 611.94,427.05 612.68,419.15 613.43,411.98 614.17,405.71 614.92,400.54 615.66,396.64 616.75,392.03 617.84,387.57 618.92,383.28 620.01,379.21 621.1,375.38 622.19,371.82 623.28,368.56 624.36,365.63 625.45,363.07 626.54,360.91 627.63,359.17 628.72,357.89 629.8,357.1 630.89,356.83 631.53,356.92 632.17,357.19 632.81,357.61 633.45,358.18 634.09,358.89 634.74,359.71 635.38,360.64 636.02,361.66 636.66,362.76 637.3,363.92 637.94,365.13 638.58,366.38 639.22,367.65 639.86,368.93 640.6,370.57 641.35,372.49 642.09,374.67 642.84,377.11 643.58,379.77 644.32,382.64 645.07,385.71 645.81,388.95 646.56,392.34 647.3,395.87 648.05,399.51 648.79,403.26 649.54,407.08 650.28,410.97 652.01,421.44 653.74,434.38 655.47,449.35 657.19,465.91 658.92,483.61 660.65,502.01 662.38,520.67 664.11,539.14 665.84,556.98 667.56,573.74 669.29,588.98 671.02,602.26 672.75,613.14 674.48,621.16 675.22,623.88 675.97,626.48 676.71,628.97 677.46,631.34 678.2,633.59 678.94,635.72 679.69,637.72 680.43,639.6 681.18,641.36 681.92,642.99 682.67,644.49 683.41,645.87 684.16,647.12 684.9,648.23 686.63,650.59 688.36,652.81 690.09,654.89 691.81,656.83 693.54,658.64 695.27,660.32 697,661.87 698.73,663.3 700.46,664.62 702.18,665.82 703.91,666.91 705.64,667.9 707.37,668.78 709.1,669.57 709.84,669.87 710.59,670.15 711.33,670.42 712.08,670.66 712.82,670.89 713.56,671.11 714.31,671.32 715.05,671.52 715.8,671.72 716.54,671.92 717.29,672.12 718.03,672.32 718.78,672.53 719.52,672.75" fill="none" stroke="#6418a8" stroke-width="1.3" stroke-linejoin="round"/>
<polyline points="511.8,675.3 514.27,675.15 516.75,675.02 519.22,674.9 521.69,674.79 524.16,674.68 526.64,674.57 529.11,674.46 531.58,674.33 534.06,674.19 536.53,674.02 539,673.84 541.47,673.62 543.95,673.37 546.42,673.08 548.15,672.76 549.88,672.22 551.61,671.49 553.33,670.56 555.06,669.45 556.79,668.17 558.52,666.72 560.25,665.12 561.98,663.38 563.7,661.5 565.43,659.49 567.16,657.36 568.89,655.13 570.62,652.8 571.36,651.69 572.11,650.4 572.85,648.95 573.6,647.35 574.34,645.59 575.08,643.7 575.83,641.68 576.57,639.54 577.32,637.28 578.06,634.92 578.81,632.46 579.55,629.92 580.3,627.29 581.04,624.59 582.77,617.61 584.5,609.4 586.23,600.09 587.95,589.8 589.68,578.65 591.41,566.76 593.14,554.24 594.87,541.22 596.6,527.81 598.32,514.14 600.05,500.32 601.78,486.47 603.51,472.72 605.24,459.17 605.98,453.14 606.73,446.66 607.47,439.82 608.22,432.72 608.96,425.47 609.7,418.15 610.45,410.87 611.19,403.72 611.94,396.8 612.68,390.22 613.43,384.06 614.17,378.42 614.92,373.41 615.66,369.12 616.72,363.53 617.79,357.94 618.85,352.42 619.91,347.04 620.98,341.86 622.04,336.94 623.1,332.35 624.17,328.17 625.23,324.44 626.29,321.25 627.36,318.65 628.42,316.71 629.48,315.5 630.55,315.08 631.21,315.22 631.88,315.61 632.54,316.23 633.21,317.06 633.87,318.09 634.54,319.29 635.2,320.65 635.87,322.14 636.53,323.74 637.2,325.43 637.86,327.2 638.53,329.02 639.19,330.87 639.86,332.74 640.6,335.05 641.35,337.79 642.09,340.92 642.84,344.4 643.58,348.21 644.32,352.29 645.07,356.63 645.81,361.16 646.56,365.88 647.3,370.72 648.05,375.67 648.79,380.68 649.54,385.71 650.28,390.73 652.01,403.53 653.74,418.41 655.47,434.98 657.19,452.83 658.92,471.57 660.65,490.8 662.38,510.11 664.11,529.11 665.84,547.39 667.56,564.56 669.29,580.21 671.02,593.94 672.75,605.36 674.48,614.06 675.22,617.11 675.97,620.03 676.71,622.83 677.46,625.5 678.2,628.04 678.94,630.45 679.69,632.73 680.43,634.87 681.18,636.87 681.92,638.73 682.67,640.44 683.41,642 684.16,643.42 684.9,644.68 686.63,647.35 688.36,649.86 690.09,652.21 691.81,654.41 693.54,656.45 695.27,658.35 697,660.11 698.73,661.73 700.46,663.22 702.18,664.58 703.91,665.81 705.64,666.93 707.37,667.93 709.1,668.82 709.84,669.16 710.59,669.48 711.33,669.78 712.08,670.05 712.82,670.31 713.56,670.56 714.31,670.8 715.05,671.02 715.8,671.25 716.54,671.47 717.29,671.7 718.03,671.93 718.78,672.17 719.52,672.42" fill="none" stroke="#c09a38" stroke-width="1.3" stroke-linejoin="round"/>
<polyline points="511.8,675.3 514.27,675.12 516.75,674.96 519.22,674.82 521.69,674.69 524.16,674.56 526.64,674.43 529.11,674.29 531.58,674.14 534.06,673.97 536.53,673.77 539,673.55 541.47,673.29 543.95,672.99 546.42,672.64 548.15,672.25 549.88,671.61 551.61,670.73 553.33,669.62 555.06,668.29 556.79,666.76 558.52,665.02 560.25,663.11 561.98,661.02 563.7,658.76 565.43,656.36 567.16,653.81 568.89,651.13 570.62,648.34 571.36,647 572.11,645.45 572.85,643.7 573.6,641.76 574.34,639.65 575.08,637.37 575.83,634.93 576.57,632.35 577.32,629.64 578.06,626.82 578.81,623.88 579.55,620.85 580.3,617.73 581.04,614.54 582.77,606.25 584.5,596.45 586.23,585.34 587.95,573.09 589.68,559.88 591.41,545.91 593.14,531.35 594.87,516.39 596.6,501.22 598.32,486 600.05,470.94 601.78,456.21 603.51,441.99 605.24,428.47 605.98,422.7 606.73,416.74 607.47,410.64 608.22,404.46 608.96,398.24 609.7,392.05 610.45,385.94 611.19,379.98 611.94,374.21 612.68,368.69 613.43,363.47 614.17,358.62 614.92,354.2 615.66,350.24 616.75,344.79 617.84,339.27 618.92,333.78 620.01,328.37 621.1,323.13 622.19,318.13 623.28,313.44 624.36,309.14 625.45,305.3 626.54,301.99 627.63,299.29 628.72,297.26 629.8,296 630.89,295.56 631.53,295.7 632.17,296.11 632.81,296.76 633.45,297.64 634.09,298.73 634.74,300.01 635.38,301.45 636.02,303.04 636.66,304.76 637.3,306.58 637.94,308.49 638.58,310.47 639.22,312.5 639.86,314.55 640.6,317.29 641.35,320.69 642.09,324.68 642.84,329.19 643.58,334.16 644.32,339.5 645.07,345.17 645.81,351.07 646.56,357.16 647.3,363.35 648.05,369.59 648.79,375.79 649.54,381.9 650.28,387.84 652.01,402.27 653.74,418.25 655.47,435.44 657.19,453.53 658.92,472.18 660.65,491.06 662.38,509.84 664.11,528.19 665.84,545.77 667.56,562.27 669.29,577.34 671.02,590.67 672.75,601.91 674.48,610.74 675.22,613.92 675.97,616.98 676.71,619.92 677.46,622.73 678.2,625.41 678.94,627.95 679.69,630.36 680.43,632.63 681.18,634.74 681.92,636.71 682.67,638.53 683.41,640.19 684.16,641.69 684.9,643.02 686.63,645.84 688.36,648.48 690.09,650.96 691.81,653.27 693.54,655.43 695.27,657.43 697,659.29 698.73,661 700.46,662.56 702.18,664 703.91,665.3 705.64,666.47 707.37,667.53 709.1,668.46 709.84,668.83 710.59,669.16 711.33,669.48 712.08,669.77 712.82,670.04 713.56,670.3 714.31,670.55 715.05,670.79 715.8,671.03 716.54,671.26 717.29,671.5 718.03,671.75 718.78,672 719.52,672.26" fill="none" stroke="#3a90c0" stroke-width="1.3" stroke-linejoin="round"/>
<polyline points="511.8,675.3 514.27,675.2 516.75,675.12 519.22,675.04 521.69,674.96 524.16,674.89 526.64,674.82 529.11,674.75 531.58,674.66 534.06,674.57 536.53,674.46 539,674.34 541.47,674.2 543.95,674.03 546.42,673.84 548.15,673.63 549.88,673.28 551.61,672.79 553.33,672.19 555.06,671.46 556.79,670.61 558.52,669.66 560.25,668.61 561.98,667.47 563.7,666.23 565.43,664.91 567.16,663.51 568.89,662.05 570.62,660.51 571.36,659.79 572.11,658.95 572.85,658.01 573.6,656.97 574.34,655.83 575.08,654.6 575.83,653.29 576.57,651.89 577.32,650.41 578.06,648.86 578.81,647.23 579.55,645.54 580.3,643.79 581.04,641.98 582.77,637.26 584.5,631.67 586.23,625.29 587.95,618.17 589.68,610.37 591.41,601.97 593.14,593.03 594.87,583.6 596.6,573.76 598.32,563.57 600.05,553.09 601.78,542.38 603.51,531.51 605.24,520.55 605.98,515.5 606.73,509.88 607.47,503.81 608.22,497.39 608.96,490.72 609.7,483.92 610.45,477.08 611.19,470.31 611.94,463.73 612.68,457.43 613.43,451.53 614.17,446.12 614.92,441.31 615.66,437.22 616.9,431.05 618.13,424.89 619.37,418.81 620.61,412.87 621.84,407.16 623.08,401.75 624.32,396.7 625.55,392.09 626.79,388 628.02,384.48 629.26,381.62 630.5,379.49 631.73,378.16 632.97,377.7 633.46,377.74 633.95,377.86 634.45,378.06 634.94,378.32 635.43,378.65 635.92,379.04 636.41,379.48 636.91,379.97 637.4,380.51 637.89,381.08 638.38,381.69 638.87,382.32 639.37,382.98 639.86,383.65 640.6,384.96 641.35,386.79 642.09,389.08 642.84,391.79 643.58,394.88 644.32,398.28 645.07,401.96 645.81,405.86 646.56,409.94 647.3,414.15 648.05,418.43 648.79,422.75 649.54,427.04 650.28,431.27 652.01,442.05 653.74,454.76 655.47,469.04 657.19,484.51 658.92,500.81 660.65,517.58 662.38,534.44 664.11,551.05 665.84,567.03 667.56,582.01 669.29,595.64 671.02,607.54 672.75,617.35 674.48,624.71 675.22,627.24 675.97,629.67 676.71,631.99 677.46,634.21 678.2,636.31 678.94,638.3 679.69,640.17 680.43,641.93 681.18,643.58 681.92,645.1 682.67,646.51 683.41,647.8 684.16,648.96 684.9,650 686.63,652.21 688.36,654.28 690.09,656.22 691.81,658.04 693.54,659.73 695.27,661.3 697,662.75 698.73,664.09 700.46,665.32 702.18,666.44 703.91,667.46 705.64,668.38 707.37,669.21 709.1,669.94 709.84,670.23 710.59,670.49 711.33,670.74 712.08,670.97 712.82,671.18 713.56,671.38 714.31,671.58 715.05,671.77 715.8,671.95 716.54,672.14 717.29,672.32 718.03,672.51 718.78,672.71 719.52,672.92" fill="none" stroke="#c8c040" stroke-width="1.3" stroke-dasharray="1.4,1.4" stroke-linejoin="round"/>
<polyline points="511.8,675.3 514.27,675.23 516.75,675.17 519.22,675.12 521.69,675.07 524.16,675.02 526.64,674.97 529.11,674.92 531.58,674.86 534.06,674.8 536.53,674.72 539,674.64 541.47,674.54 543.95,674.43 546.42,674.3 548.15,674.15 549.88,673.91 551.61,673.57 553.33,673.15 555.06,672.65 556.79,672.07 558.52,671.42 560.25,670.69 561.98,669.9 563.7,669.05 565.43,668.14 567.16,667.18 568.89,666.17 570.62,665.11 571.36,664.61 572.11,664.04 572.85,663.4 573.6,662.69 574.34,661.91 575.08,661.07 575.83,660.17 576.57,659.21 577.32,658.19 578.06,657.12 578.81,656 579.55,654.83 580.3,653.61 581.04,652.34 582.77,649.03 584.5,645.09 586.23,640.56 587.95,635.47 589.68,629.86 591.41,623.78 593.14,617.24 594.87,610.29 596.6,602.97 598.32,595.31 600.05,587.35 601.78,579.12 603.51,570.66 605.24,562.01 605.98,557.94 606.73,553.33 607.47,548.26 608.22,542.84 608.96,537.16 609.7,531.3 610.45,525.37 611.19,519.46 611.94,513.67 612.68,508.08 613.43,502.8 614.17,497.91 614.92,493.51 615.66,489.7 616.82,484.19 617.98,478.62 619.15,473.06 620.31,467.59 621.47,462.28 622.63,457.21 623.8,452.45 624.96,448.07 626.12,444.17 627.28,440.8 628.44,438.05 629.61,436 630.77,434.71 631.93,434.26 632.5,434.37 633.06,434.7 633.63,435.23 634.2,435.94 634.76,436.81 635.33,437.82 635.89,438.95 636.46,440.18 637.03,441.5 637.59,442.89 638.16,444.32 638.73,445.78 639.29,447.26 639.86,448.72 640.6,450.82 641.35,453.28 642.09,456.06 642.84,459.12 643.58,462.43 644.32,465.94 645.07,469.62 645.81,473.43 646.56,477.33 647.3,481.29 648.05,485.27 648.79,489.22 649.54,493.12 650.28,496.93 652.01,506.11 653.74,516.15 655.47,526.86 657.19,538.04 658.92,549.51 660.65,561.07 662.38,572.54 664.11,583.73 665.84,594.45 667.56,604.5 669.29,613.71 671.02,621.87 672.75,628.81 674.48,634.32 675.22,636.33 675.97,638.26 676.71,640.12 677.46,641.91 678.2,643.61 678.94,645.22 679.69,646.75 680.43,648.19 681.18,649.54 681.92,650.8 682.67,651.95 683.41,653.01 684.16,653.96 684.9,654.81 686.63,656.6 688.36,658.28 690.09,659.85 691.81,661.32 693.54,662.69 695.27,663.96 697,665.14 698.73,666.22 700.46,667.22 702.18,668.13 703.91,668.95 705.64,669.7 707.37,670.37 709.1,670.96 709.84,671.19 710.59,671.41 711.33,671.6 712.08,671.79 712.82,671.96 713.56,672.13 714.31,672.29 715.05,672.44 715.8,672.59 716.54,672.74 717.29,672.89 718.03,673.04 718.78,673.2 719.52,673.37" fill="none" stroke="#40b8c8" stroke-width="1.3" stroke-dasharray="1.4,1.4" stroke-linejoin="round"/>
<polyline points="511.8,675.3 514.27,675.25 516.75,675.21 519.22,675.17 521.69,675.13 524.16,675.09 526.64,675.06 529.11,675.02 531.58,674.98 534.06,674.93 536.53,674.87 539,674.81 541.47,674.74 543.95,674.65 546.42,674.56 548.15,674.45 549.88,674.27 551.61,674.02 553.33,673.71 555.06,673.34 556.79,672.91 558.52,672.43 560.25,671.9 561.98,671.31 563.7,670.68 565.43,670.01 567.16,669.3 568.89,668.55 570.62,667.77 571.36,667.4 572.11,666.98 572.85,666.51 573.6,665.99 574.34,665.42 575.08,664.8 575.83,664.13 576.57,663.43 577.32,662.68 578.06,661.89 578.81,661.06 579.55,660.19 580.3,659.28 581.04,658.34 582.77,655.86 584.5,652.92 586.23,649.52 587.95,645.69 589.68,641.45 591.41,636.82 593.14,631.82 594.87,626.48 596.6,620.8 598.32,614.81 600.05,608.54 601.78,602 603.51,595.21 605.24,588.2 605.98,584.84 606.73,580.95 607.47,576.61 608.22,571.91 608.96,566.95 609.7,561.81 610.45,556.57 611.19,551.34 611.94,546.19 612.68,541.22 613.43,536.51 614.17,532.16 614.92,528.24 615.66,524.86 616.77,520.18 617.89,515.44 619,510.69 620.11,506.01 621.22,501.46 622.34,497.11 623.45,493.02 624.56,489.26 625.68,485.9 626.79,483 627.9,480.63 629.01,478.85 630.13,477.74 631.24,477.35 631.85,477.46 632.47,477.78 633.09,478.28 633.7,478.96 634.32,479.79 634.93,480.76 635.55,481.84 636.16,483.03 636.78,484.29 637.4,485.62 638.01,486.99 638.63,488.39 639.24,489.8 639.86,491.21 640.6,493.06 641.35,495.22 642.09,497.65 642.84,500.33 643.58,503.22 644.32,506.28 645.07,509.47 645.81,512.77 646.56,516.14 647.3,519.54 648.05,522.93 648.79,526.3 649.54,529.59 650.28,532.78 652.01,540.36 653.74,548.51 655.47,557.11 657.19,566 658.92,575.06 660.65,584.15 662.38,593.14 664.11,601.88 665.84,610.24 667.56,618.1 669.29,625.3 671.02,631.71 672.75,637.21 674.48,641.65 675.22,643.29 675.97,644.87 676.71,646.39 677.46,647.85 678.2,649.25 678.94,650.57 679.69,651.83 680.43,653.02 681.18,654.13 681.92,655.17 682.67,656.12 683.41,656.99 684.16,657.78 684.9,658.47 686.63,659.94 688.36,661.32 690.09,662.61 691.81,663.82 693.54,664.94 695.27,665.99 697,666.95 698.73,667.84 700.46,668.66 702.18,669.41 703.91,670.09 705.64,670.7 707.37,671.25 709.1,671.74 709.84,671.93 710.59,672.1 711.33,672.26 712.08,672.42 712.82,672.56 713.56,672.69 714.31,672.82 715.05,672.95 715.8,673.07 716.54,673.2 717.29,673.32 718.03,673.45 718.78,673.58 719.52,673.72" fill="none" stroke="#404060" stroke-width="1.3" stroke-dasharray="1.4,1.4" stroke-linejoin="round"/>
<polyline points="511.8,675.3 514.27,675.26 516.75,675.22 519.22,675.19 521.69,675.16 524.16,675.12 526.64,675.09 529.11,675.06 531.58,675.02 534.06,674.98 536.53,674.94 539,674.89 541.47,674.82 543.95,674.75 546.42,674.67 548.15,674.58 549.88,674.43 551.61,674.22 553.33,673.96 555.06,673.64 556.79,673.28 558.52,672.87 560.25,672.42 561.98,671.92 563.7,671.39 565.43,670.82 567.16,670.22 568.89,669.58 570.62,668.92 571.36,668.61 572.11,668.25 572.85,667.84 573.6,667.4 574.34,666.91 575.08,666.38 575.83,665.81 576.57,665.21 577.32,664.57 578.06,663.9 578.81,663.2 579.55,662.47 580.3,661.71 581.04,660.93 582.77,658.87 584.5,656.41 586.23,653.59 587.95,650.43 589.68,646.96 591.41,643.22 593.14,639.24 594.87,635.03 596.6,630.65 598.32,626.1 600.05,621.43 601.78,616.66 603.51,611.83 605.24,606.96 605.98,604.74 606.73,602.3 607.47,599.67 608.22,596.91 608.96,594.04 609.7,591.11 610.45,588.16 611.19,585.22 611.94,582.33 612.68,579.54 613.43,576.88 614.17,574.38 614.92,572.09 615.66,570.06 616.82,567.04 617.98,563.95 619.15,560.85 620.31,557.76 621.47,554.76 622.63,551.87 623.8,549.14 624.96,546.63 626.12,544.38 627.28,542.43 628.44,540.83 629.61,539.63 630.77,538.88 631.93,538.62 632.5,538.7 633.06,538.92 633.63,539.28 634.2,539.75 634.76,540.34 635.33,541.01 635.89,541.77 636.46,542.59 637.03,543.47 637.59,544.39 638.16,545.33 638.73,546.29 639.29,547.24 639.86,548.19 640.6,549.52 641.35,551.05 642.09,552.76 642.84,554.62 643.58,556.62 644.32,558.72 645.07,560.91 645.81,563.17 646.56,565.48 647.3,567.8 648.05,570.13 648.79,572.43 649.54,574.69 650.28,576.89 652.01,582.13 653.74,587.76 655.47,593.69 657.19,599.83 658.92,606.09 660.65,612.37 662.38,618.57 664.11,624.6 665.84,630.38 667.56,635.8 669.29,640.77 671.02,645.2 672.75,649 674.48,652.06 675.22,653.2 675.97,654.29 676.71,655.34 677.46,656.35 678.2,657.31 678.94,658.23 679.69,659.1 680.43,659.92 681.18,660.68 681.92,661.4 682.67,662.06 683.41,662.66 684.16,663.2 684.9,663.68 686.63,664.7 688.36,665.65 690.09,666.54 691.81,667.37 693.54,668.15 695.27,668.87 697,669.54 698.73,670.15 700.46,670.72 702.18,671.23 703.91,671.7 705.64,672.12 707.37,672.5 709.1,672.84 709.84,672.97 710.59,673.09 711.33,673.2 712.08,673.31 712.82,673.41 713.56,673.5 714.31,673.59 715.05,673.68 715.8,673.76 716.54,673.85 717.29,673.93 718.03,674.02 718.78,674.11 719.52,674.21" fill="none" stroke="#e8a0a0" stroke-width="1.3" stroke-dasharray="1.4,1.4" stroke-linejoin="round"/>
<polyline points="511.8,675.3 514.27,675.25 516.75,675.21 519.22,675.17 521.69,675.13 524.16,675.1 526.64,675.06 529.11,675.03 531.58,674.98 534.06,674.94 536.53,674.89 539,674.82 541.47,674.75 543.95,674.67 546.42,674.58 548.15,674.47 549.88,674.3 551.61,674.06 553.33,673.76 555.06,673.4 556.79,672.98 558.52,672.51 560.25,671.99 561.98,671.42 563.7,670.81 565.43,670.16 567.16,669.47 568.89,668.74 570.62,667.98 571.36,667.62 572.11,667.2 572.85,666.74 573.6,666.22 574.34,665.65 575.08,665.04 575.83,664.39 576.57,663.7 577.32,662.96 578.06,662.19 578.81,661.39 579.55,660.56 580.3,659.7 581.04,658.81 582.77,656.46 584.5,653.65 586.23,650.42 587.95,646.82 589.68,642.9 591.41,638.7 593.14,634.29 594.87,629.7 596.6,624.98 598.32,620.19 600.05,615.37 601.78,610.57 603.51,605.84 605.24,601.24 605.98,599.24 606.73,597.16 607.47,595.01 608.22,592.8 608.96,590.57 609.7,588.31 610.45,586.06 611.19,583.82 611.94,581.61 612.68,579.45 613.43,577.35 614.17,575.33 614.92,573.42 615.66,571.61 616.8,568.87 617.94,565.98 619.07,563.02 620.21,560.04 621.35,557.08 622.49,554.21 623.62,551.47 624.76,548.92 625.9,546.61 627.04,544.61 628.17,542.95 629.31,541.7 630.45,540.91 631.59,540.64 632.18,540.72 632.77,540.93 633.36,541.28 633.95,541.75 634.54,542.32 635.13,542.98 635.72,543.72 636.31,544.53 636.9,545.39 637.49,546.29 638.09,547.22 638.68,548.17 639.27,549.12 639.86,550.07 640.6,551.35 641.35,552.84 642.09,554.51 642.84,556.34 643.58,558.3 644.32,560.38 645.07,562.55 645.81,564.78 646.56,567.06 647.3,569.36 648.05,571.67 648.79,573.94 649.54,576.18 650.28,578.34 652.01,583.5 653.74,589.05 655.47,594.9 657.19,600.95 658.92,607.11 660.65,613.3 662.38,619.41 664.11,625.35 665.84,631.04 667.56,636.39 669.29,641.28 671.02,645.65 672.75,649.39 674.48,652.41 675.22,653.52 675.97,654.6 676.71,655.63 677.46,656.63 678.2,657.58 678.94,658.48 679.69,659.34 680.43,660.14 681.18,660.9 681.92,661.6 682.67,662.25 683.41,662.85 684.16,663.38 684.9,663.85 686.63,664.85 688.36,665.79 690.09,666.67 691.81,667.49 693.54,668.25 695.27,668.96 697,669.62 698.73,670.23 700.46,670.78 702.18,671.29 703.91,671.75 705.64,672.17 707.37,672.54 709.1,672.88 709.84,673.01 710.59,673.12 711.33,673.24 712.08,673.34 712.82,673.44 713.56,673.53 714.31,673.62 715.05,673.7 715.8,673.79 716.54,673.87 717.29,673.95 718.03,674.04 718.78,674.13 719.52,674.22" fill="none" stroke="#503838" stroke-width="1.3" stroke-dasharray="1.4,1.4" stroke-linejoin="round"/>
<circle cx="511.8" cy="675.3" r="2.6" fill="#8a8a8a" stroke="#8a8a8a" stroke-width="0.5"/>
<circle cx="511" cy="674.5" r="0.91" fill="#fff" opacity="0.45"/>
<circle cx="546.42" cy="674.7" r="2.6" fill="#8a8a8a" stroke="#8a8a8a" stroke-width="0.5"/>
<circle cx="545.62" cy="673.9" r="0.91" fill="#fff" opacity="0.45"/>
<circle cx="570.62" cy="669.23" r="2.6" fill="#8a8a8a" stroke="#8a8a8a" stroke-width="0.5"/>
<circle cx="569.82" cy="668.43" r="0.91" fill="#fff" opacity="0.45"/>
<circle cx="581.04" cy="661.62" r="2.6" fill="#8a8a8a" stroke="#8a8a8a" stroke-width="0.5"/>
<circle cx="580.24" cy="660.82" r="0.91" fill="#fff" opacity="0.45"/>
<circle cx="605.24" cy="605.09" r="2.6" fill="#8a8a8a" stroke="#8a8a8a" stroke-width="0.5"/>
<circle cx="604.44" cy="604.29" r="0.91" fill="#fff" opacity="0.45"/>
<circle cx="615.66" cy="552.43" r="2.6" fill="#8a8a8a" stroke="#8a8a8a" stroke-width="0.5"/>
<circle cx="614.86" cy="551.63" r="0.91" fill="#fff" opacity="0.45"/>
<circle cx="639.86" cy="526.9" r="2.6" fill="#8a8a8a" stroke="#8a8a8a" stroke-width="0.5"/>
<circle cx="639.06" cy="526.1" r="0.91" fill="#fff" opacity="0.45"/>
<circle cx="650.28" cy="560.41" r="2.6" fill="#8a8a8a" stroke="#8a8a8a" stroke-width="0.5"/>
<circle cx="649.48" cy="559.61" r="0.91" fill="#fff" opacity="0.45"/>
<circle cx="674.48" cy="648.17" r="2.6" fill="#8a8a8a" stroke="#8a8a8a" stroke-width="0.5"/>
<circle cx="673.68" cy="647.37" r="0.91" fill="#fff" opacity="0.45"/>
<circle cx="684.9" cy="661.74" r="2.6" fill="#8a8a8a" stroke="#8a8a8a" stroke-width="0.5"/>
<circle cx="684.1" cy="660.94" r="0.91" fill="#fff" opacity="0.45"/>
<circle cx="709.1" cy="672.43" r="2.6" fill="#8a8a8a" stroke="#8a8a8a" stroke-width="0.5"/>
<circle cx="708.3" cy="671.63" r="0.91" fill="#fff" opacity="0.45"/>
<circle cx="719.52" cy="674.02" r="2.6" fill="#8a8a8a" stroke="#8a8a8a" stroke-width="0.5"/>
<circle cx="718.72" cy="673.22" r="0.91" fill="#fff" opacity="0.45"/>
<circle cx="511.8" cy="675.3" r="2.6" fill="#4e9a24" stroke="#4e9a24" stroke-width="0.5"/>
<circle cx="511" cy="674.5" r="0.91" fill="#fff" opacity="0.45"/>
<circle cx="546.42" cy="674.09" r="2.6" fill="#4e9a24" stroke="#4e9a24" stroke-width="0.5"/>
<circle cx="545.62" cy="673.29" r="0.91" fill="#fff" opacity="0.45"/>
<circle cx="570.62" cy="663.02" r="2.6" fill="#4e9a24" stroke="#4e9a24" stroke-width="0.5"/>
<circle cx="569.82" cy="662.22" r="0.91" fill="#fff" opacity="0.45"/>
<circle cx="581.04" cy="647.63" r="2.6" fill="#4e9a24" stroke="#4e9a24" stroke-width="0.5"/>
<circle cx="580.24" cy="646.83" r="0.91" fill="#fff" opacity="0.45"/>
<circle cx="605.24" cy="546.81" r="2.6" fill="#4e9a24" stroke="#4e9a24" stroke-width="0.5"/>
<circle cx="604.44" cy="546.01" r="0.91" fill="#fff" opacity="0.45"/>
<circle cx="615.66" cy="477.62" r="2.6" fill="#4e9a24" stroke="#4e9a24" stroke-width="0.5"/>
<circle cx="614.86" cy="476.82" r="0.91" fill="#fff" opacity="0.45"/>
<circle cx="639.86" cy="437.59" r="2.6" fill="#4e9a24" stroke="#4e9a24" stroke-width="0.5"/>
<circle cx="639.06" cy="436.79" r="0.91" fill="#fff" opacity="0.45"/>
<circle cx="650.28" cy="477.62" r="2.6" fill="#4e9a24" stroke="#4e9a24" stroke-width="0.5"/>
<circle cx="649.48" cy="476.82" r="0.91" fill="#fff" opacity="0.45"/>
<circle cx="674.48" cy="633.29" r="2.6" fill="#4e9a24" stroke="#4e9a24" stroke-width="0.5"/>
<circle cx="673.68" cy="632.49" r="0.91" fill="#fff" opacity="0.45"/>
<circle cx="684.9" cy="654.3" r="2.6" fill="#4e9a24" stroke="#4e9a24" stroke-width="0.5"/>
<circle cx="684.1" cy="653.5" r="0.91" fill="#fff" opacity="0.45"/>
<circle cx="709.1" cy="670.85" r="2.6" fill="#4e9a24" stroke="#4e9a24" stroke-width="0.5"/>
<circle cx="708.3" cy="670.05" r="0.91" fill="#fff" opacity="0.45"/>
<circle cx="719.52" cy="673.32" r="2.6" fill="#4e9a24" stroke="#4e9a24" stroke-width="0.5"/>
<circle cx="718.72" cy="672.52" r="0.91" fill="#fff" opacity="0.45"/>
<circle cx="511.8" cy="675.3" r="2.6" fill="#e0601e" stroke="#e0601e" stroke-width="0.5"/>
<circle cx="511" cy="674.5" r="0.91" fill="#fff" opacity="0.45"/>
<circle cx="546.42" cy="673.76" r="2.6" fill="#e0601e" stroke="#e0601e" stroke-width="0.5"/>
<circle cx="545.62" cy="672.96" r="0.91" fill="#fff" opacity="0.45"/>
<circle cx="570.62" cy="659.67" r="2.6" fill="#e0601e" stroke="#e0601e" stroke-width="0.5"/>
<circle cx="569.82" cy="658.87" r="0.91" fill="#fff" opacity="0.45"/>
<circle cx="581.04" cy="640.08" r="2.6" fill="#e0601e" stroke="#e0601e" stroke-width="0.5"/>
<circle cx="580.24" cy="639.28" r="0.91" fill="#fff" opacity="0.45"/>
<circle cx="605.24" cy="518.83" r="2.6" fill="#e0601e" stroke="#e0601e" stroke-width="0.5"/>
<circle cx="604.44" cy="518.03" r="0.91" fill="#fff" opacity="0.45"/>
<circle cx="615.66" cy="448.97" r="2.6" fill="#e0601e" stroke="#e0601e" stroke-width="0.5"/>
<circle cx="614.86" cy="448.17" r="0.91" fill="#fff" opacity="0.45"/>
<circle cx="639.86" cy="402.03" r="2.6" fill="#e0601e" stroke="#e0601e" stroke-width="0.5"/>
<circle cx="639.06" cy="401.23" r="0.91" fill="#fff" opacity="0.45"/>
<circle cx="650.28" cy="441.98" r="2.6" fill="#e0601e" stroke="#e0601e" stroke-width="0.5"/>
<circle cx="649.48" cy="441.18" r="0.91" fill="#fff" opacity="0.45"/>
<circle cx="674.48" cy="627.8" r="2.6" fill="#e0601e" stroke="#e0601e" stroke-width="0.5"/>
<circle cx="673.68" cy="627" r="0.91" fill="#fff" opacity="0.45"/>
<circle cx="684.9" cy="651.55" r="2.6" fill="#e0601e" stroke="#e0601e" stroke-width="0.5"/>
<circle cx="684.1" cy="650.75" r="0.91" fill="#fff" opacity="0.45"/>
<circle cx="709.1" cy="670.27" r="2.6" fill="#e0601e" stroke="#e0601e" stroke-width="0.5"/>
<circle cx="708.3" cy="669.47" r="0.91" fill="#fff" opacity="0.45"/>
<circle cx="719.52" cy="673.06" r="2.6" fill="#e0601e" stroke="#e0601e" stroke-width="0.5"/>
<circle cx="718.72" cy="672.26" r="0.91" fill="#fff" opacity="0.45"/>
<circle cx="511.8" cy="675.3" r="2.6" fill="#7a28c0" stroke="#7a28c0" stroke-width="0.5"/>
<circle cx="511" cy="674.5" r="0.91" fill="#fff" opacity="0.45"/>
<circle cx="546.42" cy="673.59" r="2.6" fill="#7a28c0" stroke="#7a28c0" stroke-width="0.5"/>
<circle cx="545.62" cy="672.79" r="0.91" fill="#fff" opacity="0.45"/>
<circle cx="570.62" cy="657.99" r="2.6" fill="#7a28c0" stroke="#7a28c0" stroke-width="0.5"/>
<circle cx="569.82" cy="657.19" r="0.91" fill="#fff" opacity="0.45"/>
<circle cx="581.04" cy="636.3" r="2.6" fill="#7a28c0" stroke="#7a28c0" stroke-width="0.5"/>
<circle cx="580.24" cy="635.5" r="0.91" fill="#fff" opacity="0.45"/>
<circle cx="605.24" cy="500.14" r="2.6" fill="#7a28c0" stroke="#7a28c0" stroke-width="0.5"/>
<circle cx="604.44" cy="499.34" r="0.91" fill="#fff" opacity="0.45"/>
<circle cx="615.66" cy="396.64" r="2.6" fill="#7a28c0" stroke="#7a28c0" stroke-width="0.5"/>
<circle cx="614.86" cy="395.84" r="0.91" fill="#fff" opacity="0.45"/>
<circle cx="639.86" cy="368.93" r="2.6" fill="#7a28c0" stroke="#7a28c0" stroke-width="0.5"/>
<circle cx="639.06" cy="368.13" r="0.91" fill="#fff" opacity="0.45"/>
<circle cx="650.28" cy="410.97" r="2.6" fill="#7a28c0" stroke="#7a28c0" stroke-width="0.5"/>
<circle cx="649.48" cy="410.17" r="0.91" fill="#fff" opacity="0.45"/>
<circle cx="674.48" cy="621.16" r="2.6" fill="#7a28c0" stroke="#7a28c0" stroke-width="0.5"/>
<circle cx="673.68" cy="620.36" r="0.91" fill="#fff" opacity="0.45"/>
<circle cx="684.9" cy="648.23" r="2.6" fill="#7a28c0" stroke="#7a28c0" stroke-width="0.5"/>
<circle cx="684.1" cy="647.43" r="0.91" fill="#fff" opacity="0.45"/>
<circle cx="709.1" cy="669.57" r="2.6" fill="#7a28c0" stroke="#7a28c0" stroke-width="0.5"/>
<circle cx="708.3" cy="668.77" r="0.91" fill="#fff" opacity="0.45"/>
<circle cx="719.52" cy="672.75" r="2.6" fill="#7a28c0" stroke="#7a28c0" stroke-width="0.5"/>
<circle cx="718.72" cy="671.95" r="0.91" fill="#fff" opacity="0.45"/>
<circle cx="511.8" cy="675.3" r="2.6" fill="#d0a020" stroke="#d0a020" stroke-width="0.5"/>
<circle cx="511" cy="674.5" r="0.91" fill="#fff" opacity="0.45"/>
<circle cx="546.42" cy="673.08" r="2.6" fill="#d0a020" stroke="#d0a020" stroke-width="0.5"/>
<circle cx="545.62" cy="672.28" r="0.91" fill="#fff" opacity="0.45"/>
<circle cx="570.62" cy="652.8" r="2.6" fill="#d0a020" stroke="#d0a020" stroke-width="0.5"/>
<circle cx="569.82" cy="652" r="0.91" fill="#fff" opacity="0.45"/>
<circle cx="581.04" cy="624.59" r="2.6" fill="#d0a020" stroke="#d0a020" stroke-width="0.5"/>
<circle cx="580.24" cy="623.79" r="0.91" fill="#fff" opacity="0.45"/>
<circle cx="605.24" cy="459.17" r="2.6" fill="#d0a020" stroke="#d0a020" stroke-width="0.5"/>
<circle cx="604.44" cy="458.37" r="0.91" fill="#fff" opacity="0.45"/>
<circle cx="615.66" cy="369.12" r="2.6" fill="#d0a020" stroke="#d0a020" stroke-width="0.5"/>
<circle cx="614.86" cy="368.32" r="0.91" fill="#fff" opacity="0.45"/>
<circle cx="639.86" cy="332.74" r="2.6" fill="#d0a020" stroke="#d0a020" stroke-width="0.5"/>
<circle cx="639.06" cy="331.94" r="0.91" fill="#fff" opacity="0.45"/>
<circle cx="650.28" cy="390.73" r="2.6" fill="#d0a020" stroke="#d0a020" stroke-width="0.5"/>
<circle cx="649.48" cy="389.93" r="0.91" fill="#fff" opacity="0.45"/>
<circle cx="674.48" cy="614.06" r="2.6" fill="#d0a020" stroke="#d0a020" stroke-width="0.5"/>
<circle cx="673.68" cy="613.26" r="0.91" fill="#fff" opacity="0.45"/>
<circle cx="684.9" cy="644.68" r="2.6" fill="#d0a020" stroke="#d0a020" stroke-width="0.5"/>
<circle cx="684.1" cy="643.88" r="0.91" fill="#fff" opacity="0.45"/>
<circle cx="709.1" cy="668.82" r="2.6" fill="#d0a020" stroke="#d0a020" stroke-width="0.5"/>
<circle cx="708.3" cy="668.02" r="0.91" fill="#fff" opacity="0.45"/>
<circle cx="719.52" cy="672.42" r="2.6" fill="#d0a020" stroke="#d0a020" stroke-width="0.5"/>
<circle cx="718.72" cy="671.62" r="0.91" fill="#fff" opacity="0.45"/>
<circle cx="511.8" cy="675.3" r="2.6" fill="#2a88c8" stroke="#2a88c8" stroke-width="0.5"/>
<circle cx="511" cy="674.5" r="0.91" fill="#fff" opacity="0.45"/>
<circle cx="546.42" cy="672.64" r="2.6" fill="#2a88c8" stroke="#2a88c8" stroke-width="0.5"/>
<circle cx="545.62" cy="671.84" r="0.91" fill="#fff" opacity="0.45"/>
<circle cx="570.62" cy="648.34" r="2.6" fill="#2a88c8" stroke="#2a88c8" stroke-width="0.5"/>
<circle cx="569.82" cy="647.54" r="0.91" fill="#fff" opacity="0.45"/>
<circle cx="581.04" cy="614.54" r="2.6" fill="#2a88c8" stroke="#2a88c8" stroke-width="0.5"/>
<circle cx="580.24" cy="613.74" r="0.91" fill="#fff" opacity="0.45"/>
<circle cx="605.24" cy="428.47" r="2.6" fill="#2a88c8" stroke="#2a88c8" stroke-width="0.5"/>
<circle cx="604.44" cy="427.67" r="0.91" fill="#fff" opacity="0.45"/>
<circle cx="615.66" cy="350.24" r="2.6" fill="#2a88c8" stroke="#2a88c8" stroke-width="0.5"/>
<circle cx="614.86" cy="349.44" r="0.91" fill="#fff" opacity="0.45"/>
<circle cx="639.86" cy="314.55" r="2.6" fill="#2a88c8" stroke="#2a88c8" stroke-width="0.5"/>
<circle cx="639.06" cy="313.75" r="0.91" fill="#fff" opacity="0.45"/>
<circle cx="650.28" cy="387.84" r="2.6" fill="#2a88c8" stroke="#2a88c8" stroke-width="0.5"/>
<circle cx="649.48" cy="387.04" r="0.91" fill="#fff" opacity="0.45"/>
<circle cx="674.48" cy="610.74" r="2.6" fill="#2a88c8" stroke="#2a88c8" stroke-width="0.5"/>
<circle cx="673.68" cy="609.94" r="0.91" fill="#fff" opacity="0.45"/>
<circle cx="684.9" cy="643.02" r="2.6" fill="#2a88c8" stroke="#2a88c8" stroke-width="0.5"/>
<circle cx="684.1" cy="642.22" r="0.91" fill="#fff" opacity="0.45"/>
<circle cx="709.1" cy="668.46" r="2.6" fill="#2a88c8" stroke="#2a88c8" stroke-width="0.5"/>
<circle cx="708.3" cy="667.66" r="0.91" fill="#fff" opacity="0.45"/>
<circle cx="719.52" cy="672.26" r="2.6" fill="#2a88c8" stroke="#2a88c8" stroke-width="0.5"/>
<circle cx="718.72" cy="671.46" r="0.91" fill="#fff" opacity="0.45"/>
<polygon points="511.8,672 512.68,674.09 514.94,674.28 513.23,675.76 513.74,677.97 511.8,676.8 509.86,677.97 510.37,675.76 508.66,674.28 510.92,674.09" fill="#fff" stroke="#c8c040" stroke-width="0.7"/>
<polygon points="546.42,670.54 547.3,672.63 549.56,672.82 547.85,674.31 548.36,676.51 546.42,675.34 544.48,676.51 544.99,674.31 543.28,672.82 545.54,672.63" fill="#fff" stroke="#c8c040" stroke-width="0.7"/>
<polygon points="570.62,657.21 571.5,659.3 573.76,659.49 572.04,660.98 572.56,663.18 570.62,662.01 568.68,663.18 569.19,660.98 567.48,659.49 569.74,659.3" fill="#fff" stroke="#c8c040" stroke-width="0.7"/>
<polygon points="581.04,638.68 581.92,640.77 584.18,640.96 582.47,642.44 582.98,644.65 581.04,643.48 579.1,644.65 579.61,642.44 577.9,640.96 580.16,640.77" fill="#fff" stroke="#c8c040" stroke-width="0.7"/>
<polygon points="605.24,517.25 606.12,519.34 608.38,519.53 606.66,521.01 607.18,523.22 605.24,522.05 603.3,523.22 603.81,521.01 602.1,519.53 604.36,519.34" fill="#fff" stroke="#c8c040" stroke-width="0.7"/>
<polygon points="615.66,433.92 616.54,436.01 618.8,436.2 617.09,437.68 617.6,439.89 615.66,438.72 613.72,439.89 614.23,437.68 612.52,436.2 614.78,436.01" fill="#fff" stroke="#c8c040" stroke-width="0.7"/>
<polygon points="639.86,380.35 640.74,382.44 643,382.63 641.28,384.12 641.8,386.32 639.86,385.15 637.92,386.32 638.43,384.12 636.72,382.63 638.98,382.44" fill="#fff" stroke="#c8c040" stroke-width="0.7"/>
<polygon points="650.28,427.97 651.16,430.06 653.42,430.25 651.71,431.73 652.22,433.94 650.28,432.77 648.34,433.94 648.85,431.73 647.14,430.25 649.4,430.06" fill="#fff" stroke="#c8c040" stroke-width="0.7"/>
<polygon points="674.48,621.41 675.36,623.49 677.62,623.69 675.9,625.17 676.42,627.38 674.48,626.21 672.54,627.38 673.05,625.17 671.34,623.69 673.6,623.49" fill="#fff" stroke="#c8c040" stroke-width="0.7"/>
<polygon points="684.9,646.7 685.78,648.79 688.04,648.98 686.33,650.47 686.84,652.67 684.9,651.5 682.96,652.67 683.47,650.47 681.76,648.98 684.02,648.79" fill="#fff" stroke="#c8c040" stroke-width="0.7"/>
<polygon points="709.1,666.64 709.98,668.73 712.24,668.92 710.52,670.41 711.04,672.61 709.1,671.44 707.16,672.61 707.67,670.41 705.96,668.92 708.22,668.73" fill="#fff" stroke="#c8c040" stroke-width="0.7"/>
<polygon points="719.52,669.62 720.4,671.71 722.66,671.9 720.95,673.38 721.46,675.59 719.52,674.42 717.58,675.59 718.09,673.38 716.38,671.9 718.64,671.71" fill="#fff" stroke="#c8c040" stroke-width="0.7"/>
<circle cx="511.8" cy="675.3" r="3" fill="#fff" stroke="#40b8c8" stroke-width="0.8"/>
<circle cx="546.42" cy="674.3" r="3" fill="#fff" stroke="#40b8c8" stroke-width="0.8"/>
<circle cx="570.62" cy="665.11" r="3" fill="#fff" stroke="#40b8c8" stroke-width="0.8"/>
<circle cx="581.04" cy="652.34" r="3" fill="#fff" stroke="#40b8c8" stroke-width="0.8"/>
<circle cx="605.24" cy="562.01" r="3" fill="#fff" stroke="#40b8c8" stroke-width="0.8"/>
<circle cx="615.66" cy="489.7" r="3" fill="#fff" stroke="#40b8c8" stroke-width="0.8"/>
<circle cx="639.86" cy="448.72" r="3" fill="#fff" stroke="#40b8c8" stroke-width="0.8"/>
<circle cx="650.28" cy="496.93" r="3" fill="#fff" stroke="#40b8c8" stroke-width="0.8"/>
<circle cx="674.48" cy="634.32" r="3" fill="#fff" stroke="#40b8c8" stroke-width="0.8"/>
<circle cx="684.9" cy="654.81" r="3" fill="#fff" stroke="#40b8c8" stroke-width="0.8"/>
<circle cx="709.1" cy="670.96" r="3" fill="#fff" stroke="#40b8c8" stroke-width="0.8"/>
<circle cx="719.52" cy="673.37" r="3" fill="#fff" stroke="#40b8c8" stroke-width="0.8"/>
<circle cx="511.8" cy="675.3" r="3" fill="#fff" stroke="#404060" stroke-width="0.8"/>
<circle cx="546.42" cy="674.56" r="3" fill="#fff" stroke="#404060" stroke-width="0.8"/>
<circle cx="570.62" cy="667.77" r="3" fill="#fff" stroke="#404060" stroke-width="0.8"/>
<circle cx="581.04" cy="658.34" r="3" fill="#fff" stroke="#404060" stroke-width="0.8"/>
<circle cx="605.24" cy="588.2" r="3" fill="#fff" stroke="#404060" stroke-width="0.8"/>
<circle cx="615.66" cy="524.86" r="3" fill="#fff" stroke="#404060" stroke-width="0.8"/>
<circle cx="639.86" cy="491.21" r="3" fill="#fff" stroke="#404060" stroke-width="0.8"/>
<circle cx="650.28" cy="532.78" r="3" fill="#fff" stroke="#404060" stroke-width="0.8"/>
<circle cx="674.48" cy="641.65" r="3" fill="#fff" stroke="#404060" stroke-width="0.8"/>
<circle cx="684.9" cy="658.47" r="3" fill="#fff" stroke="#404060" stroke-width="0.8"/>
<circle cx="709.1" cy="671.74" r="3" fill="#fff" stroke="#404060" stroke-width="0.8"/>
<circle cx="719.52" cy="673.72" r="3" fill="#fff" stroke="#404060" stroke-width="0.8"/>
<rect x="509.2" y="672.7" width="5.2" height="5.2" fill="#fff" stroke="#e8a0a0" stroke-width="0.8"/>
<rect x="543.82" y="672.07" width="5.2" height="5.2" fill="#fff" stroke="#e8a0a0" stroke-width="0.8"/>
<rect x="568.02" y="666.32" width="5.2" height="5.2" fill="#fff" stroke="#e8a0a0" stroke-width="0.8"/>
<rect x="578.44" y="658.33" width="5.2" height="5.2" fill="#fff" stroke="#e8a0a0" stroke-width="0.8"/>
<rect x="602.64" y="604.36" width="5.2" height="5.2" fill="#fff" stroke="#e8a0a0" stroke-width="0.8"/>
<rect x="613.06" y="567.46" width="5.2" height="5.2" fill="#fff" stroke="#e8a0a0" stroke-width="0.8"/>
<rect x="637.26" y="545.59" width="5.2" height="5.2" fill="#fff" stroke="#e8a0a0" stroke-width="0.8"/>
<rect x="647.68" y="574.29" width="5.2" height="5.2" fill="#fff" stroke="#e8a0a0" stroke-width="0.8"/>
<rect x="671.88" y="649.46" width="5.2" height="5.2" fill="#fff" stroke="#e8a0a0" stroke-width="0.8"/>
<rect x="682.3" y="661.08" width="5.2" height="5.2" fill="#fff" stroke="#e8a0a0" stroke-width="0.8"/>
<rect x="706.5" y="670.24" width="5.2" height="5.2" fill="#fff" stroke="#e8a0a0" stroke-width="0.8"/>
<rect x="716.92" y="671.61" width="5.2" height="5.2" fill="#fff" stroke="#e8a0a0" stroke-width="0.8"/>
<path d="M511.8,672.1 L515.2,677.7 L508.4,677.7 Z" fill="#fff" stroke="#503838" stroke-width="0.8"/>
<path d="M546.42,671.38 L549.82,676.98 L543.02,676.98 Z" fill="#fff" stroke="#503838" stroke-width="0.8"/>
<path d="M570.62,664.78 L574.02,670.38 L567.22,670.38 Z" fill="#fff" stroke="#503838" stroke-width="0.8"/>
<path d="M581.04,655.61 L584.44,661.21 L577.64,661.21 Z" fill="#fff" stroke="#503838" stroke-width="0.8"/>
<path d="M605.24,598.04 L608.64,603.64 L601.84,603.64 Z" fill="#fff" stroke="#503838" stroke-width="0.8"/>
<path d="M615.66,568.41 L619.06,574.01 L612.26,574.01 Z" fill="#fff" stroke="#503838" stroke-width="0.8"/>
<path d="M639.86,546.87 L643.26,552.47 L636.46,552.47 Z" fill="#fff" stroke="#503838" stroke-width="0.8"/>
<path d="M650.28,575.14 L653.68,580.74 L646.88,580.74 Z" fill="#fff" stroke="#503838" stroke-width="0.8"/>
<path d="M674.48,649.21 L677.88,654.81 L671.08,654.81 Z" fill="#fff" stroke="#503838" stroke-width="0.8"/>
<path d="M684.9,660.65 L688.3,666.25 L681.5,666.25 Z" fill="#fff" stroke="#503838" stroke-width="0.8"/>
<path d="M709.1,669.68 L712.5,675.28 L705.7,675.28 Z" fill="#fff" stroke="#503838" stroke-width="0.8"/>
<path d="M719.52,671.02 L722.92,676.62 L716.12,676.62 Z" fill="#fff" stroke="#503838" stroke-width="0.8"/>
<rect x="501.3" y="272" width="223.7" height="417.1" fill="none" stroke="#111" stroke-width="1.6"/>
<line x1="501.3" y1="675.3" x2="505" y2="675.3" stroke="#111" stroke-width="1.2"/>
<line x1="725" y1="675.3" x2="721.3" y2="675.3" stroke="#111" stroke-width="1.2"/>
<text x="478.57" y="679.27" font-size="13" fill="#111" text-anchor="start" font-weight="bold" textLength="18.98" lengthAdjust="spacingAndGlyphs">0.0</text>
<text x="729.25" y="679.27" font-size="13" fill="#111" text-anchor="start" font-weight="bold" textLength="18.98" lengthAdjust="spacingAndGlyphs">0.0</text>
<line x1="501.3" y1="574.3" x2="505" y2="574.3" stroke="#111" stroke-width="1.2"/>
<line x1="725" y1="574.3" x2="721.3" y2="574.3" stroke="#111" stroke-width="1.2"/>
<text x="478.4" y="578.28" font-size="13" fill="#111" text-anchor="start" font-weight="bold" textLength="18.98" lengthAdjust="spacingAndGlyphs">1.5</text>
<text x="729.32" y="578.28" font-size="13" fill="#111" text-anchor="start" font-weight="bold" textLength="18.98" lengthAdjust="spacingAndGlyphs">2.4</text>
<line x1="501.3" y1="473.31" x2="505" y2="473.31" stroke="#111" stroke-width="1.2"/>
<line x1="725" y1="473.31" x2="721.3" y2="473.31" stroke="#111" stroke-width="1.2"/>
<text x="478.57" y="477.28" font-size="13" fill="#111" text-anchor="start" font-weight="bold" textLength="18.98" lengthAdjust="spacingAndGlyphs">3.0</text>
<text x="729.6" y="477.28" font-size="13" fill="#111" text-anchor="start" font-weight="bold" textLength="18.98" lengthAdjust="spacingAndGlyphs">4.8</text>
<line x1="501.3" y1="372.31" x2="505" y2="372.31" stroke="#111" stroke-width="1.2"/>
<line x1="725" y1="372.31" x2="721.3" y2="372.31" stroke="#111" stroke-width="1.2"/>
<text x="478.4" y="376.29" font-size="13" fill="#111" text-anchor="start" font-weight="bold" textLength="18.98" lengthAdjust="spacingAndGlyphs">4.5</text>
<text x="729.22" y="376.29" font-size="13" fill="#111" text-anchor="start" font-weight="bold" textLength="18.98" lengthAdjust="spacingAndGlyphs">7.2</text>
<line x1="501.3" y1="271.32" x2="505" y2="271.32" stroke="#111" stroke-width="1.2"/>
<line x1="725" y1="271.32" x2="721.3" y2="271.32" stroke="#111" stroke-width="1.2"/>
<text x="478.57" y="275.29" font-size="13" fill="#111" text-anchor="start" font-weight="bold" textLength="18.98" lengthAdjust="spacingAndGlyphs">6.0</text>
<text x="729.32" y="275.29" font-size="13" fill="#111" text-anchor="start" font-weight="bold" textLength="18.98" lengthAdjust="spacingAndGlyphs">9.6</text>
<line x1="501.3" y1="624.8" x2="503.3" y2="624.8" stroke="#111" stroke-width="1"/>
<line x1="725" y1="624.8" x2="723" y2="624.8" stroke="#111" stroke-width="1"/>
<line x1="501.3" y1="523.81" x2="503.3" y2="523.81" stroke="#111" stroke-width="1"/>
<line x1="725" y1="523.81" x2="723" y2="523.81" stroke="#111" stroke-width="1"/>
<line x1="501.3" y1="422.81" x2="503.3" y2="422.81" stroke="#111" stroke-width="1"/>
<line x1="725" y1="422.81" x2="723" y2="422.81" stroke="#111" stroke-width="1"/>
<line x1="501.3" y1="321.82" x2="503.3" y2="321.82" stroke="#111" stroke-width="1"/>
<line x1="725" y1="321.82" x2="723" y2="321.82" stroke="#111" stroke-width="1"/>
<line x1="511.8" y1="689.1" x2="511.8" y2="685.6" stroke="#111" stroke-width="1.2"/>
<text x="501.33" y="704.7" font-size="12.62" fill="#111" text-anchor="start" font-weight="bold" textLength="15.57" lengthAdjust="spacingAndGlyphs">10</text>
<text x="516.67" y="699.7" font-size="9.32" fill="#111" text-anchor="start" font-weight="normal" textLength="4.92" lengthAdjust="spacingAndGlyphs">3</text>
<line x1="522.22" y1="689.1" x2="522.22" y2="687.1" stroke="#111" stroke-width="0.9"/>
<line x1="528.32" y1="689.1" x2="528.32" y2="687.1" stroke="#111" stroke-width="0.9"/>
<line x1="532.64" y1="689.1" x2="532.64" y2="687.1" stroke="#111" stroke-width="0.9"/>
<line x1="536" y1="689.1" x2="536" y2="687.1" stroke="#111" stroke-width="0.9"/>
<line x1="538.74" y1="689.1" x2="538.74" y2="687.1" stroke="#111" stroke-width="0.9"/>
<line x1="541.06" y1="689.1" x2="541.06" y2="687.1" stroke="#111" stroke-width="0.9"/>
<line x1="543.06" y1="689.1" x2="543.06" y2="687.1" stroke="#111" stroke-width="0.9"/>
<line x1="544.84" y1="689.1" x2="544.84" y2="687.1" stroke="#111" stroke-width="0.9"/>
<line x1="546.42" y1="689.1" x2="546.42" y2="685.6" stroke="#111" stroke-width="1.2"/>
<text x="535.95" y="704.7" font-size="12.62" fill="#111" text-anchor="start" font-weight="bold" textLength="15.57" lengthAdjust="spacingAndGlyphs">10</text>
<text x="551.43" y="699.7" font-size="9.32" fill="#111" text-anchor="start" font-weight="normal" textLength="4.63" lengthAdjust="spacingAndGlyphs">4</text>
<line x1="556.84" y1="689.1" x2="556.84" y2="687.1" stroke="#111" stroke-width="0.9"/>
<line x1="562.94" y1="689.1" x2="562.94" y2="687.1" stroke="#111" stroke-width="0.9"/>
<line x1="567.26" y1="689.1" x2="567.26" y2="687.1" stroke="#111" stroke-width="0.9"/>
<line x1="570.62" y1="689.1" x2="570.62" y2="687.1" stroke="#111" stroke-width="0.9"/>
<line x1="573.36" y1="689.1" x2="573.36" y2="687.1" stroke="#111" stroke-width="0.9"/>
<line x1="575.68" y1="689.1" x2="575.68" y2="687.1" stroke="#111" stroke-width="0.9"/>
<line x1="577.68" y1="689.1" x2="577.68" y2="687.1" stroke="#111" stroke-width="0.9"/>
<line x1="579.46" y1="689.1" x2="579.46" y2="687.1" stroke="#111" stroke-width="0.9"/>
<line x1="581.04" y1="689.1" x2="581.04" y2="685.6" stroke="#111" stroke-width="1.2"/>
<text x="570.57" y="704.7" font-size="12.62" fill="#111" text-anchor="start" font-weight="bold" textLength="15.57" lengthAdjust="spacingAndGlyphs">10</text>
<text x="585.89" y="699.7" font-size="9.32" fill="#111" text-anchor="start" font-weight="normal" textLength="4.92" lengthAdjust="spacingAndGlyphs">5</text>
<line x1="591.46" y1="689.1" x2="591.46" y2="687.1" stroke="#111" stroke-width="0.9"/>
<line x1="597.56" y1="689.1" x2="597.56" y2="687.1" stroke="#111" stroke-width="0.9"/>
<line x1="601.88" y1="689.1" x2="601.88" y2="687.1" stroke="#111" stroke-width="0.9"/>
<line x1="605.24" y1="689.1" x2="605.24" y2="687.1" stroke="#111" stroke-width="0.9"/>
<line x1="607.98" y1="689.1" x2="607.98" y2="687.1" stroke="#111" stroke-width="0.9"/>
<line x1="610.3" y1="689.1" x2="610.3" y2="687.1" stroke="#111" stroke-width="0.9"/>
<line x1="612.3" y1="689.1" x2="612.3" y2="687.1" stroke="#111" stroke-width="0.9"/>
<line x1="614.08" y1="689.1" x2="614.08" y2="687.1" stroke="#111" stroke-width="0.9"/>
<line x1="615.66" y1="689.1" x2="615.66" y2="685.6" stroke="#111" stroke-width="1.2"/>
<text x="605.19" y="704.7" font-size="12.62" fill="#111" text-anchor="start" font-weight="bold" textLength="15.57" lengthAdjust="spacingAndGlyphs">10</text>
<text x="620.41" y="699.7" font-size="9.32" fill="#111" text-anchor="start" font-weight="normal" textLength="5.05" lengthAdjust="spacingAndGlyphs">6</text>
<line x1="626.08" y1="689.1" x2="626.08" y2="687.1" stroke="#111" stroke-width="0.9"/>
<line x1="632.18" y1="689.1" x2="632.18" y2="687.1" stroke="#111" stroke-width="0.9"/>
<line x1="636.5" y1="689.1" x2="636.5" y2="687.1" stroke="#111" stroke-width="0.9"/>
<line x1="639.86" y1="689.1" x2="639.86" y2="687.1" stroke="#111" stroke-width="0.9"/>
<line x1="642.6" y1="689.1" x2="642.6" y2="687.1" stroke="#111" stroke-width="0.9"/>
<line x1="644.92" y1="689.1" x2="644.92" y2="687.1" stroke="#111" stroke-width="0.9"/>
<line x1="646.92" y1="689.1" x2="646.92" y2="687.1" stroke="#111" stroke-width="0.9"/>
<line x1="648.7" y1="689.1" x2="648.7" y2="687.1" stroke="#111" stroke-width="0.9"/>
<line x1="650.28" y1="689.1" x2="650.28" y2="685.6" stroke="#111" stroke-width="1.2"/>
<text x="639.81" y="704.7" font-size="12.62" fill="#111" text-anchor="start" font-weight="bold" textLength="15.57" lengthAdjust="spacingAndGlyphs">10</text>
<text x="654.99" y="699.7" font-size="9.32" fill="#111" text-anchor="start" font-weight="normal" textLength="5.16" lengthAdjust="spacingAndGlyphs">7</text>
<line x1="660.7" y1="689.1" x2="660.7" y2="687.1" stroke="#111" stroke-width="0.9"/>
<line x1="666.8" y1="689.1" x2="666.8" y2="687.1" stroke="#111" stroke-width="0.9"/>
<line x1="671.12" y1="689.1" x2="671.12" y2="687.1" stroke="#111" stroke-width="0.9"/>
<line x1="674.48" y1="689.1" x2="674.48" y2="687.1" stroke="#111" stroke-width="0.9"/>
<line x1="677.22" y1="689.1" x2="677.22" y2="687.1" stroke="#111" stroke-width="0.9"/>
<line x1="679.54" y1="689.1" x2="679.54" y2="687.1" stroke="#111" stroke-width="0.9"/>
<line x1="681.54" y1="689.1" x2="681.54" y2="687.1" stroke="#111" stroke-width="0.9"/>
<line x1="683.32" y1="689.1" x2="683.32" y2="687.1" stroke="#111" stroke-width="0.9"/>
<line x1="684.9" y1="689.1" x2="684.9" y2="685.6" stroke="#111" stroke-width="1.2"/>
<text x="674.43" y="704.7" font-size="12.62" fill="#111" text-anchor="start" font-weight="bold" textLength="15.57" lengthAdjust="spacingAndGlyphs">10</text>
<text x="689.72" y="699.7" font-size="9.32" fill="#111" text-anchor="start" font-weight="normal" textLength="4.97" lengthAdjust="spacingAndGlyphs">8</text>
<line x1="695.32" y1="689.1" x2="695.32" y2="687.1" stroke="#111" stroke-width="0.9"/>
<line x1="701.42" y1="689.1" x2="701.42" y2="687.1" stroke="#111" stroke-width="0.9"/>
<line x1="705.74" y1="689.1" x2="705.74" y2="687.1" stroke="#111" stroke-width="0.9"/>
<line x1="709.1" y1="689.1" x2="709.1" y2="687.1" stroke="#111" stroke-width="0.9"/>
<line x1="711.84" y1="689.1" x2="711.84" y2="687.1" stroke="#111" stroke-width="0.9"/>
<line x1="714.16" y1="689.1" x2="714.16" y2="687.1" stroke="#111" stroke-width="0.9"/>
<line x1="716.16" y1="689.1" x2="716.16" y2="687.1" stroke="#111" stroke-width="0.9"/>
<line x1="717.94" y1="689.1" x2="717.94" y2="687.1" stroke="#111" stroke-width="0.9"/>
<line x1="719.52" y1="689.1" x2="719.52" y2="685.6" stroke="#111" stroke-width="1.2"/>
<text x="709.05" y="704.7" font-size="12.62" fill="#111" text-anchor="start" font-weight="bold" textLength="15.57" lengthAdjust="spacingAndGlyphs">10</text>
<text x="724.29" y="699.7" font-size="9.32" fill="#111" text-anchor="start" font-weight="normal" textLength="5.05" lengthAdjust="spacingAndGlyphs">9</text>
<text x="553.76" y="725.57" font-size="15.55" fill="#111" text-anchor="start" font-weight="bold" textLength="118.41" lengthAdjust="spacingAndGlyphs">Resistance (Ω)</text>
<text transform="translate(465.87 560.01) rotate(-90)" x="0" y="0" font-size="16.51" fill="#111" font-weight="bold" textLength="163.8" lengthAdjust="spacingAndGlyphs">Power density (W/m²)</text>
<text transform="translate(769.87 513.69) rotate(-90)" x="0" y="0" font-size="16.51" fill="#111" font-weight="bold" textLength="86.57" lengthAdjust="spacingAndGlyphs">Power (mW)</text>
<text x="440.92" y="265.82" font-size="15.34" fill="#111" text-anchor="start" font-weight="bold" textLength="24.06" lengthAdjust="spacingAndGlyphs">(e)</text>
<line x1="517.7" y1="295.3" x2="539.5" y2="295.3" stroke="#505050" stroke-width="1.3"/>
<circle cx="528.6" cy="295.3" r="2.6" fill="#8a8a8a" stroke="#8a8a8a" stroke-width="0.5"/>
<circle cx="527.8" cy="294.5" r="0.91" fill="#fff" opacity="0.45"/>
<text x="542.69" y="298.8" font-size="11.93" fill="#111" text-anchor="start" font-weight="bold" textLength="33.02" lengthAdjust="spacingAndGlyphs">0 kPa</text>
<line x1="517.7" y1="310.58" x2="539.5" y2="310.58" stroke="#7ab040" stroke-width="1.3"/>
<circle cx="528.6" cy="310.58" r="2.6" fill="#4e9a24" stroke="#4e9a24" stroke-width="0.5"/>
<circle cx="527.8" cy="309.78" r="0.91" fill="#fff" opacity="0.45"/>
<text x="542.7" y="314.08" font-size="11.93" fill="#111" text-anchor="start" font-weight="bold" textLength="43.24" lengthAdjust="spacingAndGlyphs">0.1 kPa</text>
<line x1="517.7" y1="325.86" x2="539.5" y2="325.86" stroke="#c86a3c" stroke-width="1.3"/>
<circle cx="528.6" cy="325.86" r="2.6" fill="#e0601e" stroke="#e0601e" stroke-width="0.5"/>
<circle cx="527.8" cy="325.06" r="0.91" fill="#fff" opacity="0.45"/>
<text x="542.7" y="329.36" font-size="11.93" fill="#111" text-anchor="start" font-weight="bold" textLength="43.24" lengthAdjust="spacingAndGlyphs">0.2 kPa</text>
<line x1="517.7" y1="341.14" x2="539.5" y2="341.14" stroke="#6418a8" stroke-width="1.3"/>
<circle cx="528.6" cy="341.14" r="2.6" fill="#7a28c0" stroke="#7a28c0" stroke-width="0.5"/>
<circle cx="527.8" cy="340.34" r="0.91" fill="#fff" opacity="0.45"/>
<text x="542.7" y="344.64" font-size="11.93" fill="#111" text-anchor="start" font-weight="bold" textLength="43.24" lengthAdjust="spacingAndGlyphs">0.3 kPa</text>
<line x1="517.7" y1="356.42" x2="539.5" y2="356.42" stroke="#c09a38" stroke-width="1.3"/>
<circle cx="528.6" cy="356.42" r="2.6" fill="#d0a020" stroke="#d0a020" stroke-width="0.5"/>
<circle cx="527.8" cy="355.62" r="0.91" fill="#fff" opacity="0.45"/>
<text x="542.7" y="359.92" font-size="11.93" fill="#111" text-anchor="start" font-weight="bold" textLength="43.24" lengthAdjust="spacingAndGlyphs">0.4 kPa</text>
<line x1="517.7" y1="371.7" x2="539.5" y2="371.7" stroke="#3a90c0" stroke-width="1.3"/>
<circle cx="528.6" cy="371.7" r="2.6" fill="#2a88c8" stroke="#2a88c8" stroke-width="0.5"/>
<circle cx="527.8" cy="370.9" r="0.91" fill="#fff" opacity="0.45"/>
<text x="542.7" y="375.2" font-size="11.93" fill="#111" text-anchor="start" font-weight="bold" textLength="43.24" lengthAdjust="spacingAndGlyphs">0.5 kPa</text>
<line x1="517.7" y1="386.98" x2="539.5" y2="386.98" stroke="#c8c040" stroke-width="1.1" stroke-dasharray="1.1,1.3"/>
<polygon points="528.6,383.68 529.48,385.77 531.74,385.96 530.03,387.44 530.54,389.65 528.6,388.48 526.66,389.65 527.17,387.44 525.46,385.96 527.72,385.77" fill="#fff" stroke="#c8c040" stroke-width="0.7"/>
<text x="542.7" y="390.48" font-size="11.93" fill="#111" text-anchor="start" font-weight="bold" textLength="43.24" lengthAdjust="spacingAndGlyphs">0.6 kPa</text>
<line x1="517.7" y1="402.26" x2="539.5" y2="402.26" stroke="#40b8c8" stroke-width="1.1" stroke-dasharray="1.1,1.3"/>
<circle cx="528.6" cy="402.26" r="3" fill="#fff" stroke="#40b8c8" stroke-width="0.8"/>
<text x="542.7" y="405.76" font-size="11.93" fill="#111" text-anchor="start" font-weight="bold" textLength="43.24" lengthAdjust="spacingAndGlyphs">0.7 kPa</text>
<line x1="517.7" y1="417.54" x2="539.5" y2="417.54" stroke="#404060" stroke-width="1.1" stroke-dasharray="1.1,1.3"/>
<circle cx="528.6" cy="417.54" r="3" fill="#fff" stroke="#404060" stroke-width="0.8"/>
<text x="542.7" y="421.04" font-size="11.93" fill="#111" text-anchor="start" font-weight="bold" textLength="43.24" lengthAdjust="spacingAndGlyphs">0.8 kPa</text>
<line x1="517.7" y1="432.82" x2="539.5" y2="432.82" stroke="#e8a0a0" stroke-width="1.1" stroke-dasharray="1.1,1.3"/>
<rect x="526" y="430.22" width="5.2" height="5.2" fill="#fff" stroke="#e8a0a0" stroke-width="0.8"/>
<text x="542.7" y="436.32" font-size="11.93" fill="#111" text-anchor="start" font-weight="bold" textLength="43.24" lengthAdjust="spacingAndGlyphs">0.9 kPa</text>
<line x1="517.7" y1="448.1" x2="539.5" y2="448.1" stroke="#503838" stroke-width="1.1" stroke-dasharray="1.1,1.3"/>
<path d="M528.6,444.9 L532,450.5 L525.2,450.5 Z" fill="#fff" stroke="#503838" stroke-width="0.8"/>
<text x="542.41" y="451.6" font-size="11.93" fill="#111" text-anchor="start" font-weight="bold" textLength="43.52" lengthAdjust="spacingAndGlyphs">1.0 kPa</text>
<text x="663" y="322.4" font-size="16.5" fill="#111" text-anchor="middle" font-weight="normal" font-style="italic" stroke="#111" stroke-width="0.45">P</text>
<text x="674.5" y="322" font-size="15" fill="#111" text-anchor="middle" font-weight="normal" stroke="#111" stroke-width="0.3">=</text>
<line x1="680.5" y1="315.7" x2="710.5" y2="315.7" stroke="#111" stroke-width="1.4"/>
<text x="695" y="313.6" font-size="16.5" fill="#111" text-anchor="middle" font-weight="normal" font-style="italic" stroke="#111" stroke-width="0.45">U</text>
<text x="705.8" y="307" font-size="9.5" fill="#111" text-anchor="middle" font-weight="normal" stroke="#111" stroke-width="0.25">2</text>
<text x="696" y="332" font-size="16.5" fill="#111" text-anchor="middle" font-weight="normal" font-style="italic" stroke="#111" stroke-width="0.45">R</text>
<polyline points="854.7,672 855.4,671.98 856.11,671.96 856.81,671.94 857.52,671.92 858.22,671.9 858.92,671.88 859.63,671.86 860.33,671.84 861.04,671.83 861.74,671.81 862.44,671.79 863.15,671.77 863.85,671.76 864.56,671.74 865.26,671.72 865.96,671.71 866.67,671.69 867.37,671.67 868.08,671.66 868.78,671.64 869.48,671.62 870.19,671.6 870.89,671.59 871.6,671.57 872.3,671.55 873,671.53 873.71,671.51 874.41,671.49 875.12,671.47 875.82,671.45 876.52,671.43 877.23,671.41 877.93,671.39 878.64,671.37 879.34,671.34 880.04,671.32 880.75,671.29 881.45,671.27 882.16,671.24 882.86,671.21 883.56,671.19 884.27,671.16 884.97,671.13 885.68,671.09 886.38,671.06 887.08,671.02 887.79,670.99 888.49,670.95 889.2,670.91 889.9,670.86 890.6,670.81 891.31,670.76 892.01,670.71 892.72,670.65 893.42,670.58 894.12,670.51 894.83,670.44 895.53,670.36 896.24,670.28 896.94,670.19 897.64,670.1 898.35,670 899.05,669.89 899.76,669.78 900.46,669.67 901.16,669.55 901.87,669.43 902.57,669.3 903.28,669.17 903.98,669.03 904.68,668.89 905.39,668.74 906.09,668.59 906.8,668.43 907.5,668.27 908.2,668.11 908.91,667.93 909.61,667.76 910.32,667.57 911.02,667.38 911.72,667.18 912.43,666.97 913.13,666.75 913.84,666.52 914.54,666.27 915.24,666.01 915.95,665.72 916.65,665.42 917.36,665.09 918.06,664.74 918.76,664.37 919.47,663.98 920.17,663.56 920.88,663.12 921.58,662.65 922.28,662.17 922.99,661.66 923.69,661.12 924.4,660.56 925.1,659.98 925.8,659.37 926.51,658.74 927.21,658.07 927.92,657.38 928.62,656.65 929.32,655.9 930.03,655.11 930.73,654.3 931.44,653.45 932.14,652.58 932.84,651.67 933.55,650.74 934.25,649.78 934.96,648.79 935.66,647.78 936.36,646.74 937.07,645.68 937.77,644.6 938.48,643.49 939.18,642.36 939.88,641.21 940.59,640.04 941.29,638.85 942,637.64 942.7,636.42 943.4,635.18 944.11,633.92 944.81,632.64 945.52,631.35 946.22,630.04 946.92,628.71 947.63,627.37 948.33,625.99 949.04,624.6 949.74,623.17 950.44,621.72 951.15,620.22 951.85,618.69 952.56,617.11 953.26,615.49 953.96,613.82 954.67,612.1 955.37,610.32 956.08,608.49 956.78,606.61 957.48,604.66 958.19,602.65 958.89,600.57 959.6,598.43 960.3,596.21 961,593.92 961.71,591.55 962.41,589.1 963.12,586.57 963.82,583.96 964.52,581.27 965.23,578.51 965.93,575.67 966.64,572.76 967.34,569.79 968.04,566.75 968.75,563.66 969.45,560.51 970.16,557.32 970.86,554.09 971.56,550.83 972.27,547.53 972.97,544.21 973.68,540.87 974.38,537.51 975.08,534.15 975.79,530.78 976.49,527.41 977.2,524.05 977.9,520.7 978.6,517.36 979.31,514.04 980.01,510.74 980.72,507.47 981.42,504.22 982.12,500.99 982.83,497.78 983.53,494.59 984.24,491.41 984.94,488.24 985.64,485.08 986.35,481.93 987.05,478.79 987.76,475.68 988.46,472.59 989.16,469.56 989.87,466.59 990.57,463.7 991.28,460.91 991.98,458.24 992.68,455.7 993.39,453.31 994.09,451.06 994.8,448.97 995.5,447.02 996.2,445.2 996.91,443.52 997.61,441.94 998.32,440.47 999.02,439.09 999.72,437.78 1000.43,436.53 1001.13,435.34 1001.84,434.21 1002.54,433.11 1003.24,432.06 1003.95,431.04 1004.65,430.06 1005.36,429.11 1006.06,428.18 1006.76,427.28 1007.47,426.4 1008.17,425.54 1008.88,424.7 1009.58,423.88 1010.28,423.07 1010.99,422.27 1011.69,421.48 1012.4,420.7 1013.1,419.92 1013.8,419.14 1014.51,418.36 1015.21,417.57 1015.92,416.79 1016.62,415.99 1017.32,415.18 1018.03,414.36 1018.73,413.53 1019.44,412.68 1020.14,411.82 1020.84,410.95 1021.55,410.07 1022.25,409.18 1022.96,408.3 1023.66,407.42 1024.36,406.56 1025.07,405.73 1025.77,404.93 1026.48,404.17 1027.18,403.46 1027.88,402.81 1028.59,402.22 1029.29,401.69 1030,401.22 1030.7,400.81 1031.4,400.45 1032.11,400.14 1032.81,399.88 1033.52,399.65 1034.22,399.45 1034.92,399.27 1035.63,399.12 1036.33,398.98 1037.04,398.85 1037.74,398.74 1038.44,398.63 1039.15,398.53 1039.85,398.43 1040.56,398.34 1041.26,398.26 1041.96,398.18 1042.67,398.1 1043.37,398.02 1044.08,397.94 1044.78,397.87 1045.48,397.79 1046.19,397.71 1046.89,397.63 1047.6,397.55 1048.3,397.46 1049,397.36 1049.71,397.26 1050.41,397.16 1051.12,397.04 1051.82,396.92 1052.52,396.78 1053.23,396.64 1053.93,396.48 1054.64,396.31 1055.34,396.12 1056.04,395.92 1056.75,395.7 1057.45,395.46 1058.16,395.21 1058.86,394.95 1059.56,394.67 1060.27,394.38 1060.97,394.09 1061.68,393.78 1062.38,393.47 1063.08,393.16 1063.79,392.85 1064.49,392.54 1065.2,392.22 1065.9,391.91" fill="none" stroke="#505050" stroke-width="1.3" stroke-linejoin="round"/>
<polyline points="854.7,672 855.4,671.98 856.11,671.95 856.81,671.93 857.52,671.9 858.22,671.88 858.92,671.85 859.63,671.83 860.33,671.81 861.04,671.78 861.74,671.76 862.44,671.74 863.15,671.72 863.85,671.7 864.56,671.67 865.26,671.65 865.96,671.63 866.67,671.61 867.37,671.59 868.08,671.57 868.78,671.55 869.48,671.53 870.19,671.5 870.89,671.48 871.6,671.46 872.3,671.44 873,671.41 873.71,671.39 874.41,671.37 875.12,671.34 875.82,671.32 876.52,671.29 877.23,671.26 877.93,671.24 878.64,671.21 879.34,671.18 880.04,671.15 880.75,671.12 881.45,671.09 882.16,671.05 882.86,671.02 883.56,670.98 884.27,670.95 884.97,670.91 885.68,670.87 886.38,670.82 887.08,670.78 887.79,670.73 888.49,670.68 889.2,670.63 889.9,670.58 890.6,670.51 891.31,670.45 892.01,670.38 892.72,670.31 893.42,670.22 894.12,670.14 894.83,670.05 895.53,669.95 896.24,669.84 896.94,669.73 897.64,669.61 898.35,669.49 899.05,669.36 899.76,669.23 900.46,669.08 901.16,668.94 901.87,668.78 902.57,668.62 903.28,668.45 903.98,668.28 904.68,668.1 905.39,667.92 906.09,667.73 906.8,667.54 907.5,667.33 908.2,667.13 908.91,666.91 909.61,666.69 910.32,666.46 911.02,666.22 911.72,665.98 912.43,665.72 913.13,665.45 913.84,665.16 914.54,664.86 915.24,664.53 915.95,664.18 916.65,663.81 917.36,663.41 918.06,662.98 918.76,662.53 919.47,662.05 920.17,661.54 920.88,661 921.58,660.43 922.28,659.83 922.99,659.2 923.69,658.53 924.4,657.84 925.1,657.11 925.8,656.35 926.51,655.55 927.21,654.71 927.92,653.82 928.62,652.9 929.32,651.94 930.03,650.93 930.73,649.88 931.44,648.79 932.14,647.65 932.84,646.48 933.55,645.27 934.25,644.02 934.96,642.73 935.66,641.41 936.36,640.06 937.07,638.67 937.77,637.25 938.48,635.8 939.18,634.32 939.88,632.81 940.59,631.28 941.29,629.72 942,628.14 942.7,626.53 943.4,624.91 944.11,623.26 944.81,621.59 945.52,619.9 946.22,618.19 946.92,616.45 947.63,614.69 948.33,612.9 949.04,611.07 949.74,609.21 950.44,607.31 951.15,605.36 951.85,603.35 952.56,601.3 953.26,599.18 953.96,597 954.67,594.76 955.37,592.45 956.08,590.07 956.78,587.63 957.48,585.11 958.19,582.52 958.89,579.86 959.6,577.12 960.3,574.3 961,571.4 961.71,568.42 962.41,565.36 963.12,562.21 963.82,558.98 964.52,555.66 965.23,552.27 965.93,548.79 966.64,545.24 967.34,541.62 968.04,537.93 968.75,534.17 969.45,530.35 970.16,526.47 970.86,522.55 971.56,518.57 972.27,514.55 972.97,510.48 973.68,506.38 974.38,502.25 975.08,498.09 975.79,493.91 976.49,489.7 977.2,485.48 977.9,481.24 978.6,477 979.31,472.74 980.01,468.48 980.72,464.2 981.42,459.91 982.12,455.6 982.83,451.26 983.53,446.89 984.24,442.49 984.94,438.03 985.64,433.53 986.35,428.99 987.05,424.41 987.76,419.8 988.46,415.2 989.16,410.63 989.87,406.12 990.57,401.7 991.28,397.41 991.98,393.28 992.68,389.35 993.39,385.62 994.09,382.11 994.8,378.82 995.5,375.76 996.2,372.9 996.91,370.23 997.61,367.73 998.32,365.37 999.02,363.15 999.72,361.03 1000.43,359.01 1001.13,357.07 1001.84,355.19 1002.54,353.39 1003.24,351.64 1003.95,349.94 1004.65,348.3 1005.36,346.71 1006.06,345.16 1006.76,343.66 1007.47,342.2 1008.17,340.78 1008.88,339.41 1009.58,338.07 1010.28,336.77 1010.99,335.51 1011.69,334.28 1012.4,333.09 1013.1,331.92 1013.8,330.79 1014.51,329.68 1015.21,328.6 1015.92,327.55 1016.62,326.52 1017.32,325.51 1018.03,324.52 1018.73,323.55 1019.44,322.59 1020.14,321.66 1020.84,320.74 1021.55,319.85 1022.25,318.98 1022.96,318.13 1023.66,317.31 1024.36,316.52 1025.07,315.76 1025.77,315.05 1026.48,314.38 1027.18,313.76 1027.88,313.18 1028.59,312.65 1029.29,312.18 1030,311.75 1030.7,311.36 1031.4,311.01 1032.11,310.71 1032.81,310.43 1033.52,310.18 1034.22,309.95 1034.92,309.74 1035.63,309.54 1036.33,309.36 1037.04,309.19 1037.74,309.03 1038.44,308.88 1039.15,308.73 1039.85,308.59 1040.56,308.46 1041.26,308.33 1041.96,308.21 1042.67,308.09 1043.37,307.97 1044.08,307.86 1044.78,307.76 1045.48,307.65 1046.19,307.55 1046.89,307.44 1047.6,307.34 1048.3,307.24 1049,307.14 1049.71,307.04 1050.41,306.94 1051.12,306.84 1051.82,306.73 1052.52,306.63 1053.23,306.52 1053.93,306.41 1054.64,306.3 1055.34,306.19 1056.04,306.08 1056.75,305.97 1057.45,305.86 1058.16,305.75 1058.86,305.64 1059.56,305.53 1060.27,305.42 1060.97,305.31 1061.68,305.2 1062.38,305.09 1063.08,304.98 1063.79,304.87 1064.49,304.76 1065.2,304.65 1065.9,304.55" fill="none" stroke="#7ab040" stroke-width="1.3" stroke-linejoin="round"/>
<polyline points="854.7,672 855.4,671.98 856.11,671.95 856.81,671.93 857.52,671.9 858.22,671.88 858.92,671.85 859.63,671.83 860.33,671.81 861.04,671.78 861.74,671.76 862.44,671.74 863.15,671.72 863.85,671.7 864.56,671.67 865.26,671.65 865.96,671.63 866.67,671.61 867.37,671.59 868.08,671.57 868.78,671.55 869.48,671.53 870.19,671.5 870.89,671.48 871.6,671.46 872.3,671.44 873,671.41 873.71,671.39 874.41,671.37 875.12,671.34 875.82,671.32 876.52,671.29 877.23,671.26 877.93,671.24 878.64,671.21 879.34,671.18 880.04,671.15 880.75,671.12 881.45,671.09 882.16,671.05 882.86,671.02 883.56,670.98 884.27,670.95 884.97,670.91 885.68,670.87 886.38,670.82 887.08,670.78 887.79,670.73 888.49,670.68 889.2,670.63 889.9,670.58 890.6,670.52 891.31,670.45 892.01,670.38 892.72,670.31 893.42,670.23 894.12,670.15 894.83,670.05 895.53,669.96 896.24,669.85 896.94,669.75 897.64,669.63 898.35,669.51 899.05,669.38 899.76,669.25 900.46,669.11 901.16,668.96 901.87,668.81 902.57,668.65 903.28,668.48 903.98,668.31 904.68,668.13 905.39,667.95 906.09,667.76 906.8,667.56 907.5,667.36 908.2,667.15 908.91,666.94 909.61,666.71 910.32,666.48 911.02,666.24 911.72,665.99 912.43,665.72 913.13,665.44 913.84,665.14 914.54,664.81 915.24,664.47 915.95,664.1 916.65,663.7 917.36,663.27 918.06,662.8 918.76,662.31 919.47,661.78 920.17,661.23 920.88,660.64 921.58,660.02 922.28,659.36 922.99,658.68 923.69,657.97 924.4,657.22 925.1,656.44 925.8,655.63 926.51,654.77 927.21,653.89 927.92,652.96 928.62,651.99 929.32,650.98 930.03,649.93 930.73,648.84 931.44,647.71 932.14,646.54 932.84,645.33 933.55,644.08 934.25,642.79 934.96,641.47 935.66,640.11 936.36,638.71 937.07,637.28 937.77,635.81 938.48,634.32 939.18,632.79 939.88,631.23 940.59,629.64 941.29,628.02 942,626.37 942.7,624.7 943.4,622.99 944.11,621.27 944.81,619.51 945.52,617.73 946.22,615.91 946.92,614.06 947.63,612.18 948.33,610.25 949.04,608.28 949.74,606.26 950.44,604.18 951.15,602.04 951.85,599.83 952.56,597.54 953.26,595.19 953.96,592.75 954.67,590.24 955.37,587.66 956.08,584.99 956.78,582.26 957.48,579.45 958.19,576.56 958.89,573.6 959.6,570.57 960.3,567.46 961,564.28 961.71,561.03 962.41,557.69 963.12,554.28 963.82,550.8 964.52,547.23 965.23,543.59 965.93,539.88 966.64,536.1 967.34,532.24 968.04,528.32 968.75,524.34 969.45,520.29 970.16,516.19 970.86,512.03 971.56,507.82 972.27,503.56 972.97,499.26 973.68,494.91 974.38,490.52 975.08,486.1 975.79,481.64 976.49,477.15 977.2,472.63 977.9,468.09 978.6,463.52 979.31,458.92 980.01,454.29 980.72,449.63 981.42,444.92 982.12,440.17 982.83,435.35 983.53,430.45 984.24,425.47 984.94,420.4 985.64,415.23 986.35,409.96 987.05,404.62 987.76,399.24 988.46,393.83 989.16,388.46 989.87,383.18 990.57,378.03 991.28,373.08 991.98,368.37 992.68,363.95 993.39,359.85 994.09,356.08 994.8,352.66 995.5,349.56 996.2,346.76 996.91,344.25 997.61,341.97 998.32,339.9 999.02,338 999.72,336.25 1000.43,334.6 1001.13,333.05 1001.84,331.59 1002.54,330.18 1003.24,328.84 1003.95,327.56 1004.65,326.32 1005.36,325.14 1006.06,324 1006.76,322.9 1007.47,321.85 1008.17,320.84 1008.88,319.87 1009.58,318.94 1010.28,318.05 1010.99,317.19 1011.69,316.37 1012.4,315.58 1013.1,314.82 1013.8,314.09 1014.51,313.4 1015.21,312.73 1015.92,312.08 1016.62,311.46 1017.32,310.87 1018.03,310.29 1018.73,309.74 1019.44,309.2 1020.14,308.68 1020.84,308.18 1021.55,307.7 1022.25,307.23 1022.96,306.79 1023.66,306.37 1024.36,305.96 1025.07,305.58 1025.77,305.23 1026.48,304.9 1027.18,304.61 1027.88,304.34 1028.59,304.1 1029.29,303.89 1030,303.71 1030.7,303.55 1031.4,303.42 1032.11,303.31 1032.81,303.21 1033.52,303.13 1034.22,303.06 1034.92,303 1035.63,302.94 1036.33,302.9 1037.04,302.85 1037.74,302.81 1038.44,302.78 1039.15,302.74 1039.85,302.71 1040.56,302.68 1041.26,302.65 1041.96,302.63 1042.67,302.6 1043.37,302.58 1044.08,302.55 1044.78,302.53 1045.48,302.5 1046.19,302.48 1046.89,302.45 1047.6,302.43 1048.3,302.4 1049,302.37 1049.71,302.34 1050.41,302.31 1051.12,302.27 1051.82,302.24 1052.52,302.2 1053.23,302.16 1053.93,302.11 1054.64,302.07 1055.34,302.01 1056.04,301.96 1056.75,301.9 1057.45,301.84 1058.16,301.78 1058.86,301.71 1059.56,301.64 1060.27,301.57 1060.97,301.49 1061.68,301.42 1062.38,301.34 1063.08,301.26 1063.79,301.19 1064.49,301.11 1065.2,301.03 1065.9,300.96" fill="none" stroke="#c86a3c" stroke-width="1.3" stroke-linejoin="round"/>
<polyline points="854.7,672 855.4,671.98 856.11,671.95 856.81,671.93 857.52,671.9 858.22,671.88 858.92,671.85 859.63,671.83 860.33,671.81 861.04,671.78 861.74,671.76 862.44,671.74 863.15,671.72 863.85,671.7 864.56,671.68 865.26,671.66 865.96,671.63 866.67,671.61 867.37,671.59 868.08,671.57 868.78,671.55 869.48,671.53 870.19,671.51 870.89,671.49 871.6,671.46 872.3,671.44 873,671.42 873.71,671.4 874.41,671.37 875.12,671.35 875.82,671.32 876.52,671.3 877.23,671.27 877.93,671.24 878.64,671.21 879.34,671.18 880.04,671.15 880.75,671.12 881.45,671.09 882.16,671.06 882.86,671.02 883.56,670.99 884.27,670.95 884.97,670.91 885.68,670.87 886.38,670.83 887.08,670.78 887.79,670.73 888.49,670.68 889.2,670.63 889.9,670.57 890.6,670.51 891.31,670.44 892.01,670.37 892.72,670.29 893.42,670.21 894.12,670.12 894.83,670.02 895.53,669.92 896.24,669.81 896.94,669.69 897.64,669.56 898.35,669.43 899.05,669.29 899.76,669.15 900.46,669 901.16,668.84 901.87,668.67 902.57,668.5 903.28,668.32 903.98,668.14 904.68,667.94 905.39,667.75 906.09,667.54 906.8,667.33 907.5,667.11 908.2,666.89 908.91,666.65 909.61,666.41 910.32,666.16 911.02,665.91 911.72,665.64 912.43,665.35 913.13,665.06 913.84,664.74 914.54,664.4 915.24,664.04 915.95,663.65 916.65,663.24 917.36,662.79 918.06,662.31 918.76,661.8 919.47,661.26 920.17,660.68 920.88,660.07 921.58,659.43 922.28,658.75 922.99,658.04 923.69,657.3 924.4,656.52 925.1,655.71 925.8,654.86 926.51,653.96 927.21,653.03 927.92,652.05 928.62,651.03 929.32,649.96 930.03,648.85 930.73,647.69 931.44,646.49 932.14,645.24 932.84,643.94 933.55,642.61 934.25,641.23 934.96,639.81 935.66,638.36 936.36,636.86 937.07,635.33 937.77,633.76 938.48,632.15 939.18,630.51 939.88,628.83 940.59,627.13 941.29,625.39 942,623.62 942.7,621.83 943.4,620 944.11,618.15 944.81,616.26 945.52,614.35 946.22,612.4 946.92,610.42 947.63,608.4 948.33,606.34 949.04,604.22 949.74,602.05 950.44,599.82 951.15,597.52 951.85,595.15 952.56,592.7 953.26,590.18 953.96,587.57 954.67,584.88 955.37,582.1 956.08,579.25 956.78,576.33 957.48,573.32 958.19,570.24 958.89,567.09 959.6,563.87 960.3,560.57 961,557.2 961.71,553.75 962.41,550.23 963.12,546.64 963.82,542.97 964.52,539.23 965.23,535.41 965.93,531.53 966.64,527.57 967.34,523.54 968.04,519.45 968.75,515.29 969.45,511.07 970.16,506.79 970.86,502.46 971.56,498.07 972.27,493.62 972.97,489.13 973.68,484.59 974.38,480.01 975.08,475.38 975.79,470.72 976.49,466.02 977.2,461.28 977.9,456.5 978.6,451.69 979.31,446.84 980.01,441.95 980.72,437 981.42,432 982.12,426.91 982.83,421.74 983.53,416.45 984.24,411.04 984.94,405.49 985.64,399.81 986.35,394 987.05,388.08 987.76,382.09 988.46,376.08 989.16,370.12 989.87,364.27 990.57,358.61 991.28,353.22 991.98,348.16 992.68,343.5 993.39,339.26 994.09,335.47 994.8,332.14 995.5,329.24 996.2,326.74 996.91,324.59 997.61,322.75 998.32,321.16 999.02,319.76 999.72,318.53 1000.43,317.42 1001.13,316.4 1001.84,315.45 1002.54,314.57 1003.24,313.73 1003.95,312.93 1004.65,312.18 1005.36,311.45 1006.06,310.77 1006.76,310.11 1007.47,309.49 1008.17,308.9 1008.88,308.35 1009.58,307.83 1010.28,307.34 1010.99,306.88 1011.69,306.45 1012.4,306.05 1013.1,305.68 1013.8,305.34 1014.51,305.03 1015.21,304.75 1015.92,304.49 1016.62,304.26 1017.32,304.06 1018.03,303.88 1018.73,303.72 1019.44,303.58 1020.14,303.46 1020.84,303.36 1021.55,303.27 1022.25,303.19 1022.96,303.12 1023.66,303.06 1024.36,303.01 1025.07,302.96 1025.77,302.91 1026.48,302.87 1027.18,302.82 1027.88,302.77 1028.59,302.72 1029.29,302.67 1030,302.62 1030.7,302.56 1031.4,302.49 1032.11,302.43 1032.81,302.35 1033.52,302.28 1034.22,302.19 1034.92,302.11 1035.63,302.02 1036.33,301.92 1037.04,301.82 1037.74,301.72 1038.44,301.62 1039.15,301.51 1039.85,301.41 1040.56,301.3 1041.26,301.19 1041.96,301.08 1042.67,300.97 1043.37,300.85 1044.08,300.74 1044.78,300.63 1045.48,300.52 1046.19,300.42 1046.89,300.31 1047.6,300.21 1048.3,300.11 1049,300.01 1049.71,299.92 1050.41,299.83 1051.12,299.75 1051.82,299.67 1052.52,299.59 1053.23,299.52 1053.93,299.45 1054.64,299.39 1055.34,299.33 1056.04,299.28 1056.75,299.23 1057.45,299.18 1058.16,299.13 1058.86,299.09 1059.56,299.05 1060.27,299.01 1060.97,298.98 1061.68,298.94 1062.38,298.91 1063.08,298.87 1063.79,298.84 1064.49,298.8 1065.2,298.77 1065.9,298.73" fill="none" stroke="#6418a8" stroke-width="1.3" stroke-linejoin="round"/>
<polyline points="854.7,672 855.4,671.98 856.11,671.95 856.81,671.93 857.52,671.9 858.22,671.88 858.92,671.85 859.63,671.83 860.33,671.81 861.04,671.78 861.74,671.76 862.44,671.74 863.15,671.72 863.85,671.7 864.56,671.68 865.26,671.66 865.96,671.64 866.67,671.61 867.37,671.59 868.08,671.57 868.78,671.55 869.48,671.53 870.19,671.51 870.89,671.49 871.6,671.47 872.3,671.44 873,671.42 873.71,671.4 874.41,671.37 875.12,671.35 875.82,671.32 876.52,671.3 877.23,671.27 877.93,671.24 878.64,671.22 879.34,671.19 880.04,671.16 880.75,671.12 881.45,671.09 882.16,671.06 882.86,671.02 883.56,670.99 884.27,670.95 884.97,670.91 885.68,670.87 886.38,670.83 887.08,670.78 887.79,670.73 888.49,670.68 889.2,670.63 889.9,670.57 890.6,670.51 891.31,670.44 892.01,670.36 892.72,670.28 893.42,670.19 894.12,670.1 894.83,670 895.53,669.89 896.24,669.78 896.94,669.65 897.64,669.52 898.35,669.39 899.05,669.24 899.76,669.09 900.46,668.93 901.16,668.76 901.87,668.59 902.57,668.41 903.28,668.22 903.98,668.03 904.68,667.83 905.39,667.62 906.09,667.4 906.8,667.18 907.5,666.95 908.2,666.72 908.91,666.47 909.61,666.22 910.32,665.96 911.02,665.69 911.72,665.41 912.43,665.11 913.13,664.8 913.84,664.47 914.54,664.11 915.24,663.73 915.95,663.33 916.65,662.89 917.36,662.42 918.06,661.92 918.76,661.38 919.47,660.81 920.17,660.21 920.88,659.57 921.58,658.9 922.28,658.19 922.99,657.45 923.69,656.68 924.4,655.87 925.1,655.02 925.8,654.13 926.51,653.2 927.21,652.24 927.92,651.22 928.62,650.17 929.32,649.07 930.03,647.92 930.73,646.73 931.44,645.49 932.14,644.2 932.84,642.88 933.55,641.5 934.25,640.09 934.96,638.63 935.66,637.13 936.36,635.58 937.07,634 937.77,632.38 938.48,630.72 939.18,629.03 939.88,627.29 940.59,625.53 941.29,623.72 942,621.88 942.7,620.01 943.4,618.11 944.11,616.17 944.81,614.19 945.52,612.18 946.22,610.13 946.92,608.04 947.63,605.89 948.33,603.69 949.04,601.43 949.74,599.1 950.44,596.69 951.15,594.2 951.85,591.62 952.56,588.95 953.26,586.18 953.96,583.31 954.67,580.35 955.37,577.3 956.08,574.16 956.78,570.94 957.48,567.63 958.19,564.25 958.89,560.79 959.6,557.25 960.3,553.64 961,549.95 961.71,546.19 962.41,542.35 963.12,538.43 963.82,534.43 964.52,530.36 965.23,526.21 965.93,521.98 966.64,517.68 967.34,513.31 968.04,508.88 968.75,504.38 969.45,499.82 970.16,495.2 970.86,490.54 971.56,485.82 972.27,481.06 972.97,476.25 973.68,471.41 974.38,466.54 975.08,461.64 975.79,456.71 976.49,451.76 977.2,446.79 977.9,441.8 978.6,436.79 979.31,431.77 980.01,426.73 980.72,421.65 981.42,416.55 982.12,411.39 982.83,406.18 983.53,400.89 984.24,395.51 984.94,390.04 985.64,384.47 986.35,378.82 987.05,373.09 987.76,367.34 988.46,361.6 989.16,355.94 989.87,350.42 990.57,345.12 991.28,340.1 991.98,335.42 992.68,331.15 993.39,327.3 994.09,323.91 994.8,320.95 995.5,318.43 996.2,316.29 996.91,314.49 997.61,312.99 998.32,311.72 999.02,310.64 999.72,309.71 1000.43,308.89 1001.13,308.15 1001.84,307.48 1002.54,306.85 1003.24,306.26 1003.95,305.71 1004.65,305.18 1005.36,304.68 1006.06,304.21 1006.76,303.76 1007.47,303.33 1008.17,302.93 1008.88,302.55 1009.58,302.2 1010.28,301.87 1010.99,301.56 1011.69,301.27 1012.4,301.01 1013.1,300.76 1013.8,300.54 1014.51,300.34 1015.21,300.16 1015.92,300 1016.62,299.86 1017.32,299.74 1018.03,299.63 1018.73,299.54 1019.44,299.46 1020.14,299.4 1020.84,299.34 1021.55,299.3 1022.25,299.26 1022.96,299.23 1023.66,299.2 1024.36,299.18 1025.07,299.16 1025.77,299.14 1026.48,299.12 1027.18,299.1 1027.88,299.07 1028.59,299.05 1029.29,299.02 1030,298.99 1030.7,298.95 1031.4,298.91 1032.11,298.87 1032.81,298.81 1033.52,298.75 1034.22,298.69 1034.92,298.62 1035.63,298.54 1036.33,298.46 1037.04,298.37 1037.74,298.28 1038.44,298.18 1039.15,298.08 1039.85,297.98 1040.56,297.87 1041.26,297.76 1041.96,297.65 1042.67,297.54 1043.37,297.43 1044.08,297.32 1044.78,297.21 1045.48,297.1 1046.19,297 1046.89,296.89 1047.6,296.79 1048.3,296.7 1049,296.6 1049.71,296.52 1050.41,296.43 1051.12,296.36 1051.82,296.29 1052.52,296.22 1053.23,296.16 1053.93,296.11 1054.64,296.06 1055.34,296.02 1056.04,295.98 1056.75,295.95 1057.45,295.92 1058.16,295.89 1058.86,295.87 1059.56,295.85 1060.27,295.83 1060.97,295.81 1061.68,295.79 1062.38,295.77 1063.08,295.76 1063.79,295.74 1064.49,295.72 1065.2,295.7 1065.9,295.69" fill="none" stroke="#c09a38" stroke-width="1.3" stroke-linejoin="round"/>
<polyline points="854.7,672 855.4,671.98 856.11,671.95 856.81,671.93 857.52,671.9 858.22,671.88 858.92,671.85 859.63,671.83 860.33,671.81 861.04,671.79 861.74,671.76 862.44,671.74 863.15,671.72 863.85,671.7 864.56,671.68 865.26,671.66 865.96,671.64 866.67,671.62 867.37,671.6 868.08,671.58 868.78,671.55 869.48,671.53 870.19,671.51 870.89,671.49 871.6,671.47 872.3,671.45 873,671.42 873.71,671.4 874.41,671.38 875.12,671.35 875.82,671.33 876.52,671.3 877.23,671.27 877.93,671.25 878.64,671.22 879.34,671.19 880.04,671.16 880.75,671.13 881.45,671.1 882.16,671.06 882.86,671.03 883.56,670.99 884.27,670.95 884.97,670.91 885.68,670.87 886.38,670.83 887.08,670.78 887.79,670.73 888.49,670.68 889.2,670.63 889.9,670.56 890.6,670.5 891.31,670.43 892.01,670.35 892.72,670.27 893.42,670.17 894.12,670.08 894.83,669.97 895.53,669.85 896.24,669.73 896.94,669.6 897.64,669.46 898.35,669.32 899.05,669.16 899.76,669 900.46,668.83 901.16,668.65 901.87,668.47 902.57,668.27 903.28,668.07 903.98,667.86 904.68,667.65 905.39,667.42 906.09,667.19 906.8,666.96 907.5,666.71 908.2,666.46 908.91,666.2 909.61,665.93 910.32,665.65 911.02,665.36 911.72,665.06 912.43,664.74 913.13,664.41 913.84,664.06 914.54,663.68 915.24,663.28 915.95,662.84 916.65,662.38 917.36,661.88 918.06,661.35 918.76,660.78 919.47,660.17 920.17,659.53 920.88,658.85 921.58,658.14 922.28,657.39 922.99,656.61 923.69,655.79 924.4,654.94 925.1,654.04 925.8,653.11 926.51,652.14 927.21,651.12 927.92,650.06 928.62,648.95 929.32,647.8 930.03,646.61 930.73,645.36 931.44,644.07 932.14,642.73 932.84,641.35 933.55,639.93 934.25,638.45 934.96,636.94 935.66,635.38 936.36,633.78 937.07,632.14 937.77,630.46 938.48,628.74 939.18,626.99 939.88,625.19 940.59,623.36 941.29,621.5 942,619.59 942.7,617.66 943.4,615.69 944.11,613.68 944.81,611.64 945.52,609.56 946.22,607.43 946.92,605.27 947.63,603.05 948.33,600.78 949.04,598.44 949.74,596.03 950.44,593.54 951.15,590.97 951.85,588.3 952.56,585.54 953.26,582.68 953.96,579.73 954.67,576.68 955.37,573.53 956.08,570.3 956.78,566.98 957.48,563.58 958.19,560.1 958.89,556.54 959.6,552.91 960.3,549.2 961,545.41 961.71,541.54 962.41,537.6 963.12,533.57 963.82,529.47 964.52,525.28 965.23,521.02 965.93,516.68 966.64,512.27 967.34,507.78 968.04,503.23 968.75,498.62 969.45,493.95 970.16,489.22 970.86,484.45 971.56,479.63 972.27,474.77 972.97,469.87 973.68,464.94 974.38,459.99 975.08,455.01 975.79,450.01 976.49,445 977.2,439.98 977.9,434.95 978.6,429.91 979.31,424.87 980.01,419.82 980.72,414.75 981.42,409.66 982.12,404.55 982.83,399.39 983.53,394.18 984.24,388.9 984.94,383.54 985.64,378.11 986.35,372.62 987.05,367.08 987.76,361.53 988.46,356.01 989.16,350.58 989.87,345.29 990.57,340.23 991.28,335.44 991.98,330.99 992.68,326.93 993.39,323.29 994.09,320.08 994.8,317.3 995.5,314.93 996.2,312.94 996.91,311.27 997.61,309.89 998.32,308.75 999.02,307.79 999.72,306.97 1000.43,306.26 1001.13,305.64 1001.84,305.08 1002.54,304.56 1003.24,304.09 1003.95,303.64 1004.65,303.22 1005.36,302.83 1006.06,302.45 1006.76,302.1 1007.47,301.76 1008.17,301.44 1008.88,301.13 1009.58,300.84 1010.28,300.55 1010.99,300.28 1011.69,300.02 1012.4,299.76 1013.1,299.51 1013.8,299.26 1014.51,299.01 1015.21,298.77 1015.92,298.52 1016.62,298.28 1017.32,298.04 1018.03,297.79 1018.73,297.54 1019.44,297.29 1020.14,297.03 1020.84,296.78 1021.55,296.53 1022.25,296.28 1022.96,296.03 1023.66,295.78 1024.36,295.55 1025.07,295.32 1025.77,295.09 1026.48,294.88 1027.18,294.68 1027.88,294.5 1028.59,294.32 1029.29,294.16 1030,294 1030.7,293.86 1031.4,293.73 1032.11,293.61 1032.81,293.5 1033.52,293.39 1034.22,293.29 1034.92,293.2 1035.63,293.1 1036.33,293.02 1037.04,292.93 1037.74,292.85 1038.44,292.77 1039.15,292.7 1039.85,292.62 1040.56,292.55 1041.26,292.48 1041.96,292.41 1042.67,292.35 1043.37,292.29 1044.08,292.23 1044.78,292.17 1045.48,292.11 1046.19,292.06 1046.89,292.01 1047.6,291.96 1048.3,291.91 1049,291.87 1049.71,291.83 1050.41,291.79 1051.12,291.75 1051.82,291.71 1052.52,291.68 1053.23,291.64 1053.93,291.61 1054.64,291.58 1055.34,291.55 1056.04,291.53 1056.75,291.5 1057.45,291.48 1058.16,291.46 1058.86,291.44 1059.56,291.42 1060.27,291.4 1060.97,291.38 1061.68,291.36 1062.38,291.35 1063.08,291.33 1063.79,291.31 1064.49,291.29 1065.2,291.28 1065.9,291.26" fill="none" stroke="#3a90c0" stroke-width="1.3" stroke-linejoin="round"/>
<polyline points="854.7,672 855.4,671.98 856.11,671.95 856.81,671.93 857.52,671.9 858.22,671.88 858.92,671.85 859.63,671.83 860.33,671.81 861.04,671.78 861.74,671.76 862.44,671.74 863.15,671.72 863.85,671.7 864.56,671.67 865.26,671.65 865.96,671.63 866.67,671.61 867.37,671.59 868.08,671.57 868.78,671.55 869.48,671.53 870.19,671.5 870.89,671.48 871.6,671.46 872.3,671.44 873,671.41 873.71,671.39 874.41,671.37 875.12,671.34 875.82,671.32 876.52,671.29 877.23,671.26 877.93,671.24 878.64,671.21 879.34,671.18 880.04,671.15 880.75,671.12 881.45,671.09 882.16,671.05 882.86,671.02 883.56,670.98 884.27,670.95 884.97,670.91 885.68,670.87 886.38,670.82 887.08,670.78 887.79,670.73 888.49,670.68 889.2,670.63 889.9,670.57 890.6,670.51 891.31,670.45 892.01,670.38 892.72,670.3 893.42,670.22 894.12,670.13 894.83,670.04 895.53,669.94 896.24,669.83 896.94,669.72 897.64,669.6 898.35,669.47 899.05,669.34 899.76,669.2 900.46,669.06 901.16,668.91 901.87,668.75 902.57,668.59 903.28,668.42 903.98,668.25 904.68,668.07 905.39,667.89 906.09,667.7 906.8,667.5 907.5,667.3 908.2,667.09 908.91,666.88 909.61,666.66 910.32,666.44 911.02,666.21 911.72,665.97 912.43,665.72 913.13,665.46 913.84,665.18 914.54,664.9 915.24,664.59 915.95,664.27 916.65,663.92 917.36,663.56 918.06,663.17 918.76,662.75 919.47,662.32 920.17,661.85 920.88,661.36 921.58,660.84 922.28,660.29 922.99,659.71 923.69,659.1 924.4,658.46 925.1,657.78 925.8,657.06 926.51,656.3 927.21,655.5 927.92,654.65 928.62,653.76 929.32,652.82 930.03,651.84 930.73,650.82 931.44,649.75 932.14,648.63 932.84,647.48 933.55,646.28 934.25,645.04 934.96,643.77 935.66,642.45 936.36,641.11 937.07,639.73 937.77,638.32 938.48,636.87 939.18,635.4 939.88,633.9 940.59,632.38 941.29,630.83 942,629.27 942.7,627.67 943.4,626.06 944.11,624.43 944.81,622.79 945.52,621.12 946.22,619.44 946.92,617.73 947.63,616.01 948.33,614.26 949.04,612.49 949.74,610.68 950.44,608.84 951.15,606.96 951.85,605.03 952.56,603.06 953.26,601.03 953.96,598.94 954.67,596.79 955.37,594.58 956.08,592.3 956.78,589.95 957.48,587.53 958.19,585.03 958.89,582.47 959.6,579.82 960.3,577.1 961,574.31 961.71,571.43 962.41,568.48 963.12,565.44 963.82,562.33 964.52,559.14 965.23,555.87 965.93,552.52 966.64,549.1 967.34,545.6 968.04,542.03 968.75,538.38 969.45,534.66 970.16,530.86 970.86,527 971.56,523.06 972.27,519.05 972.97,514.97 973.68,510.83 974.38,506.61 975.08,502.33 975.79,497.99 976.49,493.58 977.2,489.1 977.9,484.55 978.6,479.94 979.31,475.24 980.01,470.45 980.72,465.56 981.42,460.54 982.12,455.38 982.83,450.05 983.53,444.51 984.24,438.75 984.94,432.74 985.64,426.48 986.35,419.98 987.05,413.25 987.76,406.37 988.46,399.38 989.16,392.39 989.87,385.49 990.57,378.8 991.28,372.42 991.98,366.45 992.68,360.98 993.39,356.06 994.09,351.72 994.8,347.98 995.5,344.8 996.2,342.15 996.91,339.96 997.61,338.17 998.32,336.69 999.02,335.48 999.72,334.45 1000.43,333.58 1001.13,332.81 1001.84,332.12 1002.54,331.48 1003.24,330.89 1003.95,330.34 1004.65,329.82 1005.36,329.32 1006.06,328.86 1006.76,328.41 1007.47,327.99 1008.17,327.6 1008.88,327.23 1009.58,326.88 1010.28,326.56 1010.99,326.26 1011.69,325.98 1012.4,325.72 1013.1,325.49 1013.8,325.27 1014.51,325.08 1015.21,324.91 1015.92,324.75 1016.62,324.61 1017.32,324.49 1018.03,324.39 1018.73,324.3 1019.44,324.22 1020.14,324.15 1020.84,324.1 1021.55,324.05 1022.25,324.01 1022.96,323.98 1023.66,323.95 1024.36,323.92 1025.07,323.9 1025.77,323.88 1026.48,323.86 1027.18,323.85 1027.88,323.83 1028.59,323.82 1029.29,323.82 1030,323.81 1030.7,323.81 1031.4,323.81 1032.11,323.81 1032.81,323.82 1033.52,323.83 1034.22,323.84 1034.92,323.85 1035.63,323.86 1036.33,323.87 1037.04,323.89 1037.74,323.91 1038.44,323.93 1039.15,323.95 1039.85,323.97 1040.56,323.99 1041.26,324.01 1041.96,324.03 1042.67,324.05 1043.37,324.07 1044.08,324.1 1044.78,324.12 1045.48,324.14 1046.19,324.16 1046.89,324.18 1047.6,324.2 1048.3,324.22 1049,324.23 1049.71,324.25 1050.41,324.26 1051.12,324.27 1051.82,324.28 1052.52,324.28 1053.23,324.27 1053.93,324.26 1054.64,324.24 1055.34,324.21 1056.04,324.17 1056.75,324.12 1057.45,324.06 1058.16,323.99 1058.86,323.9 1059.56,323.8 1060.27,323.7 1060.97,323.58 1061.68,323.47 1062.38,323.34 1063.08,323.22 1063.79,323.09 1064.49,322.96 1065.2,322.84 1065.9,322.71" fill="none" stroke="#c8c040" stroke-width="1.3" stroke-dasharray="1.4,1.4" stroke-linejoin="round"/>
<polyline points="854.7,672 855.4,671.98 856.11,671.95 856.81,671.93 857.52,671.9 858.22,671.88 858.92,671.85 859.63,671.83 860.33,671.8 861.04,671.78 861.74,671.76 862.44,671.74 863.15,671.71 863.85,671.69 864.56,671.67 865.26,671.65 865.96,671.63 866.67,671.61 867.37,671.59 868.08,671.56 868.78,671.54 869.48,671.52 870.19,671.5 870.89,671.48 871.6,671.45 872.3,671.43 873,671.41 873.71,671.38 874.41,671.36 875.12,671.34 875.82,671.31 876.52,671.28 877.23,671.26 877.93,671.23 878.64,671.2 879.34,671.17 880.04,671.14 880.75,671.11 881.45,671.08 882.16,671.05 882.86,671.01 883.56,670.98 884.27,670.94 884.97,670.9 885.68,670.86 886.38,670.82 887.08,670.78 887.79,670.73 888.49,670.69 889.2,670.63 889.9,670.58 890.6,670.52 891.31,670.46 892.01,670.4 892.72,670.33 893.42,670.26 894.12,670.18 894.83,670.09 895.53,670 896.24,669.91 896.94,669.81 897.64,669.71 898.35,669.6 899.05,669.48 899.76,669.36 900.46,669.24 901.16,669.11 901.87,668.97 902.57,668.83 903.28,668.69 903.98,668.54 904.68,668.38 905.39,668.22 906.09,668.06 906.8,667.89 907.5,667.71 908.2,667.53 908.91,667.35 909.61,667.16 910.32,666.96 911.02,666.76 911.72,666.55 912.43,666.33 913.13,666.1 913.84,665.86 914.54,665.6 915.24,665.33 915.95,665.04 916.65,664.73 917.36,664.41 918.06,664.06 918.76,663.69 919.47,663.29 920.17,662.87 920.88,662.43 921.58,661.96 922.28,661.47 922.99,660.94 923.69,660.39 924.4,659.81 925.1,659.19 925.8,658.54 926.51,657.85 927.21,657.13 927.92,656.36 928.62,655.55 929.32,654.7 930.03,653.81 930.73,652.88 931.44,651.91 932.14,650.89 932.84,649.84 933.55,648.75 934.25,647.62 934.96,646.46 935.66,645.26 936.36,644.04 937.07,642.78 937.77,641.49 938.48,640.17 939.18,638.83 939.88,637.47 940.59,636.08 941.29,634.66 942,633.23 942.7,631.78 943.4,630.31 944.11,628.82 944.81,627.31 945.52,625.79 946.22,624.26 946.92,622.7 947.63,621.13 948.33,619.53 949.04,617.91 949.74,616.27 950.44,614.59 951.15,612.87 951.85,611.11 952.56,609.31 953.26,607.46 953.96,605.55 954.67,603.58 955.37,601.54 956.08,599.43 956.78,597.24 957.48,594.97 958.19,592.61 958.89,590.14 959.6,587.57 960.3,584.89 961,582.08 961.71,579.14 962.41,576.07 963.12,572.86 963.82,569.52 964.52,566.04 965.23,562.43 965.93,558.71 966.64,554.86 967.34,550.91 968.04,546.87 968.75,542.74 969.45,538.53 970.16,534.26 970.86,529.94 971.56,525.57 972.27,521.17 972.97,516.75 973.68,512.33 974.38,507.9 975.08,503.49 975.79,499.11 976.49,494.76 977.2,490.45 977.9,486.21 978.6,482.03 979.31,477.92 980.01,473.9 980.72,469.96 981.42,466.12 982.12,462.37 982.83,458.72 983.53,455.15 984.24,451.68 984.94,448.28 985.64,444.97 986.35,441.73 987.05,438.57 987.76,435.49 988.46,432.49 989.16,429.59 989.87,426.8 990.57,424.14 991.28,421.61 991.98,419.23 992.68,417.02 993.39,414.97 994.09,413.09 994.8,411.38 995.5,409.82 996.2,408.4 996.91,407.12 997.61,405.94 998.32,404.86 999.02,403.86 999.72,402.93 1000.43,402.05 1001.13,401.22 1001.84,400.43 1002.54,399.67 1003.24,398.95 1003.95,398.26 1004.65,397.59 1005.36,396.95 1006.06,396.33 1006.76,395.74 1007.47,395.17 1008.17,394.62 1008.88,394.09 1009.58,393.57 1010.28,393.08 1010.99,392.6 1011.69,392.14 1012.4,391.69 1013.1,391.26 1013.8,390.84 1014.51,390.43 1015.21,390.03 1015.92,389.64 1016.62,389.26 1017.32,388.89 1018.03,388.53 1018.73,388.17 1019.44,387.82 1020.14,387.48 1020.84,387.14 1021.55,386.81 1022.25,386.49 1022.96,386.18 1023.66,385.88 1024.36,385.59 1025.07,385.32 1025.77,385.06 1026.48,384.82 1027.18,384.59 1027.88,384.38 1028.59,384.2 1029.29,384.03 1030,383.88 1030.7,383.75 1031.4,383.63 1032.11,383.53 1032.81,383.44 1033.52,383.36 1034.22,383.29 1034.92,383.23 1035.63,383.17 1036.33,383.12 1037.04,383.07 1037.74,383.03 1038.44,382.98 1039.15,382.95 1039.85,382.91 1040.56,382.88 1041.26,382.84 1041.96,382.81 1042.67,382.78 1043.37,382.75 1044.08,382.72 1044.78,382.69 1045.48,382.66 1046.19,382.63 1046.89,382.6 1047.6,382.56 1048.3,382.53 1049,382.49 1049.71,382.45 1050.41,382.4 1051.12,382.35 1051.82,382.3 1052.52,382.25 1053.23,382.18 1053.93,382.11 1054.64,382.04 1055.34,381.96 1056.04,381.87 1056.75,381.77 1057.45,381.66 1058.16,381.55 1058.86,381.42 1059.56,381.3 1060.27,381.16 1060.97,381.02 1061.68,380.88 1062.38,380.73 1063.08,380.59 1063.79,380.44 1064.49,380.29 1065.2,380.14 1065.9,380" fill="none" stroke="#40b8c8" stroke-width="1.3" stroke-dasharray="1.4,1.4" stroke-linejoin="round"/>
<polyline points="854.7,672 855.4,671.98 856.11,671.96 856.81,671.94 857.52,671.92 858.22,671.9 858.92,671.88 859.63,671.86 860.33,671.84 861.04,671.83 861.74,671.81 862.44,671.79 863.15,671.77 863.85,671.76 864.56,671.74 865.26,671.72 865.96,671.71 866.67,671.69 867.37,671.67 868.08,671.66 868.78,671.64 869.48,671.62 870.19,671.6 870.89,671.59 871.6,671.57 872.3,671.55 873,671.53 873.71,671.51 874.41,671.49 875.12,671.47 875.82,671.45 876.52,671.43 877.23,671.41 877.93,671.39 878.64,671.37 879.34,671.34 880.04,671.32 880.75,671.29 881.45,671.27 882.16,671.24 882.86,671.21 883.56,671.19 884.27,671.16 884.97,671.13 885.68,671.09 886.38,671.06 887.08,671.02 887.79,670.99 888.49,670.95 889.2,670.9 889.9,670.86 890.6,670.81 891.31,670.76 892.01,670.7 892.72,670.64 893.42,670.57 894.12,670.5 894.83,670.43 895.53,670.35 896.24,670.26 896.94,670.17 897.64,670.08 898.35,669.98 899.05,669.87 899.76,669.76 900.46,669.65 901.16,669.53 901.87,669.4 902.57,669.27 903.28,669.14 903.98,669 904.68,668.86 905.39,668.71 906.09,668.56 906.8,668.4 907.5,668.24 908.2,668.08 908.91,667.91 909.61,667.73 910.32,667.55 911.02,667.37 911.72,667.17 912.43,666.97 913.13,666.76 913.84,666.55 914.54,666.31 915.24,666.07 915.95,665.81 916.65,665.53 917.36,665.24 918.06,664.93 918.76,664.59 919.47,664.24 920.17,663.87 920.88,663.48 921.58,663.07 922.28,662.63 922.99,662.18 923.69,661.7 924.4,661.2 925.1,660.67 925.8,660.12 926.51,659.54 927.21,658.94 927.92,658.3 928.62,657.64 929.32,656.94 930.03,656.22 930.73,655.46 931.44,654.68 932.14,653.87 932.84,653.02 933.55,652.15 934.25,651.25 934.96,650.33 935.66,649.38 936.36,648.4 937.07,647.4 937.77,646.38 938.48,645.33 939.18,644.27 939.88,643.18 940.59,642.07 941.29,640.94 942,639.79 942.7,638.63 943.4,637.44 944.11,636.24 944.81,635.02 945.52,633.79 946.22,632.53 946.92,631.26 947.63,629.96 948.33,628.63 949.04,627.28 949.74,625.9 950.44,624.47 951.15,623.01 951.85,621.51 952.56,619.96 953.26,618.36 953.96,616.71 954.67,615 955.37,613.25 956.08,611.44 956.78,609.57 957.48,607.65 958.19,605.67 958.89,603.64 959.6,601.54 960.3,599.38 961,597.15 961.71,594.86 962.41,592.5 963.12,590.08 963.82,587.58 964.52,585.02 965.23,582.4 965.93,579.71 966.64,576.96 967.34,574.15 968.04,571.29 968.75,568.37 969.45,565.41 970.16,562.41 970.86,559.37 971.56,556.29 972.27,553.19 972.97,550.05 973.68,546.89 974.38,543.72 975.08,540.53 975.79,537.33 976.49,534.12 977.2,530.9 977.9,527.69 978.6,524.48 979.31,521.27 980.01,518.06 980.72,514.86 981.42,511.65 982.12,508.43 982.83,505.21 983.53,501.96 984.24,498.69 984.94,495.38 985.64,492.05 986.35,488.69 987.05,485.31 987.76,481.93 988.46,478.58 989.16,475.28 989.87,472.07 990.57,468.99 991.28,466.07 991.98,463.34 992.68,460.84 993.39,458.57 994.09,456.54 994.8,454.76 995.5,453.22 996.2,451.88 996.91,450.74 997.61,449.76 998.32,448.92 999.02,448.18 999.72,447.54 1000.43,446.95 1001.13,446.42 1001.84,445.94 1002.54,445.48 1003.24,445.05 1003.95,444.65 1004.65,444.27 1005.36,443.9 1006.06,443.56 1006.76,443.23 1007.47,442.91 1008.17,442.61 1008.88,442.32 1009.58,442.05 1010.28,441.79 1010.99,441.54 1011.69,441.3 1012.4,441.07 1013.1,440.85 1013.8,440.64 1014.51,440.43 1015.21,440.23 1015.92,440.03 1016.62,439.84 1017.32,439.66 1018.03,439.48 1018.73,439.3 1019.44,439.12 1020.14,438.95 1020.84,438.78 1021.55,438.62 1022.25,438.46 1022.96,438.31 1023.66,438.16 1024.36,438.01 1025.07,437.88 1025.77,437.75 1026.48,437.63 1027.18,437.51 1027.88,437.41 1028.59,437.31 1029.29,437.22 1030,437.14 1030.7,437.07 1031.4,437 1032.11,436.94 1032.81,436.88 1033.52,436.83 1034.22,436.79 1034.92,436.74 1035.63,436.7 1036.33,436.67 1037.04,436.63 1037.74,436.6 1038.44,436.56 1039.15,436.53 1039.85,436.51 1040.56,436.48 1041.26,436.45 1041.96,436.43 1042.67,436.4 1043.37,436.37 1044.08,436.35 1044.78,436.33 1045.48,436.3 1046.19,436.28 1046.89,436.25 1047.6,436.23 1048.3,436.2 1049,436.17 1049.71,436.14 1050.41,436.12 1051.12,436.08 1051.82,436.05 1052.52,436.02 1053.23,435.98 1053.93,435.94 1054.64,435.91 1055.34,435.86 1056.04,435.82 1056.75,435.77 1057.45,435.73 1058.16,435.68 1058.86,435.62 1059.56,435.57 1060.27,435.52 1060.97,435.46 1061.68,435.41 1062.38,435.35 1063.08,435.29 1063.79,435.23 1064.49,435.18 1065.2,435.12 1065.9,435.06" fill="none" stroke="#404060" stroke-width="1.3" stroke-dasharray="1.4,1.4" stroke-linejoin="round"/>
<polyline points="854.7,672 855.4,671.99 856.11,671.97 856.81,671.96 857.52,671.94 858.22,671.93 858.92,671.91 859.63,671.9 860.33,671.88 861.04,671.87 861.74,671.86 862.44,671.85 863.15,671.83 863.85,671.82 864.56,671.81 865.26,671.79 865.96,671.78 866.67,671.77 867.37,671.76 868.08,671.75 868.78,671.73 869.48,671.72 870.19,671.71 870.89,671.69 871.6,671.68 872.3,671.67 873,671.65 873.71,671.64 874.41,671.63 875.12,671.61 875.82,671.6 876.52,671.58 877.23,671.56 877.93,671.55 878.64,671.53 879.34,671.51 880.04,671.5 880.75,671.48 881.45,671.46 882.16,671.44 882.86,671.42 883.56,671.39 884.27,671.37 884.97,671.35 885.68,671.32 886.38,671.3 887.08,671.27 887.79,671.24 888.49,671.21 889.2,671.17 889.9,671.14 890.6,671.1 891.31,671.06 892.01,671.01 892.72,670.96 893.42,670.9 894.12,670.84 894.83,670.78 895.53,670.71 896.24,670.63 896.94,670.55 897.64,670.47 898.35,670.38 899.05,670.29 899.76,670.19 900.46,670.08 901.16,669.97 901.87,669.86 902.57,669.74 903.28,669.62 903.98,669.5 904.68,669.37 905.39,669.23 906.09,669.09 906.8,668.95 907.5,668.8 908.2,668.65 908.91,668.49 909.61,668.33 910.32,668.16 911.02,667.99 911.72,667.81 912.43,667.62 913.13,667.42 913.84,667.21 914.54,666.99 915.24,666.75 915.95,666.5 916.65,666.22 917.36,665.93 918.06,665.62 918.76,665.29 919.47,664.94 920.17,664.57 920.88,664.17 921.58,663.76 922.28,663.33 922.99,662.89 923.69,662.42 924.4,661.93 925.1,661.42 925.8,660.9 926.51,660.35 927.21,659.78 927.92,659.19 928.62,658.57 929.32,657.94 930.03,657.27 930.73,656.59 931.44,655.88 932.14,655.15 932.84,654.39 933.55,653.61 934.25,652.81 934.96,651.99 935.66,651.14 936.36,650.28 937.07,649.39 937.77,648.48 938.48,647.55 939.18,646.61 939.88,645.64 940.59,644.65 941.29,643.65 942,642.62 942.7,641.58 943.4,640.52 944.11,639.44 944.81,638.35 945.52,637.23 946.22,636.09 946.92,634.93 947.63,633.75 948.33,632.54 949.04,631.29 949.74,630.01 950.44,628.69 951.15,627.33 951.85,625.92 952.56,624.46 953.26,622.95 953.96,621.39 954.67,619.78 955.37,618.11 956.08,616.4 956.78,614.63 957.48,612.81 958.19,610.94 958.89,609.03 959.6,607.06 960.3,605.03 961,602.95 961.71,600.82 962.41,598.63 963.12,596.39 963.82,594.08 964.52,591.73 965.23,589.31 965.93,586.85 966.64,584.33 967.34,581.76 968.04,579.15 968.75,576.49 969.45,573.79 970.16,571.06 970.86,568.28 971.56,565.48 972.27,562.65 972.97,559.79 973.68,556.91 974.38,554.01 975.08,551.09 975.79,548.16 976.49,545.22 977.2,542.27 977.9,539.31 978.6,536.35 979.31,533.39 980.01,530.42 980.72,527.44 981.42,524.45 982.12,521.45 982.83,518.43 983.53,515.37 984.24,512.29 984.94,509.16 985.64,505.99 986.35,502.79 987.05,499.56 987.76,496.32 988.46,493.09 989.16,489.91 989.87,486.8 990.57,483.81 991.28,480.96 991.98,478.28 992.68,475.81 993.39,473.55 994.09,471.52 994.8,469.71 995.5,468.13 996.2,466.74 996.91,465.52 997.61,464.46 998.32,463.53 999.02,462.7 999.72,461.94 1000.43,461.26 1001.13,460.62 1001.84,460.02 1002.54,459.46 1003.24,458.92 1003.95,458.41 1004.65,457.92 1005.36,457.45 1006.06,457.01 1006.76,456.58 1007.47,456.18 1008.17,455.8 1008.88,455.43 1009.58,455.09 1010.28,454.76 1010.99,454.46 1011.69,454.17 1012.4,453.9 1013.1,453.65 1013.8,453.42 1014.51,453.21 1015.21,453.01 1015.92,452.83 1016.62,452.66 1017.32,452.51 1018.03,452.38 1018.73,452.25 1019.44,452.15 1020.14,452.05 1020.84,451.96 1021.55,451.88 1022.25,451.81 1022.96,451.75 1023.66,451.69 1024.36,451.64 1025.07,451.59 1025.77,451.55 1026.48,451.5 1027.18,451.46 1027.88,451.41 1028.59,451.37 1029.29,451.32 1030,451.27 1030.7,451.22 1031.4,451.17 1032.11,451.11 1032.81,451.05 1033.52,450.99 1034.22,450.92 1034.92,450.86 1035.63,450.79 1036.33,450.72 1037.04,450.64 1037.74,450.57 1038.44,450.49 1039.15,450.42 1039.85,450.34 1040.56,450.27 1041.26,450.19 1041.96,450.11 1042.67,450.04 1043.37,449.97 1044.08,449.9 1044.78,449.83 1045.48,449.76 1046.19,449.7 1046.89,449.63 1047.6,449.58 1048.3,449.52 1049,449.47 1049.71,449.42 1050.41,449.38 1051.12,449.34 1051.82,449.31 1052.52,449.28 1053.23,449.26 1053.93,449.24 1054.64,449.22 1055.34,449.21 1056.04,449.2 1056.75,449.19 1057.45,449.19 1058.16,449.18 1058.86,449.18 1059.56,449.18 1060.27,449.18 1060.97,449.18 1061.68,449.18 1062.38,449.18 1063.08,449.18 1063.79,449.18 1064.49,449.18 1065.2,449.18 1065.9,449.18" fill="none" stroke="#e8a0a0" stroke-width="1.3" stroke-dasharray="1.4,1.4" stroke-linejoin="round"/>
<polyline points="854.7,672 855.4,671.99 856.11,671.98 856.81,671.96 857.52,671.95 858.22,671.94 858.92,671.93 859.63,671.92 860.33,671.9 861.04,671.89 861.74,671.88 862.44,671.87 863.15,671.86 863.85,671.85 864.56,671.84 865.26,671.83 865.96,671.82 866.67,671.81 867.37,671.8 868.08,671.79 868.78,671.78 869.48,671.77 870.19,671.76 870.89,671.75 871.6,671.74 872.3,671.72 873,671.71 873.71,671.7 874.41,671.69 875.12,671.68 875.82,671.66 876.52,671.65 877.23,671.64 877.93,671.62 878.64,671.61 879.34,671.6 880.04,671.58 880.75,671.56 881.45,671.55 882.16,671.53 882.86,671.51 883.56,671.5 884.27,671.48 884.97,671.46 885.68,671.44 886.38,671.41 887.08,671.39 887.79,671.37 888.49,671.34 889.2,671.31 889.9,671.28 890.6,671.25 891.31,671.21 892.01,671.17 892.72,671.13 893.42,671.08 894.12,671.03 894.83,670.98 895.53,670.92 896.24,670.86 896.94,670.79 897.64,670.72 898.35,670.65 899.05,670.57 899.76,670.49 900.46,670.4 901.16,670.31 901.87,670.21 902.57,670.11 903.28,670.01 903.98,669.9 904.68,669.79 905.39,669.67 906.09,669.55 906.8,669.43 907.5,669.3 908.2,669.17 908.91,669.03 909.61,668.89 910.32,668.74 911.02,668.58 911.72,668.42 912.43,668.25 913.13,668.06 913.84,667.87 914.54,667.66 915.24,667.43 915.95,667.18 916.65,666.92 917.36,666.63 918.06,666.32 918.76,665.99 919.47,665.64 920.17,665.27 920.88,664.88 921.58,664.47 922.28,664.05 922.99,663.6 923.69,663.14 924.4,662.67 925.1,662.18 925.8,661.68 926.51,661.16 927.21,660.63 927.92,660.08 928.62,659.51 929.32,658.93 930.03,658.33 930.73,657.71 931.44,657.08 932.14,656.42 932.84,655.75 933.55,655.05 934.25,654.34 934.96,653.61 935.66,652.85 936.36,652.08 937.07,651.28 937.77,650.46 938.48,649.62 939.18,648.76 939.88,647.87 940.59,646.97 941.29,646.03 942,645.08 942.7,644.1 943.4,643.09 944.11,642.06 944.81,640.99 945.52,639.9 946.22,638.76 946.92,637.59 947.63,636.37 948.33,635.09 949.04,633.75 949.74,632.35 950.44,630.87 951.15,629.31 951.85,627.66 952.56,625.93 953.26,624.12 953.96,622.22 954.67,620.25 955.37,618.21 956.08,616.11 956.78,613.96 957.48,611.76 958.19,609.52 958.89,607.25 959.6,604.95 960.3,602.62 961,600.26 961.71,597.88 962.41,595.47 963.12,593.04 963.82,590.58 964.52,588.08 965.23,585.56 965.93,583.01 966.64,580.43 967.34,577.83 968.04,575.19 968.75,572.53 969.45,569.84 970.16,567.13 970.86,564.4 971.56,561.64 972.27,558.87 972.97,556.08 973.68,553.27 974.38,550.45 975.08,547.61 975.79,544.76 976.49,541.9 977.2,539.02 977.9,536.14 978.6,533.25 979.31,530.35 980.01,527.43 980.72,524.5 981.42,521.54 982.12,518.56 982.83,515.54 983.53,512.48 984.24,509.37 984.94,506.2 985.64,502.98 986.35,499.71 987.05,496.4 987.76,493.08 988.46,489.76 989.16,486.48 989.87,483.28 990.57,480.2 991.28,477.27 991.98,474.53 992.68,472 993.39,469.71 994.09,467.66 994.8,465.86 995.5,464.28 996.2,462.92 996.91,461.74 997.61,460.73 998.32,459.85 999.02,459.07 999.72,458.38 1000.43,457.75 1001.13,457.17 1001.84,456.63 1002.54,456.12 1003.24,455.64 1003.95,455.18 1004.65,454.74 1005.36,454.32 1006.06,453.92 1006.76,453.54 1007.47,453.19 1008.17,452.85 1008.88,452.53 1009.58,452.23 1010.28,451.95 1010.99,451.68 1011.69,451.44 1012.4,451.22 1013.1,451.02 1013.8,450.84 1014.51,450.67 1015.21,450.53 1015.92,450.4 1016.62,450.29 1017.32,450.21 1018.03,450.14 1018.73,450.08 1019.44,450.05 1020.14,450.03 1020.84,450.02 1021.55,450.03 1022.25,450.04 1022.96,450.07 1023.66,450.11 1024.36,450.15 1025.07,450.19 1025.77,450.24 1026.48,450.28 1027.18,450.33 1027.88,450.37 1028.59,450.4 1029.29,450.42 1030,450.44 1030.7,450.45 1031.4,450.45 1032.11,450.44 1032.81,450.42 1033.52,450.39 1034.22,450.36 1034.92,450.31 1035.63,450.26 1036.33,450.21 1037.04,450.14 1037.74,450.07 1038.44,450 1039.15,449.92 1039.85,449.84 1040.56,449.76 1041.26,449.67 1041.96,449.58 1042.67,449.49 1043.37,449.41 1044.08,449.32 1044.78,449.23 1045.48,449.14 1046.19,449.06 1046.89,448.98 1047.6,448.9 1048.3,448.83 1049,448.76 1049.71,448.7 1050.41,448.64 1051.12,448.59 1051.82,448.54 1052.52,448.51 1053.23,448.48 1053.93,448.46 1054.64,448.46 1055.34,448.46 1056.04,448.47 1056.75,448.49 1057.45,448.52 1058.16,448.56 1058.86,448.61 1059.56,448.66 1060.27,448.72 1060.97,448.79 1061.68,448.86 1062.38,448.93 1063.08,449 1063.79,449.07 1064.49,449.15 1065.2,449.22 1065.9,449.3" fill="none" stroke="#503838" stroke-width="1.3" stroke-dasharray="1.4,1.4" stroke-linejoin="round"/>
<circle cx="854.7" cy="672" r="2.6" fill="#8a8a8a" stroke="#8a8a8a" stroke-width="0.5"/>
<circle cx="853.9" cy="671.2" r="0.91" fill="#fff" opacity="0.45"/>
<circle cx="889.9" cy="670.89" r="2.6" fill="#8a8a8a" stroke="#8a8a8a" stroke-width="0.5"/>
<circle cx="889.1" cy="670.09" r="0.91" fill="#fff" opacity="0.45"/>
<circle cx="914.5" cy="666.46" r="2.6" fill="#8a8a8a" stroke="#8a8a8a" stroke-width="0.5"/>
<circle cx="913.7" cy="665.66" r="0.91" fill="#fff" opacity="0.45"/>
<circle cx="925.1" cy="660.24" r="2.6" fill="#8a8a8a" stroke="#8a8a8a" stroke-width="0.5"/>
<circle cx="924.3" cy="659.44" r="0.91" fill="#fff" opacity="0.45"/>
<circle cx="949.7" cy="623.56" r="2.6" fill="#8a8a8a" stroke="#8a8a8a" stroke-width="0.5"/>
<circle cx="948.9" cy="622.76" r="0.91" fill="#fff" opacity="0.45"/>
<circle cx="960.3" cy="596.99" r="2.6" fill="#8a8a8a" stroke="#8a8a8a" stroke-width="0.5"/>
<circle cx="959.5" cy="596.19" r="0.91" fill="#fff" opacity="0.45"/>
<circle cx="984.9" cy="488.48" r="2.6" fill="#8a8a8a" stroke="#8a8a8a" stroke-width="0.5"/>
<circle cx="984.1" cy="487.68" r="0.91" fill="#fff" opacity="0.45"/>
<circle cx="995.5" cy="445.44" r="2.6" fill="#8a8a8a" stroke="#8a8a8a" stroke-width="0.5"/>
<circle cx="994.7" cy="444.64" r="0.91" fill="#fff" opacity="0.45"/>
<circle cx="1020.1" cy="412.08" r="2.6" fill="#8a8a8a" stroke="#8a8a8a" stroke-width="0.5"/>
<circle cx="1019.3" cy="411.28" r="0.91" fill="#fff" opacity="0.45"/>
<circle cx="1030.7" cy="400.18" r="2.6" fill="#8a8a8a" stroke="#8a8a8a" stroke-width="0.5"/>
<circle cx="1029.9" cy="399.38" r="0.91" fill="#fff" opacity="0.45"/>
<circle cx="1055.3" cy="396.31" r="2.6" fill="#8a8a8a" stroke="#8a8a8a" stroke-width="0.5"/>
<circle cx="1054.5" cy="395.51" r="0.91" fill="#fff" opacity="0.45"/>
<circle cx="1065.9" cy="391.88" r="2.6" fill="#8a8a8a" stroke="#8a8a8a" stroke-width="0.5"/>
<circle cx="1065.1" cy="391.08" r="0.91" fill="#fff" opacity="0.45"/>
<circle cx="854.7" cy="672" r="2.6" fill="#4e9a24" stroke="#4e9a24" stroke-width="0.5"/>
<circle cx="853.9" cy="671.2" r="0.91" fill="#fff" opacity="0.45"/>
<circle cx="889.9" cy="670.62" r="2.6" fill="#4e9a24" stroke="#4e9a24" stroke-width="0.5"/>
<circle cx="889.1" cy="669.82" r="0.91" fill="#fff" opacity="0.45"/>
<circle cx="914.5" cy="665.08" r="2.6" fill="#4e9a24" stroke="#4e9a24" stroke-width="0.5"/>
<circle cx="913.7" cy="664.28" r="0.91" fill="#fff" opacity="0.45"/>
<circle cx="925.1" cy="657.47" r="2.6" fill="#4e9a24" stroke="#4e9a24" stroke-width="0.5"/>
<circle cx="924.3" cy="656.67" r="0.91" fill="#fff" opacity="0.45"/>
<circle cx="949.7" cy="609.72" r="2.6" fill="#4e9a24" stroke="#4e9a24" stroke-width="0.5"/>
<circle cx="948.9" cy="608.92" r="0.91" fill="#fff" opacity="0.45"/>
<circle cx="960.3" cy="575.12" r="2.6" fill="#4e9a24" stroke="#4e9a24" stroke-width="0.5"/>
<circle cx="959.5" cy="574.32" r="0.91" fill="#fff" opacity="0.45"/>
<circle cx="984.9" cy="439.07" r="2.6" fill="#4e9a24" stroke="#4e9a24" stroke-width="0.5"/>
<circle cx="984.1" cy="438.27" r="0.91" fill="#fff" opacity="0.45"/>
<circle cx="995.5" cy="373.33" r="2.6" fill="#4e9a24" stroke="#4e9a24" stroke-width="0.5"/>
<circle cx="994.7" cy="372.53" r="0.91" fill="#fff" opacity="0.45"/>
<circle cx="1020.1" cy="321.57" r="2.6" fill="#4e9a24" stroke="#4e9a24" stroke-width="0.5"/>
<circle cx="1019.3" cy="320.77" r="0.91" fill="#fff" opacity="0.45"/>
<circle cx="1030.7" cy="310.91" r="2.6" fill="#4e9a24" stroke="#4e9a24" stroke-width="0.5"/>
<circle cx="1029.9" cy="310.11" r="0.91" fill="#fff" opacity="0.45"/>
<circle cx="1055.3" cy="306.21" r="2.6" fill="#4e9a24" stroke="#4e9a24" stroke-width="0.5"/>
<circle cx="1054.5" cy="305.41" r="0.91" fill="#fff" opacity="0.45"/>
<circle cx="1065.9" cy="304.55" r="2.6" fill="#4e9a24" stroke="#4e9a24" stroke-width="0.5"/>
<circle cx="1065.1" cy="303.75" r="0.91" fill="#fff" opacity="0.45"/>
<circle cx="854.7" cy="672" r="2.6" fill="#e0601e" stroke="#e0601e" stroke-width="0.5"/>
<circle cx="853.9" cy="671.2" r="0.91" fill="#fff" opacity="0.45"/>
<circle cx="889.9" cy="670.62" r="2.6" fill="#e0601e" stroke="#e0601e" stroke-width="0.5"/>
<circle cx="889.1" cy="669.82" r="0.91" fill="#fff" opacity="0.45"/>
<circle cx="914.5" cy="665.08" r="2.6" fill="#e0601e" stroke="#e0601e" stroke-width="0.5"/>
<circle cx="913.7" cy="664.28" r="0.91" fill="#fff" opacity="0.45"/>
<circle cx="925.1" cy="656.78" r="2.6" fill="#e0601e" stroke="#e0601e" stroke-width="0.5"/>
<circle cx="924.3" cy="655.98" r="0.91" fill="#fff" opacity="0.45"/>
<circle cx="949.7" cy="606.95" r="2.6" fill="#e0601e" stroke="#e0601e" stroke-width="0.5"/>
<circle cx="948.9" cy="606.15" r="0.91" fill="#fff" opacity="0.45"/>
<circle cx="960.3" cy="568.2" r="2.6" fill="#e0601e" stroke="#e0601e" stroke-width="0.5"/>
<circle cx="959.5" cy="567.4" r="0.91" fill="#fff" opacity="0.45"/>
<circle cx="984.9" cy="422.19" r="2.6" fill="#e0601e" stroke="#e0601e" stroke-width="0.5"/>
<circle cx="984.1" cy="421.39" r="0.91" fill="#fff" opacity="0.45"/>
<circle cx="995.5" cy="345.93" r="2.6" fill="#e0601e" stroke="#e0601e" stroke-width="0.5"/>
<circle cx="994.7" cy="345.13" r="0.91" fill="#fff" opacity="0.45"/>
<circle cx="1020.1" cy="308.56" r="2.6" fill="#e0601e" stroke="#e0601e" stroke-width="0.5"/>
<circle cx="1019.3" cy="307.76" r="0.91" fill="#fff" opacity="0.45"/>
<circle cx="1030.7" cy="303.3" r="2.6" fill="#e0601e" stroke="#e0601e" stroke-width="0.5"/>
<circle cx="1029.9" cy="302.5" r="0.91" fill="#fff" opacity="0.45"/>
<circle cx="1055.3" cy="302.06" r="2.6" fill="#e0601e" stroke="#e0601e" stroke-width="0.5"/>
<circle cx="1054.5" cy="301.26" r="0.91" fill="#fff" opacity="0.45"/>
<circle cx="1065.9" cy="300.95" r="2.6" fill="#e0601e" stroke="#e0601e" stroke-width="0.5"/>
<circle cx="1065.1" cy="300.15" r="0.91" fill="#fff" opacity="0.45"/>
<circle cx="854.7" cy="672" r="2.6" fill="#7a28c0" stroke="#7a28c0" stroke-width="0.5"/>
<circle cx="853.9" cy="671.2" r="0.91" fill="#fff" opacity="0.45"/>
<circle cx="889.9" cy="670.62" r="2.6" fill="#7a28c0" stroke="#7a28c0" stroke-width="0.5"/>
<circle cx="889.1" cy="669.82" r="0.91" fill="#fff" opacity="0.45"/>
<circle cx="914.5" cy="664.66" r="2.6" fill="#7a28c0" stroke="#7a28c0" stroke-width="0.5"/>
<circle cx="913.7" cy="663.86" r="0.91" fill="#fff" opacity="0.45"/>
<circle cx="925.1" cy="656.08" r="2.6" fill="#7a28c0" stroke="#7a28c0" stroke-width="0.5"/>
<circle cx="924.3" cy="655.28" r="0.91" fill="#fff" opacity="0.45"/>
<circle cx="949.7" cy="602.8" r="2.6" fill="#7a28c0" stroke="#7a28c0" stroke-width="0.5"/>
<circle cx="948.9" cy="602" r="0.91" fill="#fff" opacity="0.45"/>
<circle cx="960.3" cy="561.28" r="2.6" fill="#7a28c0" stroke="#7a28c0" stroke-width="0.5"/>
<circle cx="959.5" cy="560.48" r="0.91" fill="#fff" opacity="0.45"/>
<circle cx="984.9" cy="407.93" r="2.6" fill="#7a28c0" stroke="#7a28c0" stroke-width="0.5"/>
<circle cx="984.1" cy="407.13" r="0.91" fill="#fff" opacity="0.45"/>
<circle cx="995.5" cy="324.48" r="2.6" fill="#7a28c0" stroke="#7a28c0" stroke-width="0.5"/>
<circle cx="994.7" cy="323.68" r="0.91" fill="#fff" opacity="0.45"/>
<circle cx="1020.1" cy="303.3" r="2.6" fill="#7a28c0" stroke="#7a28c0" stroke-width="0.5"/>
<circle cx="1019.3" cy="302.5" r="0.91" fill="#fff" opacity="0.45"/>
<circle cx="1030.7" cy="302.61" r="2.6" fill="#7a28c0" stroke="#7a28c0" stroke-width="0.5"/>
<circle cx="1029.9" cy="301.81" r="0.91" fill="#fff" opacity="0.45"/>
<circle cx="1055.3" cy="299.29" r="2.6" fill="#7a28c0" stroke="#7a28c0" stroke-width="0.5"/>
<circle cx="1054.5" cy="298.49" r="0.91" fill="#fff" opacity="0.45"/>
<circle cx="1065.9" cy="298.74" r="2.6" fill="#7a28c0" stroke="#7a28c0" stroke-width="0.5"/>
<circle cx="1065.1" cy="297.94" r="0.91" fill="#fff" opacity="0.45"/>
<circle cx="854.7" cy="672" r="2.6" fill="#d0a020" stroke="#d0a020" stroke-width="0.5"/>
<circle cx="853.9" cy="671.2" r="0.91" fill="#fff" opacity="0.45"/>
<circle cx="889.9" cy="670.62" r="2.6" fill="#d0a020" stroke="#d0a020" stroke-width="0.5"/>
<circle cx="889.1" cy="669.82" r="0.91" fill="#fff" opacity="0.45"/>
<circle cx="914.5" cy="664.39" r="2.6" fill="#d0a020" stroke="#d0a020" stroke-width="0.5"/>
<circle cx="913.7" cy="663.59" r="0.91" fill="#fff" opacity="0.45"/>
<circle cx="925.1" cy="655.39" r="2.6" fill="#d0a020" stroke="#d0a020" stroke-width="0.5"/>
<circle cx="924.3" cy="654.59" r="0.91" fill="#fff" opacity="0.45"/>
<circle cx="949.7" cy="600.03" r="2.6" fill="#d0a020" stroke="#d0a020" stroke-width="0.5"/>
<circle cx="948.9" cy="599.23" r="0.91" fill="#fff" opacity="0.45"/>
<circle cx="960.3" cy="554.36" r="2.6" fill="#d0a020" stroke="#d0a020" stroke-width="0.5"/>
<circle cx="959.5" cy="553.56" r="0.91" fill="#fff" opacity="0.45"/>
<circle cx="984.9" cy="392.02" r="2.6" fill="#d0a020" stroke="#d0a020" stroke-width="0.5"/>
<circle cx="984.1" cy="391.22" r="0.91" fill="#fff" opacity="0.45"/>
<circle cx="995.5" cy="313.82" r="2.6" fill="#d0a020" stroke="#d0a020" stroke-width="0.5"/>
<circle cx="994.7" cy="313.02" r="0.91" fill="#fff" opacity="0.45"/>
<circle cx="1020.1" cy="299.29" r="2.6" fill="#d0a020" stroke="#d0a020" stroke-width="0.5"/>
<circle cx="1019.3" cy="298.49" r="0.91" fill="#fff" opacity="0.45"/>
<circle cx="1030.7" cy="299.01" r="2.6" fill="#d0a020" stroke="#d0a020" stroke-width="0.5"/>
<circle cx="1029.9" cy="298.21" r="0.91" fill="#fff" opacity="0.45"/>
<circle cx="1055.3" cy="295.97" r="2.6" fill="#d0a020" stroke="#d0a020" stroke-width="0.5"/>
<circle cx="1054.5" cy="295.17" r="0.91" fill="#fff" opacity="0.45"/>
<circle cx="1065.9" cy="295.69" r="2.6" fill="#d0a020" stroke="#d0a020" stroke-width="0.5"/>
<circle cx="1065.1" cy="294.89" r="0.91" fill="#fff" opacity="0.45"/>
<circle cx="854.7" cy="672" r="2.6" fill="#2a88c8" stroke="#2a88c8" stroke-width="0.5"/>
<circle cx="853.9" cy="671.2" r="0.91" fill="#fff" opacity="0.45"/>
<circle cx="889.9" cy="670.62" r="2.6" fill="#2a88c8" stroke="#2a88c8" stroke-width="0.5"/>
<circle cx="889.1" cy="669.82" r="0.91" fill="#fff" opacity="0.45"/>
<circle cx="914.5" cy="663.97" r="2.6" fill="#2a88c8" stroke="#2a88c8" stroke-width="0.5"/>
<circle cx="913.7" cy="663.17" r="0.91" fill="#fff" opacity="0.45"/>
<circle cx="925.1" cy="654.42" r="2.6" fill="#2a88c8" stroke="#2a88c8" stroke-width="0.5"/>
<circle cx="924.3" cy="653.62" r="0.91" fill="#fff" opacity="0.45"/>
<circle cx="949.7" cy="596.99" r="2.6" fill="#2a88c8" stroke="#2a88c8" stroke-width="0.5"/>
<circle cx="948.9" cy="596.19" r="0.91" fill="#fff" opacity="0.45"/>
<circle cx="960.3" cy="549.93" r="2.6" fill="#2a88c8" stroke="#2a88c8" stroke-width="0.5"/>
<circle cx="959.5" cy="549.13" r="0.91" fill="#fff" opacity="0.45"/>
<circle cx="984.9" cy="385.24" r="2.6" fill="#2a88c8" stroke="#2a88c8" stroke-width="0.5"/>
<circle cx="984.1" cy="384.44" r="0.91" fill="#fff" opacity="0.45"/>
<circle cx="995.5" cy="310.5" r="2.6" fill="#2a88c8" stroke="#2a88c8" stroke-width="0.5"/>
<circle cx="994.7" cy="309.7" r="0.91" fill="#fff" opacity="0.45"/>
<circle cx="1020.1" cy="297.07" r="2.6" fill="#2a88c8" stroke="#2a88c8" stroke-width="0.5"/>
<circle cx="1019.3" cy="296.27" r="0.91" fill="#fff" opacity="0.45"/>
<circle cx="1030.7" cy="293.75" r="2.6" fill="#2a88c8" stroke="#2a88c8" stroke-width="0.5"/>
<circle cx="1029.9" cy="292.95" r="0.91" fill="#fff" opacity="0.45"/>
<circle cx="1055.3" cy="291.54" r="2.6" fill="#2a88c8" stroke="#2a88c8" stroke-width="0.5"/>
<circle cx="1054.5" cy="290.74" r="0.91" fill="#fff" opacity="0.45"/>
<circle cx="1065.9" cy="291.26" r="2.6" fill="#2a88c8" stroke="#2a88c8" stroke-width="0.5"/>
<circle cx="1065.1" cy="290.46" r="0.91" fill="#fff" opacity="0.45"/>
<polygon points="854.7,668.7 855.58,670.79 857.84,670.98 856.13,672.46 856.64,674.67 854.7,673.5 852.76,674.67 853.27,672.46 851.56,670.98 853.82,670.79" fill="#fff" stroke="#c8c040" stroke-width="0.7"/>
<polygon points="889.9,667.32 890.78,669.4 893.04,669.6 891.33,671.08 891.84,673.29 889.9,672.12 887.96,673.29 888.47,671.08 886.76,669.6 889.02,669.4" fill="#fff" stroke="#c8c040" stroke-width="0.7"/>
<polygon points="914.5,661.78 915.39,663.87 917.64,664.06 915.93,665.54 916.44,667.75 914.5,666.58 912.56,667.75 913.08,665.54 911.37,664.06 913.62,663.87" fill="#fff" stroke="#c8c040" stroke-width="0.7"/>
<polygon points="925.1,654.86 925.98,656.95 928.24,657.14 926.53,658.62 927.04,660.83 925.1,659.66 923.16,660.83 923.67,658.62 921.96,657.14 924.22,656.95" fill="#fff" stroke="#c8c040" stroke-width="0.7"/>
<polygon points="949.7,607.8 950.59,609.89 952.84,610.08 951.13,611.57 951.64,613.77 949.7,612.6 947.76,613.77 948.28,611.57 946.57,610.08 948.82,609.89" fill="#fff" stroke="#c8c040" stroke-width="0.7"/>
<polygon points="960.3,574.59 961.18,576.67 963.44,576.87 961.73,578.35 962.24,580.56 960.3,579.39 958.36,580.56 958.87,578.35 957.16,576.87 959.42,576.67" fill="#fff" stroke="#c8c040" stroke-width="0.7"/>
<polygon points="984.9,433.42 985.79,435.51 988.04,435.7 986.33,437.18 986.84,439.39 984.9,438.22 982.96,439.39 983.48,437.18 981.77,435.7 984.02,435.51" fill="#fff" stroke="#c8c040" stroke-width="0.7"/>
<polygon points="995.5,335.16 996.38,337.24 998.64,337.44 996.93,338.92 997.44,341.13 995.5,339.96 993.56,341.13 994.07,338.92 992.36,337.44 994.62,337.24" fill="#fff" stroke="#c8c040" stroke-width="0.7"/>
<polygon points="1020.1,320.76 1020.99,322.85 1023.24,323.04 1021.53,324.53 1022.04,326.73 1020.1,325.56 1018.16,326.73 1018.68,324.53 1016.97,323.04 1019.22,322.85" fill="#fff" stroke="#c8c040" stroke-width="0.7"/>
<polygon points="1030.7,320.49 1031.58,322.57 1033.84,322.77 1032.13,324.25 1032.64,326.46 1030.7,325.29 1028.76,326.46 1029.27,324.25 1027.56,322.77 1029.82,322.57" fill="#fff" stroke="#c8c040" stroke-width="0.7"/>
<polygon points="1055.3,321.04 1056.19,323.13 1058.44,323.32 1056.73,324.8 1057.24,327.01 1055.3,325.84 1053.36,327.01 1053.88,324.8 1052.17,323.32 1054.42,323.13" fill="#fff" stroke="#c8c040" stroke-width="0.7"/>
<polygon points="1065.9,319.38 1066.78,321.46 1069.04,321.66 1067.33,323.14 1067.84,325.35 1065.9,324.18 1063.96,325.35 1064.47,323.14 1062.76,321.66 1065.02,321.46" fill="#fff" stroke="#c8c040" stroke-width="0.7"/>
<circle cx="854.7" cy="672" r="3" fill="#fff" stroke="#40b8c8" stroke-width="0.8"/>
<circle cx="889.9" cy="670.62" r="3" fill="#fff" stroke="#40b8c8" stroke-width="0.8"/>
<circle cx="914.5" cy="665.77" r="3" fill="#fff" stroke="#40b8c8" stroke-width="0.8"/>
<circle cx="925.1" cy="659.54" r="3" fill="#fff" stroke="#40b8c8" stroke-width="0.8"/>
<circle cx="949.7" cy="616.64" r="3" fill="#fff" stroke="#40b8c8" stroke-width="0.8"/>
<circle cx="960.3" cy="586.19" r="3" fill="#fff" stroke="#40b8c8" stroke-width="0.8"/>
<circle cx="984.9" cy="447.79" r="3" fill="#fff" stroke="#40b8c8" stroke-width="0.8"/>
<circle cx="995.5" cy="408.21" r="3" fill="#fff" stroke="#40b8c8" stroke-width="0.8"/>
<circle cx="1020.1" cy="387.45" r="3" fill="#fff" stroke="#40b8c8" stroke-width="0.8"/>
<circle cx="1030.7" cy="383.57" r="3" fill="#fff" stroke="#40b8c8" stroke-width="0.8"/>
<circle cx="1055.3" cy="382.05" r="3" fill="#fff" stroke="#40b8c8" stroke-width="0.8"/>
<circle cx="1065.9" cy="379.98" r="3" fill="#fff" stroke="#40b8c8" stroke-width="0.8"/>
<circle cx="854.7" cy="672" r="3" fill="#fff" stroke="#404060" stroke-width="0.8"/>
<circle cx="889.9" cy="670.89" r="3" fill="#fff" stroke="#404060" stroke-width="0.8"/>
<circle cx="914.5" cy="666.46" r="3" fill="#fff" stroke="#404060" stroke-width="0.8"/>
<circle cx="925.1" cy="660.93" r="3" fill="#fff" stroke="#404060" stroke-width="0.8"/>
<circle cx="949.7" cy="626.33" r="3" fill="#fff" stroke="#404060" stroke-width="0.8"/>
<circle cx="960.3" cy="600.03" r="3" fill="#fff" stroke="#404060" stroke-width="0.8"/>
<circle cx="984.9" cy="496.23" r="3" fill="#fff" stroke="#404060" stroke-width="0.8"/>
<circle cx="995.5" cy="450.7" r="3" fill="#fff" stroke="#404060" stroke-width="0.8"/>
<circle cx="1020.1" cy="438.93" r="3" fill="#fff" stroke="#404060" stroke-width="0.8"/>
<circle cx="1030.7" cy="437" r="3" fill="#fff" stroke="#404060" stroke-width="0.8"/>
<circle cx="1055.3" cy="435.89" r="3" fill="#fff" stroke="#404060" stroke-width="0.8"/>
<circle cx="1065.9" cy="435.06" r="3" fill="#fff" stroke="#404060" stroke-width="0.8"/>
<rect x="852.1" y="669.4" width="5.2" height="5.2" fill="#fff" stroke="#e8a0a0" stroke-width="0.8"/>
<rect x="887.3" y="668.57" width="5.2" height="5.2" fill="#fff" stroke="#e8a0a0" stroke-width="0.8"/>
<rect x="911.9" y="664.56" width="5.2" height="5.2" fill="#fff" stroke="#e8a0a0" stroke-width="0.8"/>
<rect x="922.5" y="659.02" width="5.2" height="5.2" fill="#fff" stroke="#e8a0a0" stroke-width="0.8"/>
<rect x="947.1" y="627.88" width="5.2" height="5.2" fill="#fff" stroke="#e8a0a0" stroke-width="0.8"/>
<rect x="957.7" y="602.97" width="5.2" height="5.2" fill="#fff" stroke="#e8a0a0" stroke-width="0.8"/>
<rect x="982.3" y="507.47" width="5.2" height="5.2" fill="#fff" stroke="#e8a0a0" stroke-width="0.8"/>
<rect x="992.9" y="463.18" width="5.2" height="5.2" fill="#fff" stroke="#e8a0a0" stroke-width="0.8"/>
<rect x="1017.5" y="449.34" width="5.2" height="5.2" fill="#fff" stroke="#e8a0a0" stroke-width="0.8"/>
<rect x="1028.1" y="448.65" width="5.2" height="5.2" fill="#fff" stroke="#e8a0a0" stroke-width="0.8"/>
<rect x="1052.7" y="446.58" width="5.2" height="5.2" fill="#fff" stroke="#e8a0a0" stroke-width="0.8"/>
<rect x="1063.3" y="446.58" width="5.2" height="5.2" fill="#fff" stroke="#e8a0a0" stroke-width="0.8"/>
<path d="M854.7,668.8 L858.1,674.4 L851.3,674.4 Z" fill="#fff" stroke="#503838" stroke-width="0.8"/>
<path d="M889.9,668.11 L893.3,673.71 L886.5,673.71 Z" fill="#fff" stroke="#503838" stroke-width="0.8"/>
<path d="M914.5,664.65 L917.9,670.25 L911.1,670.25 Z" fill="#fff" stroke="#503838" stroke-width="0.8"/>
<path d="M925.1,659.11 L928.5,664.71 L921.7,664.71 Z" fill="#fff" stroke="#503838" stroke-width="0.8"/>
<path d="M949.7,630.05 L953.1,635.65 L946.3,635.65 Z" fill="#fff" stroke="#503838" stroke-width="0.8"/>
<path d="M960.3,599.6 L963.7,605.2 L956.9,605.2 Z" fill="#fff" stroke="#503838" stroke-width="0.8"/>
<path d="M984.9,504.1 L988.3,509.7 L981.5,509.7 Z" fill="#fff" stroke="#503838" stroke-width="0.8"/>
<path d="M995.5,458.57 L998.9,464.17 L992.1,464.17 Z" fill="#fff" stroke="#503838" stroke-width="0.8"/>
<path d="M1020.1,446.67 L1023.5,452.27 L1016.7,452.27 Z" fill="#fff" stroke="#503838" stroke-width="0.8"/>
<path d="M1030.7,447.36 L1034.1,452.96 L1027.3,452.96 Z" fill="#fff" stroke="#503838" stroke-width="0.8"/>
<path d="M1055.3,445.15 L1058.7,450.75 L1051.9,450.75 Z" fill="#fff" stroke="#503838" stroke-width="0.8"/>
<path d="M1065.9,446.11 L1069.3,451.71 L1062.5,451.71 Z" fill="#fff" stroke="#503838" stroke-width="0.8"/>
<rect x="847.4" y="270.5" width="224" height="416.5" fill="none" stroke="#111" stroke-width="1.6"/>
<line x1="847.4" y1="672" x2="851" y2="672" stroke="#111" stroke-width="1.2"/>
<text x="835.64" y="675.97" font-size="13" fill="#111" text-anchor="start" font-weight="bold" textLength="7.52" lengthAdjust="spacingAndGlyphs">0</text>
<line x1="847.4" y1="602.8" x2="851" y2="602.8" stroke="#111" stroke-width="1.2"/>
<text x="828.13" y="606.77" font-size="13" fill="#111" text-anchor="start" font-weight="bold" textLength="15.04" lengthAdjust="spacingAndGlyphs">50</text>
<line x1="847.4" y1="533.6" x2="851" y2="533.6" stroke="#111" stroke-width="1.2"/>
<text x="820.6" y="537.57" font-size="13" fill="#111" text-anchor="start" font-weight="bold" textLength="22.56" lengthAdjust="spacingAndGlyphs">100</text>
<line x1="847.4" y1="464.4" x2="851" y2="464.4" stroke="#111" stroke-width="1.2"/>
<text x="820.6" y="468.37" font-size="13" fill="#111" text-anchor="start" font-weight="bold" textLength="22.56" lengthAdjust="spacingAndGlyphs">150</text>
<line x1="847.4" y1="395.2" x2="851" y2="395.2" stroke="#111" stroke-width="1.2"/>
<text x="820.6" y="399.17" font-size="13" fill="#111" text-anchor="start" font-weight="bold" textLength="22.56" lengthAdjust="spacingAndGlyphs">200</text>
<line x1="847.4" y1="326" x2="851" y2="326" stroke="#111" stroke-width="1.2"/>
<text x="820.6" y="329.97" font-size="13" fill="#111" text-anchor="start" font-weight="bold" textLength="22.56" lengthAdjust="spacingAndGlyphs">250</text>
<line x1="847.4" y1="637.4" x2="849.4" y2="637.4" stroke="#111" stroke-width="1"/>
<line x1="847.4" y1="568.2" x2="849.4" y2="568.2" stroke="#111" stroke-width="1"/>
<line x1="847.4" y1="499" x2="849.4" y2="499" stroke="#111" stroke-width="1"/>
<line x1="847.4" y1="429.8" x2="849.4" y2="429.8" stroke="#111" stroke-width="1"/>
<line x1="847.4" y1="360.6" x2="849.4" y2="360.6" stroke="#111" stroke-width="1"/>
<line x1="847.4" y1="291.4" x2="849.4" y2="291.4" stroke="#111" stroke-width="1"/>
<line x1="854.7" y1="687" x2="854.7" y2="683.5" stroke="#111" stroke-width="1.2"/>
<text x="844.23" y="702.6" font-size="12.62" fill="#111" text-anchor="start" font-weight="bold" textLength="15.57" lengthAdjust="spacingAndGlyphs">10</text>
<text x="859.57" y="697.6" font-size="9.32" fill="#111" text-anchor="start" font-weight="normal" textLength="4.92" lengthAdjust="spacingAndGlyphs">3</text>
<line x1="865.3" y1="687" x2="865.3" y2="685" stroke="#111" stroke-width="0.9"/>
<line x1="871.49" y1="687" x2="871.49" y2="685" stroke="#111" stroke-width="0.9"/>
<line x1="875.89" y1="687" x2="875.89" y2="685" stroke="#111" stroke-width="0.9"/>
<line x1="879.3" y1="687" x2="879.3" y2="685" stroke="#111" stroke-width="0.9"/>
<line x1="882.09" y1="687" x2="882.09" y2="685" stroke="#111" stroke-width="0.9"/>
<line x1="884.45" y1="687" x2="884.45" y2="685" stroke="#111" stroke-width="0.9"/>
<line x1="886.49" y1="687" x2="886.49" y2="685" stroke="#111" stroke-width="0.9"/>
<line x1="888.29" y1="687" x2="888.29" y2="685" stroke="#111" stroke-width="0.9"/>
<line x1="889.9" y1="687" x2="889.9" y2="683.5" stroke="#111" stroke-width="1.2"/>
<text x="879.43" y="702.6" font-size="12.62" fill="#111" text-anchor="start" font-weight="bold" textLength="15.57" lengthAdjust="spacingAndGlyphs">10</text>
<text x="894.91" y="697.6" font-size="9.32" fill="#111" text-anchor="start" font-weight="normal" textLength="4.63" lengthAdjust="spacingAndGlyphs">4</text>
<line x1="900.5" y1="687" x2="900.5" y2="685" stroke="#111" stroke-width="0.9"/>
<line x1="906.69" y1="687" x2="906.69" y2="685" stroke="#111" stroke-width="0.9"/>
<line x1="911.09" y1="687" x2="911.09" y2="685" stroke="#111" stroke-width="0.9"/>
<line x1="914.5" y1="687" x2="914.5" y2="685" stroke="#111" stroke-width="0.9"/>
<line x1="917.29" y1="687" x2="917.29" y2="685" stroke="#111" stroke-width="0.9"/>
<line x1="919.65" y1="687" x2="919.65" y2="685" stroke="#111" stroke-width="0.9"/>
<line x1="921.69" y1="687" x2="921.69" y2="685" stroke="#111" stroke-width="0.9"/>
<line x1="923.49" y1="687" x2="923.49" y2="685" stroke="#111" stroke-width="0.9"/>
<line x1="925.1" y1="687" x2="925.1" y2="683.5" stroke="#111" stroke-width="1.2"/>
<text x="914.63" y="702.6" font-size="12.62" fill="#111" text-anchor="start" font-weight="bold" textLength="15.57" lengthAdjust="spacingAndGlyphs">10</text>
<text x="929.95" y="697.6" font-size="9.32" fill="#111" text-anchor="start" font-weight="normal" textLength="4.92" lengthAdjust="spacingAndGlyphs">5</text>
<line x1="935.7" y1="687" x2="935.7" y2="685" stroke="#111" stroke-width="0.9"/>
<line x1="941.89" y1="687" x2="941.89" y2="685" stroke="#111" stroke-width="0.9"/>
<line x1="946.29" y1="687" x2="946.29" y2="685" stroke="#111" stroke-width="0.9"/>
<line x1="949.7" y1="687" x2="949.7" y2="685" stroke="#111" stroke-width="0.9"/>
<line x1="952.49" y1="687" x2="952.49" y2="685" stroke="#111" stroke-width="0.9"/>
<line x1="954.85" y1="687" x2="954.85" y2="685" stroke="#111" stroke-width="0.9"/>
<line x1="956.89" y1="687" x2="956.89" y2="685" stroke="#111" stroke-width="0.9"/>
<line x1="958.69" y1="687" x2="958.69" y2="685" stroke="#111" stroke-width="0.9"/>
<line x1="960.3" y1="687" x2="960.3" y2="683.5" stroke="#111" stroke-width="1.2"/>
<text x="949.83" y="702.6" font-size="12.62" fill="#111" text-anchor="start" font-weight="bold" textLength="15.57" lengthAdjust="spacingAndGlyphs">10</text>
<text x="965.05" y="697.6" font-size="9.32" fill="#111" text-anchor="start" font-weight="normal" textLength="5.05" lengthAdjust="spacingAndGlyphs">6</text>
<line x1="970.9" y1="687" x2="970.9" y2="685" stroke="#111" stroke-width="0.9"/>
<line x1="977.09" y1="687" x2="977.09" y2="685" stroke="#111" stroke-width="0.9"/>
<line x1="981.49" y1="687" x2="981.49" y2="685" stroke="#111" stroke-width="0.9"/>
<line x1="984.9" y1="687" x2="984.9" y2="685" stroke="#111" stroke-width="0.9"/>
<line x1="987.69" y1="687" x2="987.69" y2="685" stroke="#111" stroke-width="0.9"/>
<line x1="990.05" y1="687" x2="990.05" y2="685" stroke="#111" stroke-width="0.9"/>
<line x1="992.09" y1="687" x2="992.09" y2="685" stroke="#111" stroke-width="0.9"/>
<line x1="993.89" y1="687" x2="993.89" y2="685" stroke="#111" stroke-width="0.9"/>
<line x1="995.5" y1="687" x2="995.5" y2="683.5" stroke="#111" stroke-width="1.2"/>
<text x="985.03" y="702.6" font-size="12.62" fill="#111" text-anchor="start" font-weight="bold" textLength="15.57" lengthAdjust="spacingAndGlyphs">10</text>
<text x="1000.21" y="697.6" font-size="9.32" fill="#111" text-anchor="start" font-weight="normal" textLength="5.16" lengthAdjust="spacingAndGlyphs">7</text>
<line x1="1006.1" y1="687" x2="1006.1" y2="685" stroke="#111" stroke-width="0.9"/>
<line x1="1012.29" y1="687" x2="1012.29" y2="685" stroke="#111" stroke-width="0.9"/>
<line x1="1016.69" y1="687" x2="1016.69" y2="685" stroke="#111" stroke-width="0.9"/>
<line x1="1020.1" y1="687" x2="1020.1" y2="685" stroke="#111" stroke-width="0.9"/>
<line x1="1022.89" y1="687" x2="1022.89" y2="685" stroke="#111" stroke-width="0.9"/>
<line x1="1025.25" y1="687" x2="1025.25" y2="685" stroke="#111" stroke-width="0.9"/>
<line x1="1027.29" y1="687" x2="1027.29" y2="685" stroke="#111" stroke-width="0.9"/>
<line x1="1029.09" y1="687" x2="1029.09" y2="685" stroke="#111" stroke-width="0.9"/>
<line x1="1030.7" y1="687" x2="1030.7" y2="683.5" stroke="#111" stroke-width="1.2"/>
<text x="1020.23" y="702.6" font-size="12.62" fill="#111" text-anchor="start" font-weight="bold" textLength="15.57" lengthAdjust="spacingAndGlyphs">10</text>
<text x="1035.52" y="697.6" font-size="9.32" fill="#111" text-anchor="start" font-weight="normal" textLength="4.97" lengthAdjust="spacingAndGlyphs">8</text>
<line x1="1041.3" y1="687" x2="1041.3" y2="685" stroke="#111" stroke-width="0.9"/>
<line x1="1047.49" y1="687" x2="1047.49" y2="685" stroke="#111" stroke-width="0.9"/>
<line x1="1051.89" y1="687" x2="1051.89" y2="685" stroke="#111" stroke-width="0.9"/>
<line x1="1055.3" y1="687" x2="1055.3" y2="685" stroke="#111" stroke-width="0.9"/>
<line x1="1058.09" y1="687" x2="1058.09" y2="685" stroke="#111" stroke-width="0.9"/>
<line x1="1060.45" y1="687" x2="1060.45" y2="685" stroke="#111" stroke-width="0.9"/>
<line x1="1062.49" y1="687" x2="1062.49" y2="685" stroke="#111" stroke-width="0.9"/>
<line x1="1064.29" y1="687" x2="1064.29" y2="685" stroke="#111" stroke-width="0.9"/>
<line x1="1065.9" y1="687" x2="1065.9" y2="683.5" stroke="#111" stroke-width="1.2"/>
<text x="1055.43" y="702.6" font-size="12.62" fill="#111" text-anchor="start" font-weight="bold" textLength="15.57" lengthAdjust="spacingAndGlyphs">10</text>
<text x="1070.67" y="697.6" font-size="9.32" fill="#111" text-anchor="start" font-weight="normal" textLength="5.05" lengthAdjust="spacingAndGlyphs">9</text>
<text x="898.75" y="723.35" font-size="15.66" fill="#111" text-anchor="start" font-weight="bold" textLength="119.93" lengthAdjust="spacingAndGlyphs">Resistance (Ω)</text>
<text transform="translate(807.03 553.3) rotate(-90)" x="0" y="0" font-size="17.28" fill="#111" font-weight="bold" textLength="149.8" lengthAdjust="spacingAndGlyphs">Average voltage (V)</text>
<text x="780.86" y="265.87" font-size="16.51" fill="#111" text-anchor="start" font-weight="bold" textLength="20.7" lengthAdjust="spacingAndGlyphs">(f)</text>
<line x1="867" y1="295.3" x2="888.5" y2="295.3" stroke="#505050" stroke-width="1.3"/>
<circle cx="877.75" cy="295.3" r="2.6" fill="#8a8a8a" stroke="#8a8a8a" stroke-width="0.5"/>
<circle cx="876.95" cy="294.5" r="0.91" fill="#fff" opacity="0.45"/>
<text x="891.18" y="298.91" font-size="12.32" fill="#111" text-anchor="start" font-weight="bold" textLength="34.03" lengthAdjust="spacingAndGlyphs">0 kPa</text>
<line x1="867" y1="311.22" x2="888.5" y2="311.22" stroke="#7ab040" stroke-width="1.3"/>
<circle cx="877.75" cy="311.22" r="2.6" fill="#4e9a24" stroke="#4e9a24" stroke-width="0.5"/>
<circle cx="876.95" cy="310.42" r="0.91" fill="#fff" opacity="0.45"/>
<text x="891.16" y="314.83" font-size="12.32" fill="#111" text-anchor="start" font-weight="bold" textLength="46.57" lengthAdjust="spacingAndGlyphs">0.1 kPa</text>
<line x1="867" y1="327.14" x2="888.5" y2="327.14" stroke="#c86a3c" stroke-width="1.3"/>
<circle cx="877.75" cy="327.14" r="2.6" fill="#e0601e" stroke="#e0601e" stroke-width="0.5"/>
<circle cx="876.95" cy="326.34" r="0.91" fill="#fff" opacity="0.45"/>
<text x="891.16" y="330.75" font-size="12.32" fill="#111" text-anchor="start" font-weight="bold" textLength="46.57" lengthAdjust="spacingAndGlyphs">0.2 kPa</text>
<line x1="867" y1="343.06" x2="888.5" y2="343.06" stroke="#6418a8" stroke-width="1.3"/>
<circle cx="877.75" cy="343.06" r="2.6" fill="#7a28c0" stroke="#7a28c0" stroke-width="0.5"/>
<circle cx="876.95" cy="342.26" r="0.91" fill="#fff" opacity="0.45"/>
<text x="891.16" y="346.67" font-size="12.32" fill="#111" text-anchor="start" font-weight="bold" textLength="46.57" lengthAdjust="spacingAndGlyphs">0.3 kPa</text>
<line x1="867" y1="358.98" x2="888.5" y2="358.98" stroke="#c09a38" stroke-width="1.3"/>
<circle cx="877.75" cy="358.98" r="2.6" fill="#d0a020" stroke="#d0a020" stroke-width="0.5"/>
<circle cx="876.95" cy="358.18" r="0.91" fill="#fff" opacity="0.45"/>
<text x="891.16" y="362.59" font-size="12.32" fill="#111" text-anchor="start" font-weight="bold" textLength="46.57" lengthAdjust="spacingAndGlyphs">0.4 kPa</text>
<line x1="867" y1="374.9" x2="888.5" y2="374.9" stroke="#3a90c0" stroke-width="1.3"/>
<circle cx="877.75" cy="374.9" r="2.6" fill="#2a88c8" stroke="#2a88c8" stroke-width="0.5"/>
<circle cx="876.95" cy="374.1" r="0.91" fill="#fff" opacity="0.45"/>
<text x="891.16" y="378.51" font-size="12.32" fill="#111" text-anchor="start" font-weight="bold" textLength="46.57" lengthAdjust="spacingAndGlyphs">0.5 kPa</text>
<line x1="867" y1="390.82" x2="888.5" y2="390.82" stroke="#c8c040" stroke-width="1.1" stroke-dasharray="1.1,1.3"/>
<polygon points="877.75,387.52 878.63,389.61 880.89,389.8 879.18,391.28 879.69,393.49 877.75,392.32 875.81,393.49 876.32,391.28 874.61,389.8 876.87,389.61" fill="#fff" stroke="#c8c040" stroke-width="0.7"/>
<text x="891.16" y="394.43" font-size="12.32" fill="#111" text-anchor="start" font-weight="bold" textLength="46.57" lengthAdjust="spacingAndGlyphs">0.6 kPa</text>
<line x1="867" y1="406.74" x2="888.5" y2="406.74" stroke="#40b8c8" stroke-width="1.1" stroke-dasharray="1.1,1.3"/>
<circle cx="877.75" cy="406.74" r="3" fill="#fff" stroke="#40b8c8" stroke-width="0.8"/>
<text x="891.16" y="410.35" font-size="12.32" fill="#111" text-anchor="start" font-weight="bold" textLength="46.57" lengthAdjust="spacingAndGlyphs">0.7 kPa</text>
<line x1="867" y1="422.66" x2="888.5" y2="422.66" stroke="#404060" stroke-width="1.1" stroke-dasharray="1.1,1.3"/>
<circle cx="877.75" cy="422.66" r="3" fill="#fff" stroke="#404060" stroke-width="0.8"/>
<text x="891.16" y="426.27" font-size="12.32" fill="#111" text-anchor="start" font-weight="bold" textLength="46.57" lengthAdjust="spacingAndGlyphs">0.8 kPa</text>
<line x1="867" y1="438.58" x2="888.5" y2="438.58" stroke="#e8a0a0" stroke-width="1.1" stroke-dasharray="1.1,1.3"/>
<rect x="875.15" y="435.98" width="5.2" height="5.2" fill="#fff" stroke="#e8a0a0" stroke-width="0.8"/>
<text x="891.16" y="442.19" font-size="12.32" fill="#111" text-anchor="start" font-weight="bold" textLength="46.57" lengthAdjust="spacingAndGlyphs">0.9 kPa</text>
<line x1="867" y1="454.5" x2="888.5" y2="454.5" stroke="#503838" stroke-width="1.1" stroke-dasharray="1.1,1.3"/>
<path d="M877.75,451.3 L881.15,456.9 L874.35,456.9 Z" fill="#fff" stroke="#503838" stroke-width="0.8"/>
<text x="890.85" y="458.11" font-size="12.32" fill="#111" text-anchor="start" font-weight="bold" textLength="46.88" lengthAdjust="spacingAndGlyphs">1.0 kPa</text>
</svg>
</body></html>
